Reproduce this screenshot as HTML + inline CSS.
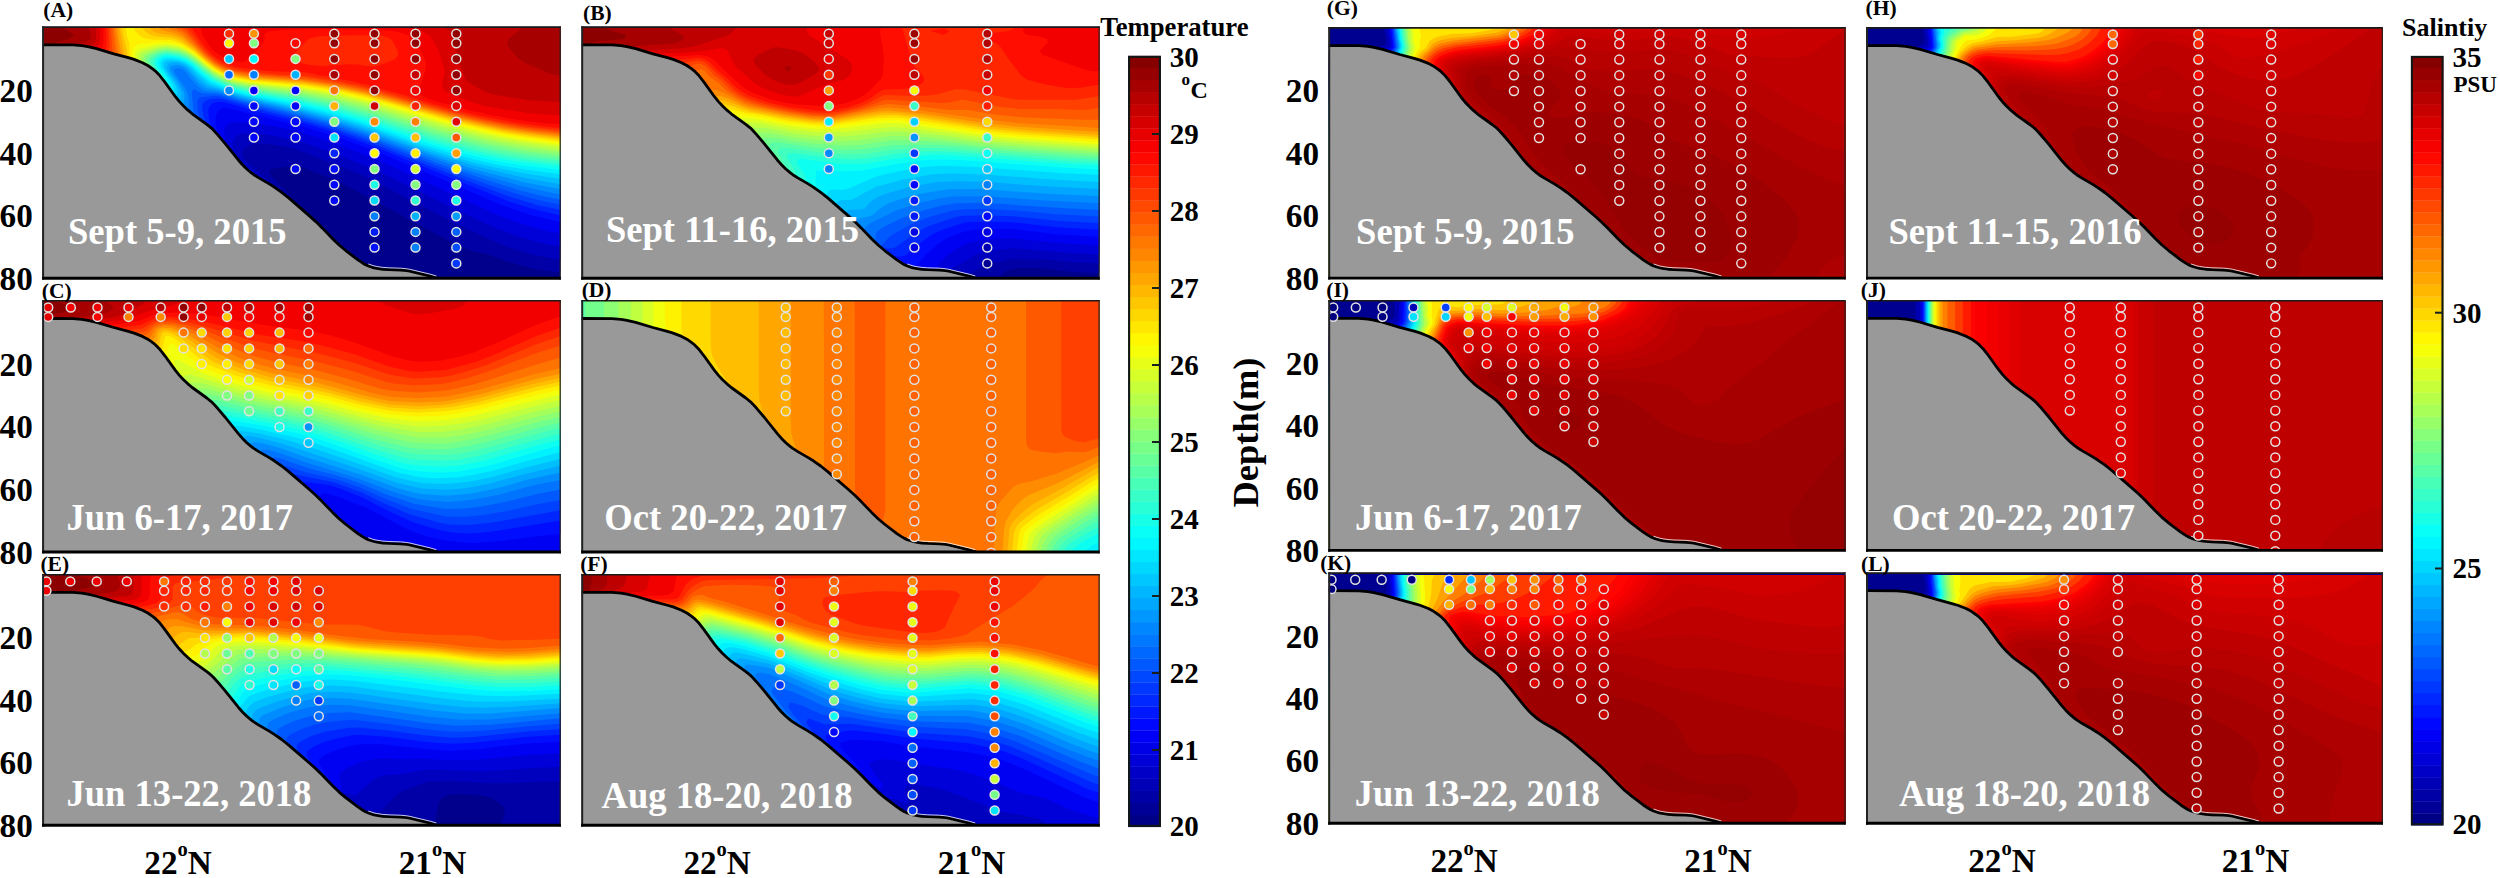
<!DOCTYPE html>
<html><head><meta charset="utf-8"><title>Temperature and salinity sections</title>
<style>html,body{margin:0;padding:0;background:#fff}svg{display:block}text{font-family:'Liberation Serif',serif;font-weight:bold}</style>
</head><body>
<svg width="2500" height="878" viewBox="0 0 2500 878">
<defs><clipPath id="cp"><rect x="0.5" y="0.5" width="517.8" height="252"/></clipPath><g id="sb"><polygon points="0.8,18.5 30.8,18.6 39.8,19.3 45.7,20.3 54.5,22.4 71.7,27.5 86.2,31.4 92,33.1 100.4,36.4 105.7,39.2 110.6,42.6 113,44.5 117.2,48.7 122.8,55.8 133.3,70.4 137.1,75.1 141.2,79.5 145.5,83.6 150.1,87.5 164.7,98 169.4,101.8 171.5,103.9 175.5,108.3 183.3,117.5 196.4,133.9 200.4,138.4 204.7,142.7 209.3,146.6 211.7,148.4 216.7,151.6 227.1,157.6 232.2,160.8 239.6,166 246.6,171.6 267,189.3 273.7,195.3 280.1,201.6 290.5,212.4 297,218.7 303.9,224.5 315.8,233.6 320.8,236.9 323.4,238.4 326.2,239.6 331.9,241.5 334.8,242.1 340.7,243 346.7,243.4 358.7,243.8 364.7,244.4 367.6,244.9 388.1,249.8 394.3,251.6 394.5,262 -5,262 -5,18.5" fill="#999" stroke="#000" stroke-width="2.8" stroke-linejoin="round"/><polyline points="326.2,237.7 331.9,239.6 334.8,240.2 340.7,241.1 346.7,241.5 358.7,241.9 364.7,242.5 367.6,243 388.1,247.9 394.3,249.7" fill="none" stroke="#fff" stroke-width="0.8"/></g></defs>
<rect width="2500" height="878" fill="#fff"/>
<!-- panel A -->
<g transform="translate(42.1,26.3) scale(1.00000,1.00000)">
<g clip-path="url(#cp)">
<rect width="518.7" height="253.4" fill="#00008c"/>
<path fill="#0000a6" d="M4.9,0.7 518.9,0.7 518.9,246.3 495,243.2 487,241.5 463.1,234.6 447.2,228.5 430.7,224.7 423.3,222.3 399.4,210.8 299.4,156.7 259.9,140.8 251.9,139.7 232,142.1 228,143.4 227,144.7 228.7,148.7 231.9,152.7 247.3,168.7 249.9,172.7 247.9,176.3 244,176.3 240,174.5 236,171.5 220.1,166.6 216.1,164.7 211.8,164.7 205.8,168.7 177.8,196.7 164.1,208.7 112.5,234.6 104,240.7 92.5,246.8 90.3,248.7 87.3,252.7 0.9,252.7 0.9,0.7Z"/>
<path fill="#0000bf" d="M4.9,0.7 518.9,0.7 518.9,233.7 492.2,228.7 463.1,219.8 443.2,211.3 415.3,198 320,148.7 251.9,122.3 244,120.4 224,117.5 216.1,116.9 212.1,117.2 208.1,118.5 204.1,121 200.5,124.7 199.9,128.7 202.1,132.7 205.6,136.7 228.7,156.7 231.4,160.7 228,164.4 224,163.8 208.1,157 202,152.7 196.1,149.9 189.1,144.7 184.2,142.4 176.5,136.7 164.3,131.6 159.8,128.7 156.3,128 150.2,128.7 136.4,133.4 128.4,134.9 120.4,137.4 92.5,143.9 76.6,149.4 68.6,150.9 60.7,153.4 32.8,159.9 16.8,165.4 8.9,166.9 0.9,169.4 0.9,0.7Z"/>
<path fill="#0000d9" d="M4.9,0.7 518.9,0.7 518.9,220.5 503,217.7 479.1,211.3 455.1,202.3 427.3,189.7 335.6,144.6 296.2,128.7 255.9,114.1 220.1,107.5 208.1,106.6 200.1,107.2 196,108.7 192.2,112 190.5,116.7 190.6,120.7 191.7,124.7 194.1,128.7 201,136.7 214.7,148.7 218.2,152.7 216.1,155.7 212.1,155.2 208.1,153.2 204.1,150.2 196.1,146.3 192.2,143.2 184.2,139.2 180.2,136 168.3,131 160.3,126.8 156.3,125.4 152.3,125.2 140.4,128.2 136.4,129.8 124.4,132.2 120.4,133.8 108.5,136.2 104.5,137.8 92.5,140.2 76.6,145.8 68.6,147.2 60.7,149.8 48.7,152.2 44.7,153.8 32.8,156.2 16.8,161.8 4.9,164.2 0.9,165.8 0.9,0.7ZM220.1,156.3 220.8,156.7 219.1,156.7Z"/>
<path fill="#0000f2" d="M4.9,0.7 518.9,0.7 518.9,207.3 506.9,205.1 483,198.8 459.1,190.1 443.2,183.3 342.5,136.7 312.9,124.7 279.9,112.7 255.9,105.3 235.2,100.7 224,98.6 196.1,95.6 192.2,95.6 188.2,96.4 184.2,99.3 182.1,104.7 182.6,112.7 183.6,116.7 187.4,124.7 196.1,136 201.3,140.7 204.1,144.9 200.1,145.4 196.1,142.6 188.2,138.9 180.2,133.8 168.3,129.2 160.3,124.8 156.3,123.7 148.3,123.2 92.5,136.9 72.6,143.4 32.8,153 16.8,158.3 0.9,162.4 0.9,0.7Z"/>
<path fill="#000dff" d="M4.9,0.7 518.9,0.7 518.9,195.9 491,189.5 459.1,178.7 399.6,152.7 342.4,128.7 311.7,116.7 288.7,108.7 262.4,100.7 208.1,87.6 198.9,84.7 184.2,81.7 180.2,82 176.1,84.7 174.2,88.7 173.5,92.7 173.6,96.7 176.2,108.7 179.2,116.7 184.2,125.4 189.8,132.7 188.2,136.2 180.2,131.4 168.3,127.6 160.3,123.4 148.3,120.5 132.4,117.6 128.4,117 124.4,117.3 116.5,120.7 108.5,122.5 96.5,127 88.6,128.9 68.6,136.1 48.7,141.8 41.8,144.7 32.8,146.8 20.8,151.4 0.9,157.9 0.9,0.7Z"/>
<path fill="#0026ff" d="M4.9,0.7 518.9,0.7 518.9,189.1 491,182.8 467.1,175.2 342.9,124.7 311.6,112.7 288.1,104.7 261,96.7 220.1,86.7 185.3,76.7 180.2,75.7 176.2,75.4 170.5,76.7 167,80.7 166.2,84.7 166.9,92.7 169.1,100.7 173.5,112.7 180.5,124.7 180.3,128.7 176.2,128.7 168.3,126.3 160.3,122.2 152.3,119.8 140.4,114.5 132.4,108.7 124.4,106.6 116.5,105.8 104.5,109.2 92.5,114.5 68.6,122.7 60.7,126.5 48.7,130.7 40.7,134.5 28.8,138.7 24.8,140.9 8.9,146.7 0.9,150.5 0.9,0.7Z"/>
<path fill="#0040ff" d="M4.9,0.7 518.9,0.7 518.9,183.7 495,178.6 467.1,170.1 423.3,153.7 319.5,112.7 296.4,104.7 255.4,92.7 228,86.2 180.2,72.7 176.2,72.1 168.3,72.7 164.3,74.2 160.7,76.7 160,80.7 161.1,88.7 166.2,104.7 169.8,112.7 175,120.7 176.6,124.7 176.2,125 172.2,125.7 168.3,124.9 164.3,122.5 152.3,118.3 140.4,111.8 136.4,108.7 126.8,104.7 120.4,103 101.7,92.7 92.5,89.8 88.6,89.2 76.6,92.5 68.6,93.9 56.7,98.6 48.7,101.1 41.9,104.7 28.8,114.5 24.4,116.7 8.9,131.7 4.9,134.3 0.9,135.7 0.9,0.7Z"/>
<path fill="#0059ff" d="M4.9,0.7 518.9,0.7 518.9,178.5 499,174.5 479.1,169.1 447.2,158.6 423.3,150.1 326,112.7 291.3,100.7 263.8,92.7 220.1,82 176.2,69.8 172.2,69.6 160.3,70.7 156.3,72 155.1,76.7 155.6,84.7 160.6,100.7 164.1,108.7 171.4,120.7 168.3,122.3 152.3,116.7 140.4,110 136.4,107.1 120.4,100.8 92.2,84.7 84.6,82.1 80.6,82.3 73.6,84.7 65.1,88.7 56.7,94.1 43.8,100.7 28.8,111.9 21.3,116.7 4.9,131.9 0.9,133.3 0.9,0.7Z"/>
<path fill="#0073ff" d="M4.9,0.7 518.9,0.7 518.9,173.4 499,169.5 479.1,164.4 435.2,150.7 395.4,136.6 321.5,108.7 285.2,96.7 256,88.7 200.1,75 176.2,67.7 160.3,66.9 154.9,64.7 152.3,62.9 149.6,64.7 151.3,84.7 156.5,100.7 163,112.7 164.6,116.7 164.3,117 160.3,117.5 155.5,116.7 144.3,110.8 136.4,105.6 120.4,99.4 116.5,96.4 89.1,80.7 84.6,79.6 80.6,79.4 75.5,80.7 67.3,84.7 41.2,100.7 28.8,110.7 24.7,112.7 20.8,115.9 8.9,127.6 4.9,130.8 0.9,132.2 0.9,0.7Z"/>
<path fill="#008cff" d="M4.9,0.7 518.9,0.7 518.9,168.2 503,165.3 479.1,159.8 427.3,144.7 367.5,123.8 316.4,104.7 287.8,95.4 259.9,87.7 200.1,73.4 176.2,65.9 163.7,64.7 160.3,63.4 156.3,60.4 149,52.7 142.7,44.7 140.4,43 136.4,41.6 132.4,43 131.7,44.7 133.9,48.7 142.5,60.7 144.5,64.7 146,68.7 146.6,72.7 146.3,80.7 148.2,88.7 152.6,100.7 159,112.7 156.3,114.2 144.3,109.2 136.4,104.1 124.4,100 120.4,98 92,80.7 84.6,78 80.6,77.7 72.6,80 63.3,84.7 45.3,96.7 28.8,109.5 23.5,112.7 8.9,126.5 4.9,129.6 0.9,131.5 0.9,0.7Z"/>
<path fill="#00a6ff" d="M4.9,0.7 518.9,0.7 518.9,163 483,156.2 431.2,142.6 399.4,132.4 319.7,103.7 291.8,94.6 259.9,85.8 200.1,71.9 176.2,64.1 164.3,62 160.3,59.7 156.3,56.1 144.3,42.7 140.4,40 136.4,38.9 132.4,38.8 128.4,40.1 127.9,40.7 128.3,44.7 136.8,56.7 141.4,64.7 142.6,68.7 141.8,80.7 142.7,84.7 147,96.7 150.5,104.7 148.3,108.1 144.3,107 136.4,102.6 124.4,98.9 96.5,82.7 92.5,79.8 88.6,78 84.6,76.5 77.1,76.7 68.6,80.2 60.7,84.4 28.8,108.5 22.3,112.7 8.9,125.5 0.9,130.9 0.9,0.7Z"/>
<path fill="#00bfff" d="M4.9,0.7 518.9,0.7 518.9,157.9 483,151.7 431.2,139.3 399.4,129.6 372.6,120.7 319.7,101.5 291.8,92.5 259.9,83.9 204.1,71.4 188.2,66.9 176.2,62.5 168.3,60.6 164.3,58.9 156.3,52.4 145.3,40.7 140.4,37.9 136.4,36.7 132.4,36.3 127.2,36.7 124.3,40.7 125.9,44.7 134.3,56.7 138.4,64.7 139.1,68.7 137.1,76.7 137.4,80.7 144.3,101.5 140.4,101.9 124.4,97.8 116.5,92.7 88.6,76.8 84.6,75.7 76.6,75.6 68.6,78.4 60.7,82.7 28.8,107.9 21.2,112.7 4.9,128 0.9,130.2 0.9,0.7Z"/>
<path fill="#00d9ff" d="M4.9,0.7 518.9,0.7 518.9,152.8 483,147.3 455.1,141.7 431.2,136.1 403.3,128.1 375.5,119.1 319.7,99.2 291.8,90.5 259.9,82.1 204.1,70 192.2,66.8 168.3,58.2 165.5,56.7 156.3,49 148.1,40.7 141.8,36.7 136.4,35 128.4,34.2 124.4,34.9 121.9,36.7 121.7,40.7 123.6,44.7 131.9,56.7 134.1,60.7 135.3,64.7 135,68.7 133.1,72.7 132.3,76.7 133.1,80.7 138.2,96.7 136.4,98 132.4,98.3 124.4,96.7 116.5,91.5 112.5,89.7 90.4,76.7 84.6,74.9 80.6,74.5 72.6,75.1 64.7,78.6 56.7,83.9 28.8,107.3 20.4,112.7 4.9,127.5 0.9,129.5 0.9,0.7Z"/>
<path fill="#00f2ff" d="M4.9,0.7 518.9,0.7 518.9,148 483,143.3 459.1,139.1 431.2,132.9 403.3,125.3 375.6,116.7 315.7,95.6 287.8,87.2 259.9,80.1 204.1,68.6 192.2,65.4 168.3,55.9 160.3,50 150.4,40.7 144.3,36.3 136.4,33.3 128.4,32.2 123,32.7 120.4,34.2 118.6,36.7 119.3,40.7 129.6,56.7 131.3,60.7 131.8,64.7 127.7,72.7 127.8,76.7 133.4,92.7 132.4,95.4 128.4,96.3 124.4,94.9 116.5,90.3 112.5,88.7 104.5,83.6 100.5,81.9 92.5,76.7 88.6,75.1 84.6,74.1 76.6,73.4 68.6,74.3 60.7,79 28.8,106.8 19.8,112.7 4.9,126.9 0.9,128.9 0.9,0.7Z"/>
<path fill="#0dfff2" d="M4.9,0.7 518.9,0.7 518.9,143.8 479.1,139 455.1,134.9 431.2,129.8 403.3,122.5 383.4,116.5 319.7,94.6 291.8,86.2 259.9,78.2 204.1,67.2 192.2,64 184.2,61.2 168.3,53.9 160.3,47.8 148.3,37.3 144.3,34.8 136.4,31.8 128.4,30.6 124.4,30.5 120.4,31.5 118.3,32.7 115.9,36.7 117,40.7 124.9,52.7 128.3,60.7 127.4,64.7 123.9,68.7 122.7,72.7 123.4,76.7 128.9,92.7 124.4,93.1 120.4,90.5 115.5,88.7 100.5,81 92.5,75.8 88.6,74.3 80.6,72.7 68.6,71.7 64.7,73 39.9,96.7 28.8,106.2 19.2,112.7 4.9,126.4 0.9,128.4 0.9,0.7Z"/>
<path fill="#26ffd9" d="M4.9,0.7 518.9,0.7 518.9,140.3 479.1,135.8 455.1,131.8 431.2,126.7 407.3,120.7 380.1,112.7 319.7,92.1 287.8,82.9 259.9,76.2 208.1,66.6 192.2,62.7 184.2,59.9 172.2,54.5 164.3,49 149.7,36.7 144.3,33.3 136.4,30.4 124.4,28.8 120.4,29.6 115,32.7 113.4,36.7 114.9,40.7 122.6,52.7 124.4,56.7 124.4,61.2 118.2,68.7 118.1,72.7 121.8,84.7 120.4,87.3 116.5,87 112.5,85.8 108.5,83.3 100.5,79.8 92.5,74.9 88.6,73.5 76.6,71.2 68.6,68.8 64.7,69.6 60.7,74 59.1,76.7 43.7,92.7 28.8,105.6 18.6,112.7 4.9,125.8 0.9,128 0.9,0.7Z"/>
<path fill="#40ffbf" d="M4.9,0.7 518.9,0.7 518.9,137.3 483,133.4 459.1,129.5 435.2,124.6 407.3,117.7 387.4,112 323.7,90.8 291.8,81.7 259.9,74.2 216.1,66.7 196.1,62.5 184.2,58.7 172.2,52.9 164.3,47.4 151.6,36.7 144.3,32 136.4,29 124.4,27.4 120.4,27.9 116.5,29.6 112.1,32.7 111.1,36.7 112.8,40.7 120.1,52.7 121.2,56.7 119.9,60.7 114.8,64.7 113.1,68.7 113.8,72.7 116.3,80.7 112.5,83.5 100.5,78.5 92.5,73.9 84.6,71.6 76.6,70.2 68.6,67.2 64.7,67.6 60.7,71.7 57.5,76.7 43,92.7 28.8,105 18,112.7 4.9,125.3 0.9,127.6 0.9,0.7Z"/>
<path fill="#59ffa6" d="M4.9,0.7 518.9,0.7 518.9,134.5 483,130.4 459.1,126.6 439.2,122.5 411.3,115.8 387.4,109 323.7,88.2 291.8,79.4 259.9,72.2 208.1,63.8 192.2,60.2 184.2,57.4 172.2,51.5 164.3,45.9 152.3,35.9 144.3,30.7 136.4,27.7 124.4,26.1 120.4,26.6 116.5,27.8 109.1,32.7 108.8,36.7 115.7,48.7 117.4,52.7 117.5,56.7 116.5,58.2 108.6,64.7 108.5,68.7 110.2,76.7 108.5,78.4 104.5,78.3 100.5,77.3 96.5,74.6 92.5,73 88.6,71.6 76.6,69.1 68.6,65.8 64.7,66.2 60.7,69.7 56.2,76.7 42.3,92.7 28.8,104.5 17.4,112.7 4.9,124.7 0.9,127.2 0.9,0.7Z"/>
<path fill="#73ff8c" d="M4.9,0.7 518.9,0.7 518.9,131.7 483,127.5 459.1,123.6 439.2,119.5 391.4,107.2 323.7,85.6 291.8,77 259.9,70.2 212.1,63.1 192.2,59 184.2,56.2 172.2,50.2 152.3,34.6 144.3,29.4 136.4,26.4 124.4,24.8 116.5,26.3 110.9,28.7 106.2,32.7 106.5,36.7 113.2,48.7 114.2,52.7 112.5,56.7 105.3,60.7 104.5,62 103.4,64.7 105,72.7 104.5,74.1 100.5,74.8 92.5,71.6 78.3,68.7 68.6,64.4 64.7,64.7 60.7,68.2 55.4,76.7 41.5,92.7 28.8,104 16.8,112.6 4.9,124.3 0.9,126.8 0.9,0.7Z"/>
<path fill="#8cff73" d="M4.9,0.7 518.9,0.7 518.9,129 483,124.7 443.2,117.5 395.4,105.3 327.6,84.1 291.8,74.7 262.4,68.7 216.1,62.4 192.2,57.8 184.2,55 172.2,48.9 164.3,43.2 152.3,33.3 144.3,28.2 136.4,25.2 124.4,23.5 116.5,24.8 106.9,28.7 103.3,32.7 104.2,36.7 110.4,48.7 110.4,52.7 108.5,54.7 100.5,59.2 99,60.7 99,68.7 96.5,70.3 81.8,68.7 68.6,63.4 64.7,63.7 60.7,67.1 54.5,76.7 40.8,92.7 28.8,103.5 16.8,112.2 4.9,123.8 0.9,126.4 0.9,0.7Z"/>
<path fill="#a6ff59" d="M4.9,0.7 518.9,0.7 518.9,126.2 483,121.8 459.1,117.8 439.2,113.5 395.4,102.4 324.8,80.7 292.9,72.7 259.9,66.4 208.1,59.9 192.2,56.6 184.2,53.9 172.2,47.7 164.3,41.9 152.3,32 144.3,26.9 136.4,23.8 124.4,22.3 116.5,23.3 102.6,28.7 100.7,32.7 102,36.7 106.2,44.7 107.2,48.7 105.1,52.7 95.9,56.7 93.8,60.7 94,64.7 92.5,67.1 88.6,67.9 80.6,67.1 72.6,63.3 68.6,62.3 64.7,62.8 60.7,66 53.6,76.7 40.2,92.7 28.8,103.1 16.8,111.7 4.9,123.4 0.9,126.1 0.9,0.7Z"/>
<path fill="#bfff40" d="M4.9,0.7 518.9,0.7 518.9,123.6 483,119 459.1,115 443.2,111.6 395.4,99.5 319.3,76.7 284.1,68.7 259.9,64.5 208.1,58.6 192.2,55.5 184.2,52.7 172.2,46.5 152.3,30.8 144.3,25.7 136.4,22.5 124.4,21 116.5,21.8 100.5,27.2 98.8,28.7 98.2,32.7 103.4,44.7 103.3,48.7 100.5,51 92.5,54.1 89.4,56.7 88.9,64.7 84.6,65.9 80.6,65.7 72.6,62.1 68.6,61.3 64.7,61.8 60.7,64.9 52.7,76.7 39.6,92.7 28.8,102.6 16.8,111.3 4.9,122.9 0.9,125.7 0.9,0.7Z"/>
<path fill="#d9ff26" d="M4.9,0.7 518.9,0.7 518.9,121 479.1,115.7 455.1,111.5 435.2,107 399.4,97.9 327.5,76.7 293.9,68.7 259.9,62.9 216.1,58.5 192.2,54.4 184.2,51.7 172.2,45.4 152.3,29.5 144.3,24.4 136.4,21.2 124.4,19.4 116.5,20.2 100.5,24.3 96.5,27.1 95.6,28.7 95.8,32.7 99.3,40.7 100.3,44.7 97.6,48.7 86.3,52.7 84.1,56.7 84.4,60.7 80.6,63.5 68.6,60.1 64.7,60.8 60.7,63.9 52.7,75.8 39,92.7 28.8,102.1 16.8,110.8 4.9,122.5 0.9,125.3 0.9,0.7Z"/>
<path fill="#f2ff0d" d="M4.9,0.7 518.9,0.7 518.9,118.8 487,114.7 463.1,110.7 443.2,106.5 399.4,95.6 334.8,76.7 302.4,68.7 282.1,64.7 259.9,61.3 220.1,57.7 204.1,55.7 192.2,53.3 184.2,50.6 172.2,44.3 164.3,38.4 152.3,28.3 144.3,23.1 136.4,19.6 132.4,18.6 124.4,17.7 116.5,18.2 96.5,22.7 94.3,24.7 92.7,28.7 93.4,32.7 96.6,40.7 96.3,44.7 92.5,47.1 84.6,49.4 80.6,51.8 79.7,52.7 78.8,56.7 76.6,58.7 68.6,58.6 64.7,59.6 60.7,62.9 52.7,74.8 38.4,92.7 28.8,101.6 16.8,110.3 4.9,122.1 0.9,124.9 0.9,0.7Z"/>
<path fill="#fff200" d="M4.9,0.7 518.9,0.7 518.9,116.6 479.1,111.3 459.1,107.9 435.2,102.6 403.3,94.7 326.4,72.7 290.5,64.7 259.9,59.9 208.1,55.1 192.2,52.2 184.2,49.5 172.2,43.2 163.6,36.7 152.3,26.9 140.4,19.6 132.4,16.9 120.4,15.8 96.5,17.9 92.5,20.1 90.5,24.7 90,28.7 93.3,40.7 92.5,42.5 90.2,44.7 76.6,48.7 71.6,56.7 64.7,58.3 60.7,62 52.7,73.9 37.8,92.7 28.8,101.2 16.8,109.9 4.9,121.6 0.9,124.5 0.9,0.7Z"/>
<path fill="#ffd900" d="M4.9,0.7 83.9,0.7 84.5,8.7 87.1,16.7 87.5,28.7 89.7,36.7 89.3,40.7 88.6,41.4 84.6,43.3 76.6,45 72.6,46.6 70.1,48.7 69.1,52.7 60.7,61 56.7,66.3 52.7,73 44.7,82.4 40.7,88.7 37.2,92.7 28.8,100.7 16.8,109.4 4.9,121.2 0.9,124 0.9,0.7ZM92.5,0.7 518.9,0.7 518.9,114.9 483,110.3 463.1,107 443.2,102.8 407.3,94.1 332.1,72.7 297.8,64.7 263.9,59.2 216.1,55 204.1,53.5 192.2,51.1 180.2,46.6 172.2,42.1 164.3,36.1 152.3,25.6 140.4,17.8 132.4,14.6 128.4,13.8 112.5,13.4 104.5,12.5 100.5,11.1 96.7,8.7 93.1,4.7 90.9,0.7Z"/>
<path fill="#ffbf00" d="M4.9,0.7 79.8,0.7 80.6,7.5 84.1,20.7 86.4,36.7 84.6,39.6 82.9,40.7 67.2,44.7 65.1,48.7 65.3,52.7 63.4,56.7 60.7,59.6 52.2,72.7 44.7,81.5 40,88.7 28.2,100.7 16.8,109 4.9,120.7 0.9,123.6 0.9,0.7ZM100.5,0.7 518.9,0.7 518.9,113.2 491,109.8 467.1,106.1 431.2,98.5 399.4,90.4 322,68.7 299.7,63.8 283.1,60.7 259.9,57.4 220.1,54.3 204.1,52.4 192.2,50.1 180.2,45.6 172.2,41 161.6,32.7 152.3,24.1 136.4,13.6 128.4,11.2 116.5,10.4 108.5,8.7 102.6,4.7 99.8,0.7Z"/>
<path fill="#ffa600" d="M4.9,0.7 77.2,0.7 83,32.7 82.2,36.7 80.6,37.9 76.6,39.3 64.7,41.8 60.8,44.7 62.7,52.7 61.8,56.7 51.4,72.7 44.7,80.7 39.3,88.7 27.5,100.7 16.8,108.5 4.9,120.2 0.9,123.1 0.9,0.7ZM108.5,0.7 518.9,0.7 518.9,111.7 479.1,106.5 459.1,103.2 435.2,98 403.3,90.1 323.7,67.9 290,60.7 259.9,56.2 216.1,52.8 200.1,50.7 192.2,49 180.6,44.7 173.6,40.7 163.1,32.7 152.3,22.6 140.4,13.5 136.4,11.1 128.4,8.6 116.5,6.9 112.5,5.6 110.8,4.7 107.6,0.7Z"/>
<path fill="#ff8c00" d="M4.9,0.7 75,0.7 75.8,8.7 79.6,28.7 79.7,32.7 76.6,36.2 75.5,36.7 60.7,39.5 57.7,40.7 56.5,44.7 60.5,52.7 60.3,56.7 50.6,72.7 43.9,80.7 38.6,88.7 35.1,92.7 26.9,100.7 16.8,107.9 4.9,119.6 0.9,122.7 0.9,0.7ZM116.5,0.7 518.9,0.7 518.9,110.2 487,106.4 463.1,102.6 443.2,98.4 407.3,89.9 323.7,66.6 291.8,59.8 259.9,55 224,52.5 204.1,50.2 192.2,47.9 183,44.7 172.2,38.6 164.6,32.7 152.3,21 140.4,10.8 132.4,7 120.4,4 115.3,0.7Z"/>
<path fill="#ff7300" d="M4.9,0.7 72.8,0.7 76.6,28.7 75.3,32.7 72.6,34.3 56.7,37.3 52.7,39.6 51.9,40.7 53.3,44.7 58.6,52.7 59,56.7 57.4,60.7 49.8,72.7 43,80.7 38,88.7 34.4,92.7 26.3,100.7 16.8,107.3 0.9,122.2 0.9,0.7ZM124.4,0.7 518.9,0.7 518.9,108.8 487,105 463.1,101.2 443.2,97.1 407.8,88.7 327.6,66.4 291.8,58.6 259.9,53.9 232,52 204.1,49.1 192.2,46.7 180.2,42.2 172.2,37.4 161.7,28.7 140.4,8 136.4,5.8 123.7,0.7Z"/>
<path fill="#ff5900" d="M4.9,0.7 70.7,0.7 73.4,24.7 72.6,29.6 68.6,32.6 52.7,35.2 48.4,36.7 48,40.7 56.7,52.7 57.7,56.7 56.4,60.7 49,72.7 42.2,80.7 37.3,88.7 33.7,92.7 25.6,100.7 16.8,106.8 0.9,121.8 0.9,0.7ZM132.4,0.7 518.9,0.7 518.9,107.2 494.7,104.7 467.9,100.7 431.2,93.2 397.9,84.7 335.6,67.1 319.7,63 295.8,58.1 263.9,53.1 210.4,48.7 192.2,45.5 180.2,41 173.2,36.7 163.3,28.7 144.3,8.3 140.4,5.1 131.6,0.7Z"/>
<path fill="#ff4000" d="M4.9,0.7 68.6,0.7 70.3,24.7 68.8,28.7 64.7,30.6 48.7,32.9 44.7,34.6 43,36.7 44.8,40.7 54.7,52.7 56.4,56.7 55,60.7 48.7,71.6 41.3,80.7 36.5,88.7 33,92.7 25,100.7 16.8,106.2 0.9,121.3 0.9,0.7ZM140.4,0.7 518.9,0.7 518.9,105.6 477.5,100.7 435.5,92.7 403.1,84.7 323.7,62.5 287.8,55 259.9,51 222.5,48.7 194,44.7 182.5,40.7 176.2,37.3 170,32.7 161.3,24.7 144.3,5 138.3,0.7Z"/>
<path fill="#ff2600" d="M4.9,0.7 66.4,0.7 67.5,20.7 66.8,24.7 64.7,27.1 61.1,28.7 44.7,30.9 39.2,32.7 38.9,36.7 52.7,52.7 54.5,56.7 53.7,60.7 48.7,69.7 40.3,80.7 35.4,88.7 32,92.7 24,100.7 16.8,105.7 0.9,120.9 0.9,0.7ZM144.3,0.7 518.9,0.7 518.9,103.8 488.3,100.7 462.5,96.7 442.7,92.7 409,84.7 331.6,62.7 315.7,58.7 303.3,56.7 291.8,53.9 263.9,49.7 240,48.6 201.7,44.7 188.2,41.2 178.2,36.7 167.4,28.7 160.1,20.7 148.3,5.4 143.8,0.7Z"/>
<path fill="#ff0d00" d="M4.9,0.7 64,0.7 64.5,16.7 64.3,20.7 62.1,24.7 60.7,25.5 56.7,26.7 40.1,28.7 36.8,29.8 34,32.7 35.6,36.7 47.4,48.7 50.3,52.7 52.5,56.7 51.9,60.7 45,72.7 38.9,80.7 34.3,88.7 30.9,92.7 23,100.7 16.8,105.1 0.9,120.2 0.9,0.7ZM152.3,0.7 518.9,0.7 518.9,101.5 506.2,100.7 475.2,96.7 433.4,88.7 387.5,76.7 367.5,70.1 332.1,60.7 327.6,58.9 316.5,56.7 311.7,55.1 297.1,52.7 287.8,50.1 274.5,48.7 271.9,47.6 263.9,46.1 224.8,44.7 193.4,40.7 182.5,36.7 175.6,32.7 170.6,28.7 164.3,22.3 157,12.7 149,0.7ZM266.9,12.7 258,20.7 251.1,28.7 251.4,32.7 259.9,37 267.9,38.6 279.8,39.8 307.7,37.9 315.7,38.2 327.6,40.1 331.6,40.1 335.6,39.4 347.6,35.2 352.9,32.7 355.5,29.6 356.1,28.7 355.6,24.7 351.7,16.7 348.7,12.7 343.6,10.3 339.6,9.2 331.6,8.7 291.8,9.4 275.8,10.1 267.9,12.3Z"/>
<path fill="#f20000" d="M4.9,0.7 61.3,0.7 61.3,16.7 60.4,20.7 56.7,23.6 52.7,24.8 36.8,26.5 30.4,28.7 30.3,32.7 32.6,36.7 44.7,48.2 47.7,52.7 49,56.7 48.7,60.7 45,68.7 33.2,88.7 24.8,98 12.9,107.8 0.9,119.2 0.9,0.7ZM160.3,0.7 518.9,0.7 518.9,97.9 498.5,96.7 469.5,92.7 459.1,90.4 447.7,88.7 439.2,86.4 429.3,84.7 407.3,78.3 399.6,76.7 386.3,72.7 378.6,68.7 376.5,64.7 383.1,44.7 383.7,40.7 383.6,36.7 382.5,32.7 378.4,24.7 370.3,12.7 365.6,8.7 359.5,6.7 351.2,4.7 335.6,3.6 271.9,3 240,3.7 227.8,4.7 224,6.7 221.9,8.7 222.7,12.7 220.8,16.7 217.5,20.7 206.3,32.7 204.1,34.2 200.1,35.6 196.1,35.5 185.3,32.7 177.4,28.7 172.2,25 168,20.7 160.5,8.7 158.2,0.7Z"/>
<path fill="#d90000" d="M4.9,0.7 57.9,0.7 57.9,12.7 57.5,16.7 54.7,20.7 48.7,22.5 30.1,24.7 28.8,25.1 25.4,28.7 27.1,32.7 32.8,40.2 42.3,48.7 44.9,52.7 44.9,56.7 44,60.7 42.8,64.7 37.5,76.7 32.8,86.4 28.5,92.7 24.8,97 20.8,100.7 16.8,103.2 0.9,118.3 0.9,0.7ZM355.5,0.7 518.9,0.7 518.9,89.3 487,86.9 443.2,79.9 431.7,76.7 403.3,65.2 400,60.7 400.2,56.7 402,48.7 402.2,44.7 401.5,40.7 396.6,24.7 390,12.7 386.9,8.7 378.9,4.7 367.5,2.2 355.5,0.7Z"/>
<path fill="#bf0000" d="M4.9,0.7 53.6,0.7 54,8.7 53.8,12.7 52.5,16.7 48.7,19 44.7,20 28.8,21.8 24.8,22.7 21.4,24.7 21.6,28.7 24.1,32.7 32.8,44.3 37.9,48.7 40.7,52.6 40.3,56.7 32.8,79.4 29,88.7 23.5,96.7 16.8,102 0.9,117.4 0.9,0.7ZM403.3,0.7 518.9,0.7 518.9,75.8 487,73.9 453.1,68.7 441.2,64.7 427.6,56.7 423.3,52.7 421.6,48.7 415.3,31.2 409,8.7 407,4.7 402.6,0.7Z"/>
<path fill="#a60000" d="M4.9,0.7 45.5,0.7 48,4.7 48.9,8.7 48.2,12.7 44.7,15.5 40.9,16.7 20.8,19.6 18.1,20.7 15.6,24.7 17.8,28.7 24.2,36.7 26.4,40.7 27.2,44.7 25.9,84.7 23.9,92.7 21.4,96.7 0.9,116.2 0.9,0.7ZM479.1,2.1 480.5,0.7 518.9,0.7 518.9,49.4 512.9,48.7 506.9,47 483.2,36.7 476.6,32.7 472.7,28.7 466.3,20.7 464.8,16.7 466.4,12.7 476.3,4.7Z"/>
<path fill="#8c0000" d="M4.9,0.7 20.2,0.7 32.3,8.7 26.7,12.7 16.8,15.1 12.9,16.7 8.7,20.7 9.1,24.7 12,28.7 19.8,36.7 21.7,40.7 20.5,52.7 20.4,88.7 19.7,92.7 17.6,96.7 0.9,113.3 0.9,0.7Z"/>
<use href="#sb"/>
<g stroke="#e2e2e2" stroke-width="1.5"><circle cx="186.9" cy="7.5" r="4.5" fill="#ff2e00"/><circle cx="186.9" cy="16.9" r="4.5" fill="#fffa00"/><circle cx="186.9" cy="32.6" r="4.5" fill="#00c7ff"/><circle cx="186.9" cy="48.4" r="4.5" fill="#006bff"/><circle cx="186.9" cy="64.1" r="4.5" fill="#008aff"/><circle cx="211.8" cy="7.5" r="4.5" fill="#ff9400"/><circle cx="211.8" cy="16.9" r="4.5" fill="#80ff80"/><circle cx="211.8" cy="32.6" r="4.5" fill="#00faff"/><circle cx="211.8" cy="48.4" r="4.5" fill="#0080ff"/><circle cx="211.8" cy="64.1" r="4.5" fill="#0000fa"/><circle cx="211.8" cy="79.8" r="4.5" fill="#0005ff"/><circle cx="211.8" cy="95.5" r="4.5" fill="#0005ff"/><circle cx="211.8" cy="111.3" r="4.5" fill="#0005ff"/><circle cx="253.4" cy="16.9" r="4.5" fill="#ff0500"/><circle cx="253.4" cy="32.6" r="4.5" fill="#80ff80"/><circle cx="253.4" cy="48.4" r="4.5" fill="#00b2ff"/><circle cx="253.4" cy="64.1" r="4.5" fill="#0005ff"/><circle cx="253.4" cy="79.8" r="4.5" fill="#0005ff"/><circle cx="253.4" cy="95.5" r="4.5" fill="#0005ff"/><circle cx="253.4" cy="111.3" r="4.5" fill="#0005ff"/><circle cx="253.4" cy="142.7" r="4.5" fill="#0005ff"/><circle cx="292.2" cy="7.5" r="4.5" fill="#940000"/><circle cx="292.2" cy="16.9" r="4.5" fill="#940000"/><circle cx="292.2" cy="32.6" r="4.5" fill="#940000"/><circle cx="292.2" cy="48.4" r="4.5" fill="#a80000"/><circle cx="292.2" cy="64.1" r="4.5" fill="#ff7500"/><circle cx="292.2" cy="79.8" r="4.5" fill="#ffb300"/><circle cx="292.2" cy="95.5" r="4.5" fill="#80ff80"/><circle cx="292.2" cy="111.3" r="4.5" fill="#00e5ff"/><circle cx="292.2" cy="127" r="4.5" fill="#0024ff"/><circle cx="292.2" cy="142.7" r="4.5" fill="#000fff"/><circle cx="292.2" cy="158.4" r="4.5" fill="#0005ff"/><circle cx="292.2" cy="174.2" r="4.5" fill="#0005ff"/><circle cx="332.4" cy="7.5" r="4.5" fill="#940000"/><circle cx="332.4" cy="16.9" r="4.5" fill="#940000"/><circle cx="332.4" cy="32.6" r="4.5" fill="#940000"/><circle cx="332.4" cy="48.4" r="4.5" fill="#940000"/><circle cx="332.4" cy="64.1" r="4.5" fill="#940000"/><circle cx="332.4" cy="79.8" r="4.5" fill="#d10000"/><circle cx="332.4" cy="95.5" r="4.5" fill="#ff8a00"/><circle cx="332.4" cy="111.3" r="4.5" fill="#ffc700"/><circle cx="332.4" cy="127" r="4.5" fill="#fffa00"/><circle cx="332.4" cy="142.7" r="4.5" fill="#80ff80"/><circle cx="332.4" cy="158.4" r="4.5" fill="#1affe5"/><circle cx="332.4" cy="174.2" r="4.5" fill="#00dbff"/><circle cx="332.4" cy="189.9" r="4.5" fill="#0080ff"/><circle cx="332.4" cy="205.6" r="4.5" fill="#001aff"/><circle cx="332.4" cy="221.3" r="4.5" fill="#000fff"/><circle cx="373.4" cy="7.5" r="4.5" fill="#940000"/><circle cx="373.4" cy="16.9" r="4.5" fill="#940000"/><circle cx="373.4" cy="32.6" r="4.5" fill="#940000"/><circle cx="373.4" cy="48.4" r="4.5" fill="#c70000"/><circle cx="373.4" cy="64.1" r="4.5" fill="#f00000"/><circle cx="373.4" cy="79.8" r="4.5" fill="#ff2400"/><circle cx="373.4" cy="95.5" r="4.5" fill="#ff8000"/><circle cx="373.4" cy="111.3" r="4.5" fill="#ffbd00"/><circle cx="373.4" cy="127" r="4.5" fill="#fff000"/><circle cx="373.4" cy="142.7" r="4.5" fill="#d1ff2e"/><circle cx="373.4" cy="158.4" r="4.5" fill="#80ff80"/><circle cx="373.4" cy="174.2" r="4.5" fill="#2effd1"/><circle cx="373.4" cy="189.9" r="4.5" fill="#00b2ff"/><circle cx="373.4" cy="205.6" r="4.5" fill="#0080ff"/><circle cx="373.4" cy="221.3" r="4.5" fill="#0080ff"/><circle cx="414.2" cy="7.5" r="4.5" fill="#940000"/><circle cx="414.2" cy="16.9" r="4.5" fill="#940000"/><circle cx="414.2" cy="32.6" r="4.5" fill="#940000"/><circle cx="414.2" cy="48.4" r="4.5" fill="#940000"/><circle cx="414.2" cy="64.1" r="4.5" fill="#940000"/><circle cx="414.2" cy="79.8" r="4.5" fill="#db0000"/><circle cx="414.2" cy="95.5" r="4.5" fill="#e50000"/><circle cx="414.2" cy="111.3" r="4.5" fill="#ff5700"/><circle cx="414.2" cy="127" r="4.5" fill="#ff9e00"/><circle cx="414.2" cy="142.7" r="4.5" fill="#faff05"/><circle cx="414.2" cy="158.4" r="4.5" fill="#80ff80"/><circle cx="414.2" cy="174.2" r="4.5" fill="#1affe5"/><circle cx="414.2" cy="189.9" r="4.5" fill="#009eff"/><circle cx="414.2" cy="205.6" r="4.5" fill="#0061ff"/><circle cx="414.2" cy="221.3" r="4.5" fill="#004dff"/><circle cx="414.2" cy="237.1" r="4.5" fill="#0038ff"/></g>
</g>
<path d="M0,0.8H518.7" stroke="#1a1a1a" stroke-width="1.6"/>
<path d="M1,0V253.4" stroke="#222" stroke-width="2"/>
<path d="M518.1,0V253.4" stroke="#222" stroke-width="1.2"/>
<path d="M0,251.95H518.7" stroke="#000" stroke-width="2.9"/>
</g>
<text transform="translate(68.0,243.7) scale(1,1.06)" font-size="36.6" fill="#fff">Sept 5-9, 2015</text>
<!-- panel B -->
<g transform="translate(581.2,26.3) scale(0.99961,1.00000)">
<g clip-path="url(#cp)">
<rect width="518.7" height="253.4" fill="#00008c"/>
<path fill="#0000a6" d="M4.8,0.7 519,0.7 519,246.9 495.1,245.9 459.2,242 439.3,241.8 431.3,243 425.3,244.7 419.6,248.7 419.9,252.7 0.8,252.7 0.8,0.7Z"/>
<path fill="#0000bf" d="M4.8,0.7 519,0.7 519,237.3 491.1,235.9 463.2,233.2 431.3,232.8 410.3,236.7 387.5,247.3 383.5,248.3 375.5,248 372.4,248.7 371.5,249 369.8,252.7 0.8,252.7 0.8,0.7Z"/>
<path fill="#0000d9" d="M4.8,0.7 519,0.7 519,228.2 495.1,227 435.3,222.3 427.3,222.5 407.4,224.7 395.4,227.9 373.8,240.7 371.5,241.5 367.5,244.9 366.2,248.7 365.9,252.7 0.8,252.7 0.8,0.7Z"/>
<path fill="#0000f2" d="M4.8,0.7 519,0.7 519,219.2 479.1,216.6 431.3,212 407.4,213 395.4,214.6 387.4,216.7 378.8,220.7 366.6,228.7 358.1,236.7 356.5,240.7 361.6,248.7 362.4,252.7 0.8,252.7 0.8,0.7Z"/>
<path fill="#000dff" d="M4.8,0.7 519,0.7 519,210.7 475.2,207.9 431.3,202.8 399.4,202.9 385,204.7 373.5,208.7 364.8,212.7 355.6,218.6 344.6,228.7 337.1,236.7 334.3,240.7 332.2,244.7 331.7,247.8 330.2,248.7 328.5,252.7 303.7,252.7 299.8,248.7 291.8,248.7 287.8,252.7 0.8,252.7 0.8,0.7Z"/>
<path fill="#0026ff" d="M4.8,0.7 519,0.7 519,203.5 475.2,200.9 431.3,195.9 399.4,195.4 383.5,196.2 359.6,204.2 351.6,207.8 344.5,212.7 323.7,229.5 319.7,230.3 315.7,230.1 303.7,226.4 299.8,226.6 283.8,233.6 274.4,236.7 259.9,243.9 247.9,248.1 237.9,252.7 0.8,252.7 0.8,0.7Z"/>
<path fill="#0040ff" d="M4.8,0.7 519,0.7 519,196.9 475.2,194.4 431.3,189.9 399.4,189 379.5,189.8 371.5,191.8 345.2,200.7 331.6,208.7 315,220.7 311.7,221.9 303.7,222.2 299.8,223.1 283.8,230.7 275.8,233.2 255.9,242.7 247.9,245.2 231,252.7 0.8,252.7 0.8,0.7Z"/>
<path fill="#0059ff" d="M4.8,0.7 519,0.7 519,190.3 475.2,187.9 435.3,184.2 407.4,182.8 383.5,182.9 371.5,184.2 347.6,190.9 332.2,196.7 310.8,208.7 306,212.7 303.2,216.7 298.2,220.7 291.2,224.7 283.8,228.2 275.8,230.6 255.9,240.2 247.9,242.6 232,249.6 226.9,252.7 0.8,252.7 0.8,0.7Z"/>
<path fill="#0073ff" d="M4.8,0.7 519,0.7 519,183.7 475.2,181.5 403.4,176.4 375.5,176.9 363.5,178.7 343.6,183.7 328.6,188.7 318.9,192.7 302.4,200.7 295.8,205.4 294.4,208.7 294.9,216.7 292.2,220.7 285.3,224.7 275.8,227.7 257.4,236.7 247.9,239.7 237.5,244.7 228,248.2 223.6,252.7 0.8,252.7 0.8,0.7Z"/>
<path fill="#008cff" d="M4.8,0.7 519,0.7 519,177 463.2,174.2 403.4,169.9 371.5,170.3 359.6,172 339.6,176.3 315.7,184 289.7,196.7 284.4,200.7 280.2,208.7 279.8,210.7 277.2,212.7 275.8,215.7 267.9,216.7 251.9,216.7 247.9,212.7 244,212.7 240,216.7 232,216.7 228,220.7 220,220.7 216.1,224.7 204.1,224.7 200.1,228.7 192.1,228.7 188.1,232.7 180.2,232.7 176.2,236.7 168.2,236.7 164.2,240.7 160.2,240.7 156.3,244.7 148.3,244.7 144.3,248.7 140.3,248.7 136.3,252.7 0.8,252.7 0.8,0.7Z"/>
<path fill="#00a6ff" d="M4.8,0.7 519,0.7 519,169.9 463.2,167.2 399.4,162.7 367.5,162.9 347.6,165.9 331.7,169.3 307.7,176.8 300.9,180.7 291.6,188.7 287.8,190.3 275.9,192.7 271.9,195.4 267.9,195.8 263.9,195.2 255.9,192.6 251.9,192 248.1,192.7 200.1,208.6 184,212.7 152.3,223.9 140.3,229.5 132.3,231.9 120.4,237.5 112.4,239.9 100.5,245.5 90.7,248.7 83,252.7 0.8,252.7 0.8,0.7Z"/>
<path fill="#00bfff" d="M4.8,0.7 519,0.7 519,162.8 467.2,160.2 403.4,155.5 375.5,155 355.6,155.8 328.9,160.7 307.7,166.5 299.8,169.3 291.8,173.6 288.1,176.7 283.8,182 279.8,183.1 267.9,183.4 259.9,187.9 251.9,188 200.1,205.5 188.1,207.9 164.2,216.3 152.3,220.9 140.3,226.5 132.3,228.9 120.4,234.5 112.4,236.9 100.5,242.5 92.5,244.9 84.6,248.7 78.3,252.7 0.8,252.7 0.8,0.7Z"/>
<path fill="#00d9ff" d="M4.8,0.7 519,0.7 519,155.6 479.1,153.7 403.4,148.2 371.5,147.2 351.6,147.9 319.7,153.6 295.8,160.3 283.8,166.1 271.9,173 267.9,173.7 259.9,173.8 255.9,175.7 253.5,180.7 249.4,184.7 244,187.1 200.1,202.1 188.1,204.9 152.3,218.2 140.3,223.8 132.3,226.3 120.4,231.8 112.4,234.3 100.5,239.8 88.5,244.1 80.5,248.1 74.9,252.7 0.8,252.7 0.8,0.7Z"/>
<path fill="#00f2ff" d="M4.8,0.7 519,0.7 519,148.6 483.1,146.9 396.7,140.7 359.6,139.5 342.9,140.7 319.2,144.7 299.8,149 291.8,151.4 271.9,160.5 263.9,163.3 259.9,163.7 251.9,163.2 247.9,164 245.1,168.7 243.8,176.7 241.4,180.7 240,181.7 236,183.1 224,185.1 208.2,192.7 184.2,201.9 159.2,212.7 152.3,214.9 140.6,220.7 132.3,223 120.4,228.8 112.4,231 100.5,236.8 92.5,239 76.5,246.8 74.3,248.7 71.3,252.7 0.8,252.7 0.8,0.7Z"/>
<path fill="#0dfff2" d="M4.8,0.7 519,0.7 519,143.2 487.1,141.6 375.5,133.5 355.6,133.2 343.6,133.7 315.7,137.7 279.8,144.5 263.9,145 236,144.1 234.7,144.7 234.7,164.7 233.2,168.7 232,169.6 228,170.8 224,171.3 220,171.2 216.1,170.1 208.1,166.8 205.3,164.7 197.4,160.7 188.1,157.8 168.2,154.7 160.2,152.8 156.3,152.7 152.3,148.7 148.3,152.7 144.3,152.7 140.3,156.7 136.3,156.7 132.3,160.7 124.4,160.7 120.4,164.7 116.4,164.7 112.4,168.7 104.4,168.7 100.5,172.7 96.5,172.7 92.5,176.7 88.5,176.7 84.5,180.7 76.5,180.7 72.6,184.7 68.6,184.7 64.6,188.7 60.6,188.7 56.6,192.7 48.6,192.7 44.6,196.7 40.7,196.7 36.7,200.7 32.7,200.7 28.7,204.7 20.7,204.7 16.7,208.7 0.8,208.7 0.8,0.7Z"/>
<path fill="#26ffd9" d="M4.8,0.7 519,0.7 519,139.3 487.1,137.8 375.5,129.4 359.6,128.8 347.6,128.8 339.6,129.4 311.7,132.6 287.8,137 279.8,137.6 259.9,137.6 220,132.5 218.1,132.7 216.1,135.2 215.9,136.7 223.4,148.7 224.6,152.7 225,156.7 224,161.1 220,162.8 212.1,161.5 196.1,154 184.2,147.5 167.2,136.7 159.8,132.7 156.3,131.8 152.3,132.3 144.3,135.8 139.8,136.7 120.4,146.4 111.9,148.7 100.5,154.4 92,156.7 72.6,166.4 64.1,168.7 44.6,178.4 36.2,180.7 16.7,190.4 8.3,192.7 0.8,195.7 0.8,0.7Z"/>
<path fill="#40ffbf" d="M4.8,0.7 519,0.7 519,136.3 487.1,134.6 375.5,126 359.6,125.3 343.6,125.2 315.7,127.5 283.8,132.4 267.9,132.9 255.9,132.2 212.1,126.9 208.1,127.3 205.8,128.7 206.7,132.7 213.8,144.7 214.9,148.7 214.7,152.7 212.1,154.8 208.1,154.4 200.1,152.2 188.1,146.5 164.7,132.7 156.3,129.3 134.8,136.7 116.4,145.6 108.4,148.1 96.5,153.6 87,156.7 72.6,163.9 59.1,168.7 40.7,177.6 31.2,180.7 12.8,189.6 0.8,193.6 0.8,0.7Z"/>
<path fill="#59ffa6" d="M4.8,0.7 519,0.7 519,133.6 483.1,131.5 399.4,125.2 375.5,122.9 355.6,121.8 343.6,121.7 311.7,123.2 283.8,127.6 263.9,128.3 244,126.6 208.1,121.9 200.1,121.4 196.2,124.7 204.6,140.7 205.2,144.7 204.1,146.7 200.1,147.7 190.9,144.7 176.2,137.4 168.6,132.7 160.2,128.5 156.3,127.6 152.3,128.4 144.3,132 136.3,134.6 120.4,142.4 88.5,154.6 72.6,162.4 56.6,168.3 44.6,174.4 28.7,180.3 16.7,186.4 0.8,192 0.8,0.7Z"/>
<path fill="#73ff8c" d="M4.8,0.7 519,0.7 519,130.9 427.3,124.7 375.5,119.8 355.6,118.5 311.7,118.6 283.8,122.8 263.9,123.8 232,121.2 200.1,116.4 192.1,116.1 189.2,116.7 188.1,118 187.5,120.7 193.9,132.7 195.2,136.7 192.9,140.7 188.1,140 176.2,135 160.2,126.7 156.3,126 152.3,127.1 144.3,130.7 136.3,133.2 116.4,142.7 109.7,144.7 96.5,150.7 88.5,153.2 68.6,162.7 60.6,165.2 40.7,174.7 32.7,177.2 12.8,186.7 0.8,190.7 0.8,0.7Z"/>
<path fill="#8cff73" d="M4.8,0.7 519,0.7 519,128.3 427.3,122.1 395.4,119.3 375.5,116.8 347.6,114.8 311.7,114 279.8,118.4 263.9,119.2 232,117.3 212.1,114.6 196.1,111.7 184.2,111.1 179.2,112.7 179,116.7 184.9,128.7 184.7,132.7 184.2,133 180.2,133.3 177.6,132.7 160.2,125 156.3,124.5 144.3,129.5 136.3,131.9 116.4,141.5 108.4,143.9 96.5,149.5 88.5,151.9 68.6,161.5 60.6,163.9 40.7,173.5 32.7,175.9 12.8,185.5 0.8,189.5 0.8,0.7Z"/>
<path fill="#a6ff59" d="M4.8,0.7 519,0.7 519,125.7 427.3,119.4 347.6,111.3 311.7,109.5 275.8,114 263.9,114.7 247.9,114.3 228,112.9 208.1,110.1 188.1,106.5 176.2,106.2 172.2,107 169.8,108.7 170.3,112.7 174.2,120.7 175.1,124.7 172.2,126 168.2,125.6 160.2,122.7 156.3,122.7 144.3,128.2 136.3,130.6 116.4,140.2 108.4,142.6 95.2,148.7 88.5,150.6 68.6,160.2 60.6,162.6 40.7,172.2 32.7,174.6 12.8,184.2 0.8,188.2 0.8,0.7Z"/>
<path fill="#bfff40" d="M4.8,0.7 519,0.7 519,123.2 427.3,116.8 399.4,114.2 359.6,108.9 315.7,105 303.7,105.6 267.9,109.9 244,110.1 232,109.4 212.1,106.9 184.2,101.8 168.2,101.2 164.2,101.8 160.6,104.7 161.6,108.7 165,116.7 164.2,118.8 152.3,122.5 148.3,125 132.3,130.9 120.4,137.1 84.5,150.9 72.6,157.1 56.6,162.9 40.7,170.7 28.7,174.9 16.7,181 0.8,186.8 0.8,0.7Z"/>
<path fill="#d9ff26" d="M4.8,0.7 519,0.7 519,120.6 435.3,114.8 407.4,112.3 371.5,107.2 315.7,100.6 303.7,101.1 267.9,105.4 244,106.3 232,105.7 208.1,102.7 180.2,97.2 168.2,96.4 156.3,96.6 152.3,99.1 151.6,100.7 156.4,112.7 156.1,116.7 152.1,120.7 145.6,124.7 136.3,127.7 116.4,137.3 108.4,139.7 96.5,145.3 88.5,147.7 70.1,156.7 60.6,159.7 42.1,168.7 28.7,173.4 14.2,180.7 0.8,185.3 0.8,0.7Z"/>
<path fill="#f2ff0d" d="M4.8,0.7 519,0.7 519,118.1 435.3,112.3 407.4,109.7 317.3,96.7 303.7,96.9 263.9,101.7 244,103 232,102.4 208.1,99.4 176.2,93.2 156.3,91.6 148.3,91.8 144.3,92.7 142.7,96.7 147.3,108.7 149.6,116.7 147.7,120.7 140.7,124.7 132.3,127 112.9,136.7 104.4,139 92.9,144.7 84.5,147 65,156.7 56.6,159 37.1,168.7 28.7,171 9.2,180.7 0.8,182.9 0.8,0.7Z"/>
<path fill="#fff200" d="M4.8,0.7 519,0.7 519,115.7 439.3,110.2 407.4,107.2 315.7,93.5 299.8,94 251.9,100 236,100 204.1,96.1 180.2,91.1 156.3,87.6 144.3,86.7 140.3,87 134.7,88.7 133.9,92.7 136.5,100.7 136.9,104.7 136.3,109.6 132.3,116.7 120.4,118.2 108.4,120.7 104.4,116.7 100.5,116.7 96.5,120.7 88.5,120.7 84.5,124.7 76.5,124.7 72.6,128.7 64.6,128.7 60.6,132.7 52.6,132.7 48.6,136.7 40.7,136.7 36.7,140.7 28.7,140.7 24.7,144.7 0.8,144.7 0.8,0.7Z"/>
<path fill="#ffd900" d="M4.8,0.7 519,0.7 519,113.3 439.3,107.9 411.4,105.2 327.7,92.4 315.7,91.1 295.8,91.7 251.9,97.9 244,98.2 232,97.6 204.1,93.9 180.2,88.7 164.2,86.4 148.3,82.5 136.3,81.9 128.4,82.8 125.1,84.7 125,88.7 125.9,92.7 125.3,96.7 124.4,97.4 112.4,95.6 108.4,96.2 22.7,124.7 12.8,128.2 4.8,131.8 0.8,132.5 0.8,0.7Z"/>
<path fill="#ffbf00" d="M4.8,0.7 519,0.7 519,111 447.2,106.2 411.4,102.9 335.6,91.3 315.7,88.8 299.8,88.9 251.9,96 232,95.8 204.1,92 168.2,85.1 160.2,82.9 152.3,79.9 144.3,78.1 124.4,77.2 120.4,77.7 116.4,79.8 115.7,80.7 115.8,88.7 104.4,94.5 14.6,124.7 4.8,129.7 0.8,131 0.8,0.7Z"/>
<path fill="#ffa600" d="M4.8,0.7 519,0.7 519,108.6 455.2,104.5 413.2,100.7 339.6,89.6 315.7,86.7 303.7,86.4 295.8,87.2 251.9,94.5 232,94.2 204.1,90.3 168.2,83.1 144.3,74.5 132.3,73 116.4,72.3 111.5,72.7 108.4,74 106.6,76.7 108.5,84.7 107.4,88.7 102.1,92.7 24.7,118.6 12.8,123.2 4.8,128 0.8,129.6 0.8,0.7Z"/>
<path fill="#ff8c00" d="M4.8,0.7 519,0.7 519,105.6 435.3,100.1 403.4,96.7 339.6,87.1 307.7,84.1 299.8,84.4 291.8,85.6 251.9,92.9 244,93.2 232,92.6 204.1,88.7 168.2,81.2 160.2,78.4 148.3,72.5 140.3,69.9 120.4,68.1 104.4,67.8 99.9,68.7 97.5,72.7 98.3,76.7 101.9,84.7 101.6,88.7 100.5,89.5 92.5,93.3 24.7,115.8 12.8,121.2 4.8,126.7 0.8,128.3 0.8,0.7Z"/>
<path fill="#ff7300" d="M4.8,0.7 519,0.7 519,101.6 435.8,96.7 401.5,92.7 339.6,84.3 307.7,81.3 299.8,81.8 251.9,91.4 232,91.2 204.1,87.1 168.2,79.2 161.4,76.7 144.3,67.4 136.3,64 132.3,63.5 124.4,63.8 96.5,63 89.6,64.7 87.8,68.7 87.1,76.7 84.5,84.3 76.5,85.1 64.6,84.8 56.6,88.7 52.6,89.7 39.5,100.7 36.7,101.7 23,112.7 12.8,119.2 5.9,124.7 0.8,127.4 0.8,0.7Z"/>
<path fill="#ff5900" d="M4.8,0.7 519,0.7 519,93.1 507,93.8 443.3,91.3 415.4,88.5 387.5,83.8 367.5,83.6 347.6,81.3 307.7,77.8 299.8,78.8 277.5,84.7 251.9,89.9 244,90.2 228,89.3 199.7,84.7 181.4,80.7 164.2,75.7 156.3,71.5 145.6,64.7 137.5,56.7 128.4,50.2 123.7,44.7 120.4,42.6 116.4,43.9 115.7,44.7 117,48.7 119.5,52.7 119.7,56.7 112.4,58.4 92.5,58.2 84.5,58.6 79.3,60.7 76.5,64.2 72.6,64.7 68.6,64.4 64.6,65.6 48.6,74.4 44.6,77.5 40.7,82.4 36.7,87.5 33.7,92.7 24.7,103.5 21.7,108.7 18.2,112.7 4,124.7 0.8,126.4 0.8,0.7Z"/>
<path fill="#ff4000" d="M4.8,0.7 519,0.7 519,81.5 507,83.4 499.1,83.8 475.2,82.7 439.3,82.8 419.3,80.7 383.5,73.7 379.5,73.7 367.5,76.4 359.6,76.8 307.7,73.5 303.7,73.7 284.3,80.7 275.8,83.1 251.9,88.4 242.5,88.7 228,87.7 208.2,84.7 188.8,80.7 173.6,76.7 164.2,73.3 155.9,68.7 150.2,64.7 140.3,54.6 132.3,48.2 124.4,39.8 120.4,37.7 116.4,37.3 106,40.7 103.2,44.7 104.5,48.7 101.7,52.7 96.5,53.3 80.5,53.3 72.6,54.6 68.6,57.3 65.6,60.7 60.1,64.7 46.7,72.7 44.6,74.3 36.7,83.9 31.2,92.7 24.1,100.7 19.2,108.7 7,120.7 0.8,125.5 0.8,0.7Z"/>
<path fill="#ff2600" d="M4.8,0.7 519,0.7 519,69.8 495.1,73.5 439.3,73.4 431.2,72.7 383.5,63.1 375.5,62.7 355.6,68.2 347.6,69.3 331.7,69.8 303.7,68.8 299.8,70.1 287.6,76.7 277.1,80.7 261.4,84.7 247.9,86.7 232,86.2 219.3,84.7 197.5,80.7 180.9,76.7 168.2,72.4 160.6,68.7 154.5,64.7 142.4,52.7 132.9,44.7 124.8,36.7 120.4,34.7 116.4,34.3 100.5,36.7 92.5,38.9 89.7,40.7 89.4,44.7 84.5,47.5 68.6,48.6 64.6,49.5 62.2,52.7 62.3,56.7 60.5,60.7 56,64.7 44.6,71.8 34.4,84.7 29.2,92.7 22.4,100.7 17.2,108.7 5.5,120.7 0.8,124.5 0.8,0.7Z"/>
<path fill="#ff0d00" d="M4.8,0.7 321,0.7 331.1,36.7 333.9,40.7 341.2,48.7 343.4,52.7 341.6,56.7 333.4,60.7 323.7,62.4 303.7,63.2 299.8,64.4 288.1,72.7 279.8,76.7 267.8,80.7 251.9,84.2 244,84.7 236,84.3 208.1,80.7 189.9,76.7 176.9,72.7 166.8,68.7 159.5,64.7 154.4,60.7 146.7,52.7 137.3,44.7 128.4,35.8 124.4,33.4 120.4,32 116.4,31.5 84.5,34.5 77.1,36.7 74,40.7 72.6,41.4 56.1,44.7 55.1,48.7 57.7,56.7 56.6,60.7 44.6,69.6 41.9,72.7 32.7,84.7 28.7,91.2 20.7,100.7 15.5,108.7 0.8,123.3 0.8,0.7ZM351.6,4.1 359.6,2.4 363.5,2.4 368,4.7 367.5,5.7 363.5,8.2 359.6,7.8 349.6,4.7ZM431.3,3.3 433.3,0.7 519,0.7 519,58.1 499.1,61.4 487.1,61.7 478.1,60.7 458.8,56.7 447.2,53.7 443.3,51.6 439.3,48 427.4,32.7 419.3,20.4 414.9,16.7 404.6,12.7 402.6,8.7 411.4,6.8 427.6,4.7Z"/>
<path fill="#f20000" d="M4.8,0.7 300,0.7 299,4.7 299.1,8.7 301.7,20.7 302.9,32.7 301.5,48.7 299.9,52.7 287.8,65.1 283.1,68.7 275.9,72.7 265,76.7 251.9,79.4 244,80 216.1,78.2 204.8,76.7 188.2,72.7 177.2,68.7 168,64.7 161.5,60.7 143.9,44.7 132.3,33.2 128.4,30.9 124.4,29.7 116.4,28.7 112.4,28.9 104.4,29.8 76.5,30.8 65,32.7 58,36.7 48.6,39.5 47.4,40.7 48.5,44.7 52.9,52.7 54.1,56.7 52.7,60.7 44.6,67.4 40.7,71.7 31.2,84.7 28.7,89.1 20.7,98.6 13.9,108.7 0.8,122.1 0.8,0.7ZM443.3,0.7 519,0.7 519,44.9 515,45 509.8,44.7 503.1,42.9 461.8,28.7 458.9,24.7 462.1,20.7 466.7,16.7 466,12.7 459.2,10.5 447.1,8.7 443.3,6.9 442.3,4.7 442.4,0.7Z"/>
<path fill="#d90000" d="M4.8,0.7 226.7,0.7 225.6,4.7 228.1,8.7 246,20.7 266,32.7 269.8,36.7 271,40.7 270.6,44.7 268.7,48.7 263.9,52.9 259.9,54.5 247.9,57.1 240,59.9 220,69.1 216.1,70.2 212.1,70.4 202.4,68.7 188.7,64.7 179.6,60.7 173,56.7 155.3,40.7 152.1,36.7 146.6,24.7 144.3,22.7 140.3,21.6 123,24.7 100.5,26.5 68.6,27.3 52.6,29.2 40.7,33.5 38.5,36.7 40.2,40.7 47.9,48.7 50.4,52.7 51.1,56.7 49.3,60.7 40.7,69.2 27.3,88.7 20.6,96.7 12.8,108.1 0.8,120.8 0.8,0.7Z"/>
<path fill="#bf0000" d="M4.8,0.7 155.4,0.7 152.6,4.7 147.1,8.7 124.3,16.7 110.7,20.7 96.5,22.5 48.6,24.6 36.7,26.4 29.9,28.7 28.9,32.7 35.7,40.7 44.9,48.7 47.8,52.7 48.3,56.7 46.2,60.7 38.9,68.7 25.6,88.7 18.6,96.7 13.7,104.7 0.8,118.7 0.8,0.7ZM184.2,24.6 192.1,21.3 196.1,20.9 212.1,23.5 220,25.9 224,28.1 234.6,36.7 237.8,40.7 237.6,44.7 233.2,48.7 220,55.9 212.1,58.8 204.1,58.1 192.1,53.8 184.4,48.7 175.8,40.7 173,36.7 172.5,32.7 176.5,28.7 184,24.7Z"/>
<path fill="#a60000" d="M4.8,0.7 87.4,0.7 93.5,4.7 101.6,8.7 102.9,12.7 96.5,16.3 92.5,17.1 32.7,21.2 24.7,22.6 19.7,24.7 19.6,28.7 22.5,32.7 26,36.7 44.6,52.4 45.2,56.7 38.9,64.7 24.7,86.7 16.5,96.7 12.8,102.7 0.8,116.1 0.8,0.7ZM204.1,40.1 208.1,40 209.6,40.7 209.2,44.7 205.7,44.7 204.1,43.1 203.1,40.7Z"/>
<path fill="#8c0000" d="M4.8,0.7 21,0.7 32.7,5.1 44.7,8.7 43.3,12.7 16.7,14.7 12.8,15.6 10.8,16.7 7,20.7 6.9,24.7 9,28.7 12.4,32.7 24.7,43.3 32.7,48.6 37.5,52.7 38.7,56.7 33.3,64.7 28.7,73.6 26,76.7 20.7,85.5 14.1,92.7 8.8,101.5 0.8,109.9 0.8,0.7Z"/>
<use href="#sb"/>
<g stroke="#e2e2e2" stroke-width="1.5"><circle cx="247.7" cy="7.5" r="4.5" fill="#c70000"/><circle cx="247.7" cy="16.9" r="4.5" fill="#d10000"/><circle cx="247.7" cy="32.6" r="4.5" fill="#f00000"/><circle cx="247.7" cy="48.4" r="4.5" fill="#ff3800"/><circle cx="247.7" cy="64.1" r="4.5" fill="#ff9e00"/><circle cx="247.7" cy="79.8" r="4.5" fill="#80ff80"/><circle cx="247.7" cy="95.5" r="4.5" fill="#00f0ff"/><circle cx="247.7" cy="111.3" r="4.5" fill="#009eff"/><circle cx="247.7" cy="127" r="4.5" fill="#008aff"/><circle cx="247.7" cy="142.7" r="4.5" fill="#0080ff"/><circle cx="333.3" cy="7.5" r="4.5" fill="#9e0000"/><circle cx="333.3" cy="16.9" r="4.5" fill="#9e0000"/><circle cx="333.3" cy="32.6" r="4.5" fill="#9e0000"/><circle cx="333.3" cy="48.4" r="4.5" fill="#bd0000"/><circle cx="333.3" cy="64.1" r="4.5" fill="#faff05"/><circle cx="333.3" cy="79.8" r="4.5" fill="#38ffc7"/><circle cx="333.3" cy="95.5" r="4.5" fill="#00d1ff"/><circle cx="333.3" cy="111.3" r="4.5" fill="#0094ff"/><circle cx="333.3" cy="127" r="4.5" fill="#0038ff"/><circle cx="333.3" cy="142.7" r="4.5" fill="#000fff"/><circle cx="333.3" cy="158.4" r="4.5" fill="#0005ff"/><circle cx="333.3" cy="174.2" r="4.5" fill="#001aff"/><circle cx="333.3" cy="189.9" r="4.5" fill="#001aff"/><circle cx="333.3" cy="205.6" r="4.5" fill="#0000e6"/><circle cx="333.3" cy="221.3" r="4.5" fill="#0000e6"/><circle cx="406.2" cy="7.5" r="4.5" fill="#b30000"/><circle cx="406.2" cy="16.9" r="4.5" fill="#b30000"/><circle cx="406.2" cy="32.6" r="4.5" fill="#b30000"/><circle cx="406.2" cy="48.4" r="4.5" fill="#c70000"/><circle cx="406.2" cy="64.1" r="4.5" fill="#f00000"/><circle cx="406.2" cy="79.8" r="4.5" fill="#ff1a00"/><circle cx="406.2" cy="95.5" r="4.5" fill="#ffdb00"/><circle cx="406.2" cy="111.3" r="4.5" fill="#38ffc7"/><circle cx="406.2" cy="127" r="4.5" fill="#0ffff0"/><circle cx="406.2" cy="142.7" r="4.5" fill="#00c7ff"/><circle cx="406.2" cy="158.4" r="4.5" fill="#0080ff"/><circle cx="406.2" cy="174.2" r="4.5" fill="#0038ff"/><circle cx="406.2" cy="189.9" r="4.5" fill="#0005ff"/><circle cx="406.2" cy="205.6" r="4.5" fill="#0000e6"/><circle cx="406.2" cy="221.3" r="4.5" fill="#0000b2"/><circle cx="406.2" cy="237.1" r="4.5" fill="#000094"/></g>
</g>
<path d="M0,0.8H518.7" stroke="#1a1a1a" stroke-width="1.6"/>
<path d="M1,0V253.4" stroke="#222" stroke-width="2"/>
<path d="M518.1,0V253.4" stroke="#222" stroke-width="1.2"/>
<path d="M0,251.95H518.7" stroke="#000" stroke-width="2.9"/>
</g>
<text transform="translate(605.9,241.6) scale(1,1.06)" font-size="36.6" fill="#fff">Sept 11-16, 2015</text>
<!-- panel C -->
<g transform="translate(42.1,300.0) scale(1.00000,1.00000)">
<g clip-path="url(#cp)">
<rect width="518.7" height="253.4" fill="#0000f2"/>
<path fill="#000dff" d="M4.9,1 518.9,1 518.9,234.1 491,236.7 463.1,240.6 435.2,243 423.3,242.7 399.4,240 383.4,235.9 371.5,232 359.5,226.5 327.1,209 296.5,197 283.8,193.3 279.8,194 275.8,199.3 271.9,201.5 244,197 232,196.3 220.1,197 216.1,200.8 212.1,201 208.1,204.8 204.1,205 200.1,208.8 196.1,209 192.2,212.8 188.2,213 184.2,216.8 180.2,217 176.2,220.8 172.2,221 168.3,224.8 164.3,225 160.3,228.8 156.3,229 152.3,232.8 148.3,233 144.3,236.8 140.4,237 136.4,241 132.4,241 128.4,245 124.4,245 120.4,249 116.5,249 112.5,253 0.9,253 0.9,1Z"/>
<path fill="#0026ff" d="M4.9,1 518.9,1 518.9,220.6 447.2,231.9 427.3,233.4 407.3,232.2 395.4,229.6 375.5,223.7 367.5,220.7 347.6,211.6 319.4,197 299.3,189 287.8,185.3 267.9,182.5 263.9,182.5 255.9,183.8 251.9,183.6 247.9,183.1 240,179.1 228,179 224,179.3 216.1,181.9 202.6,185 67.4,253 0.9,253 0.9,1Z"/>
<path fill="#0040ff" d="M4.9,1 518.9,1 518.9,210.2 447.2,223.1 427.3,225 407.3,224.6 399.4,223.2 367.5,214.3 339.6,202.2 319.7,192.4 291.8,182.2 255.9,175 244,174.1 240,174.5 224,176.4 216.1,179 204.1,181.5 69.1,249 62.8,253 0.9,253 0.9,1Z"/>
<path fill="#0059ff" d="M4.9,1 518.9,1 518.9,199.9 499,203.4 467.1,210.6 443.2,214.8 423.3,216.8 403.3,216.5 367.5,208.2 343.6,199 319.7,188.2 295.8,179.7 263.9,172.2 244,165.9 240,166 238.1,169 233.3,173 224,174.2 212.1,177.6 204.1,178.9 196.1,182.6 68.6,246.6 64.4,249 59.4,253 0.9,253 0.9,1Z"/>
<path fill="#0073ff" d="M4.9,1 518.9,1 518.9,189.6 495,193.9 463.1,202 439.2,206.6 423.3,208.4 403.3,209 371.5,203.7 343.6,194.2 319.7,184 307.7,179.8 291.8,174.7 263.9,167.6 240,159 232,157.2 228.9,161 230.4,165 230.9,169 228,170.4 216.1,173.7 204.1,176.1 196.1,179.5 68.6,243.5 60.7,247.9 56.2,253 0.9,253 0.9,1Z"/>
<path fill="#008cff" d="M4.9,1 518.9,1 518.9,180.1 492.5,185 459.1,194.2 431.2,199.7 407.3,201.9 387.4,200.5 375.5,199 359.5,194.6 343.6,189.3 315.7,178.3 263.9,162.6 236,152.4 224,149.5 220.1,149.5 218,153 218.9,157 222.7,165 220.1,166.9 212.1,167.8 208.1,167.6 200.1,165.8 180.2,165 176.2,161 172.2,161 168.3,165 156.3,165 152.3,169 140.4,169 136.4,173 128.4,173 124.4,177 112.5,177 108.5,181 96.5,181 92.5,185 84.6,185 80.6,189 68.6,189 64.7,193 56.7,193 52.7,197 40.7,197 36.8,201 24.8,201 20.8,205 0.9,205 0.9,1Z"/>
<path fill="#00a6ff" d="M4.9,1 518.9,1 518.9,172.5 487,179.2 459.1,187.2 447.2,189.9 427.3,193.7 403.3,195.7 379.4,194 371.5,192.5 355.5,188.2 319.7,175 263.9,157.3 236,147.4 220.1,143.3 212.1,142.3 208.1,144 207.6,145 207.8,149 204.1,152.4 200.1,151.9 192.2,147.5 184.2,144.4 180.2,143.4 172.2,143.4 152.3,149.9 144.3,151.3 136.4,153.9 124.4,156.3 108.5,161.9 100.5,163.3 92.5,165.9 80.6,168.3 64.7,173.9 52.7,176.3 36.8,181.9 28.8,183.3 20.8,185.9 12.9,187.3 0.9,190.7 0.9,1Z"/>
<path fill="#00bfff" d="M4.9,1 518.9,1 518.9,165.6 483,173.9 447.2,183.8 423.3,188.2 403.3,189.8 379.4,188.5 355.5,183.1 303.7,164.6 240,143.7 216.1,137.6 208.1,136.3 204.1,136.3 201.5,137 199,141 196.1,143.8 180.2,140.5 170.1,141 152.3,147 144.3,148.4 136.4,151 126,153 108.5,159 100.5,160.4 92.5,163 82.1,165 64.7,171 54.2,173 36.8,179 28.8,180.4 20.8,183 12.9,184.4 0.9,187.8 0.9,1Z"/>
<path fill="#00d9ff" d="M4.9,1 518.9,1 518.9,158.7 479.1,168.7 451.2,176.8 427.3,181.7 407.3,183.8 383.4,183.5 375.5,182.3 355.5,177.8 295.8,156.4 263.9,145.8 240,138.7 216.1,133.2 200.1,131 196.1,131.3 192.9,133 191,137 188.2,138.3 172.2,138.4 168.3,139.1 150.8,145 140.4,146.9 132.4,149.6 124.4,150.9 107,157 96.5,158.9 88.6,161.6 80.6,162.9 63.1,169 52.7,170.9 35.2,177 24.8,178.9 19.3,181 8.9,182.9 0.9,185.6 0.9,1Z"/>
<path fill="#00f2ff" d="M4.9,1 518.9,1 518.9,151.9 487,160.2 451.2,170.6 435.2,174.1 415.3,177.5 387.4,178.2 375.5,176.7 355.5,172.6 290.3,149 267.9,141.5 251.6,137 216.1,128.9 200.1,126.3 192.2,126 188.2,126.9 185.6,129 184.3,133 180.2,135.2 168.3,136.5 152.3,141.6 140.4,144.1 132.4,146.6 124.4,148.1 108.5,153.6 96.5,156.1 88.6,158.6 80.6,160.1 64.7,165.6 52.7,168.1 36.8,173.6 24.8,176.1 20.8,177.6 8.9,180.1 0.9,182.6 0.9,1Z"/>
<path fill="#0dfff2" d="M4.9,1 518.9,1 518.9,145.3 503.8,149 451.2,164.4 439.2,167.3 415.3,171.7 403.3,172.4 387.4,172.3 371.5,170.5 359.5,168.4 331.6,159 282.5,141 254.5,133 217.5,125 196.1,121.4 188.2,120.9 184.2,121.4 180.2,123 178.3,125 178.1,129 176.2,132.7 175.4,133 160.3,133.2 152.3,132.4 140.4,133.4 132.4,136.5 124.4,137.4 104.5,144.5 96.5,145.4 88.6,148.5 80.6,149.5 60.7,156.7 44.7,161.1 12.9,171.9 0.9,174.8 0.9,1Z"/>
<path fill="#26ffd9" d="M4.9,1 518.9,1 518.9,139.4 499,144.3 443.2,160.4 423.3,164.5 415.3,165.8 403.3,166.6 379.4,165.7 367.5,164.5 359.5,162.8 331.6,153.8 307.7,144.9 271.9,133 237.9,125 196.1,117.3 184.2,115.9 176.2,117 172.2,119.1 170.6,121 168.3,125.5 164.3,126.4 156.3,123 152.3,122.6 140.4,123.3 132.4,125.9 120.4,128.3 104.5,133.9 96.5,135.4 88.6,138 76.6,140.6 48.7,151.3 30.2,157 16.8,163.3 10.1,165 4.9,167.3 0.9,167.9 0.9,1Z"/>
<path fill="#40ffbf" d="M4.9,1 518.9,1 518.9,133.7 503,137.4 439.2,155.3 419.3,159.2 411.3,160.3 399.4,160.8 375.5,159.8 367.5,158.9 359.5,157.1 331.6,148.7 283.8,132.2 267.9,127.8 244,122.3 188.2,111.7 180.2,110.7 176.2,110.9 167.9,113 160.3,117.7 148.3,119.8 140.4,120.4 132.4,123 122,125 104.5,131.1 96.5,132.5 88.6,135.3 80,137 52.7,147.3 28.8,155.4 16.8,160.7 0.9,165.5 0.9,1Z"/>
<path fill="#59ffa6" d="M4.9,1 518.9,1 518.9,128.1 506.9,130.6 455.1,145.1 427.3,151.8 415.3,153.9 403.3,155 375.5,154.2 363.5,152.5 335.6,144.9 287.1,129 271.9,124.7 247.9,119.2 200.1,110.3 180.2,105.9 172.2,105.4 159.8,109 152.3,115.5 149.5,117 140.4,118.1 128.4,121.6 120.4,122.9 103.3,129 92.5,131.4 84.6,134.2 76.6,136.2 48.7,147 29.9,153 16.8,159 0.9,163.8 0.9,1Z"/>
<path fill="#73ff8c" d="M4.9,1 518.9,1 518.9,122.5 503,126 451.2,140.2 427.3,145.8 411.3,148.5 403.3,149.2 375.5,148.7 367.5,147.8 335.6,139.9 283.8,123.7 271.9,120.6 247.9,115.3 204.1,107.2 176.2,100.6 168.3,99.8 164.3,100.5 152.2,105 149.4,109 148.2,113 144.3,114.6 120.4,120.2 100.5,127.2 76.6,134.4 48.7,145.3 28.8,151.7 16.8,157.3 0.9,162.3 0.9,1Z"/>
<path fill="#8cff73" d="M4.9,1 518.9,1 518.9,116.9 499,121.3 447.2,135.3 423.3,140.6 403.3,143.4 375.5,143.1 367.5,142.1 339.6,136 275.8,117.5 251.9,112.2 204.1,103.3 172.2,95.3 164.3,94.1 160.3,94.5 144.5,101 142.1,105 141.5,109 140.4,110.2 136.4,112 124.4,114.2 120.4,115.5 99,125 76.6,132.5 44.7,144.9 28.8,150 12.9,156.9 0.9,160.6 0.9,1Z"/>
<path fill="#a6ff59" d="M4.9,1 518.9,1 518.9,111.3 495,116.7 447.2,129.4 423.3,134.7 403.3,137.5 375.5,137.6 339.6,131.1 275.8,113.5 251.9,108.3 208.1,100.3 164.3,88.8 156.3,88.5 152.3,89.8 137,97 132.4,105.3 120.4,109.1 104.5,117.1 98.9,121 90.4,125 50.1,141 28.8,147.8 16.8,153.4 0.9,158.4 0.9,1Z"/>
<path fill="#bfff40" d="M4.9,1 518.9,1 518.9,105.7 495,111.1 443.2,124.6 419.3,129.5 399.4,131.9 375.5,132 339.6,126.3 279.8,110.4 255.9,105.3 220.1,99 192.2,92.4 164.3,84.1 156.3,82.5 152.3,82.4 148.3,83.3 132.4,91.2 129.6,93 125.9,101 104.5,110.9 96,117 88.8,121 51.4,137 24.8,145.8 18.8,149 8.2,153 0.9,154.9 0.9,1Z"/>
<path fill="#d9ff26" d="M4.9,1 518.9,1 518.9,100.1 495,105.4 439.2,119.7 419.3,123.6 399.4,126.1 375.5,126.5 343.6,122.4 315.7,116 279.8,106.4 255.9,101.4 220.1,95.2 192.2,88.2 148.3,74.6 144.3,74.9 136.6,81 124.4,87.2 121.8,89 119,93 116.5,94.7 108.5,93.3 98.9,89 88.6,88.6 76.6,93.8 68.6,96.2 56.7,101.8 36.8,108.2 20.8,115.3 16.8,117.5 8.9,123.7 0.9,127.4 0.9,1Z"/>
<path fill="#f2ff0d" d="M4.9,1 518.9,1 518.9,94.6 490.7,101 431.2,115.8 403.3,120.2 379.4,121.2 371.5,120.9 343.6,117.8 315.7,111.8 279.8,102.4 255.9,97.6 228,93 208.1,88.3 188.2,82.6 160.3,73.1 136.4,59.7 132.4,60.3 132.3,65 133,69 132.2,73 128.4,76.9 112.5,85.7 108.5,86.9 92.5,83.5 80.6,78.8 72.1,73 68.6,71.7 64.7,68.7 60.7,67.5 53.7,69 36.8,87.8 31,97 20.8,107.3 16.4,113 8.9,120.3 4.9,123.3 0.9,124.5 0.9,1Z"/>
<path fill="#fff200" d="M4.9,1 518.9,1 518.9,89.7 486.8,97 435.2,110 407.3,114.8 395.4,115.9 375.5,116.6 347.6,114.4 315.7,108 287.8,100.4 271.9,97 227.1,89 208.1,84.3 192.2,79.5 163.7,69 157.4,65 146.8,57 132.4,44.9 128.4,43.5 122.4,57 123.5,65 123.3,69 119.9,73 116.5,75.1 108.5,78.8 104.5,80.1 96.5,80.7 92.5,79.3 80.6,74 64.7,64.6 60.7,63.9 56.7,64.5 52.7,66.6 48.7,69.5 43.3,77 35.6,85 32.8,88.5 30.5,93 19.6,105 14.1,113 10.4,117 4.9,121.3 0.9,123.3 0.9,1Z"/>
<path fill="#ffd900" d="M4.9,1 518.9,1 518.9,85.4 502.1,89 431.2,106.8 407.3,110.8 375.5,112.7 347.6,110.8 319.7,105.3 287.8,96.8 271.9,93.3 228,85.3 211.3,81 192.2,75.1 167,65 156.3,57.6 132.4,38.5 128.4,36.4 124.4,35.9 122.9,37 120.4,48.4 116.3,53 114.3,57 114.6,65 111.6,69 104.4,73 96.5,75.7 84.6,73 64.7,62.6 60.7,62 52.7,64.5 48.7,67.6 33.6,85 28.5,93 16.8,106 12.3,113 4.9,120.1 0.9,122.1 0.9,1Z"/>
<path fill="#ffbf00" d="M4.9,1 518.9,1 518.9,81.5 491,87.8 435.2,102.2 407.3,107.3 375.5,109.3 347.6,107.6 319.7,102 287.8,93.3 271.9,89.7 228,81.3 196.1,72.1 178.2,65 169.9,61 160.3,54.6 136.9,37 128.8,33 124.4,32.1 120.2,33 118.6,37 117.4,45 116.5,46.4 108.5,51.1 106.3,53 105.8,61 104.5,63.3 103.1,65 96.5,68.7 92.5,69.9 88.6,70.3 84.6,69.7 72.6,64.8 64.7,60.6 60.7,60.4 56.7,61.4 50,65 32.8,84.2 27.3,93 16.8,104.2 11.2,113 4.9,119 0.9,120.9 0.9,1Z"/>
<path fill="#ffa600" d="M4.9,1 518.9,1 518.9,77.6 491,83.9 435.2,98.6 407.3,104 398,105 375.5,106 347.6,104.4 319.7,98.6 275.8,86.9 228,77.2 200.1,69.1 189.6,65 172.2,56.8 143.1,37 136.4,33.3 128.4,30.4 124.4,29.6 120.4,30 116.5,33 114.9,41 112.5,44.1 98.9,49 97.4,53 97.2,57 96.5,58.3 94.7,61 88.6,64.5 84.6,65.2 80.6,64.7 72.6,62.4 64.7,58.9 60.7,59 56.7,60.1 48.7,64.6 44.7,69 42.1,73 32.8,82.9 26.1,93 16.8,102.9 10,113 4.9,117.9 0.9,120.1 0.9,1Z"/>
<path fill="#ff8c00" d="M4.9,1 518.9,1 518.9,73.5 491,79.8 442.9,93 425.8,97 407.3,100.4 399.4,101.4 375.5,102.5 347.6,101 328,97 275.8,82.9 228.3,73 204.1,65.9 192.2,61.2 176.2,53.5 142.6,33 128.4,28 120.4,27.7 116.5,29 113.7,33 112.5,37.8 109.4,41 92.5,45.2 89.1,49 88.5,53 86.2,57 84.6,58.1 80.6,59.8 76.6,60.3 64.7,57.2 60.7,57.6 56.7,59 48.7,63.7 32.8,81.6 25,93 16.8,101.6 8.9,113 4.9,116.9 0.9,119.3 0.9,1Z"/>
<path fill="#ff7300" d="M4.9,1 518.9,1 518.9,67.9 491,74.5 440.2,89 407.3,96 399.4,97.1 375.5,98.2 347.6,96.8 329.9,93 291.8,82.1 263.9,75.1 232,68.7 205.1,61 195.3,57 176.2,47.8 150,33 132.4,26.7 124.4,25.6 120.4,25.7 116.5,26.7 113,29 108.5,37 104.5,38.6 88.9,41 84.6,42.7 81.3,45 79.9,49 77.7,53 76.6,53.7 72.6,55.1 64.7,54.8 60.7,55.8 52.7,59.9 48.7,62.7 44.7,66.4 39.9,73 32.3,81 24.8,91.9 16.3,101 7.9,113 4.9,116 0.9,118.5 0.9,1Z"/>
<path fill="#ff5900" d="M4.9,1 518.9,1 518.9,57.5 491,65.4 443.4,81 429.2,85 407.3,89.9 399.4,91.1 375.5,92.5 351.5,91 339.5,89 303.7,78.2 271.9,69.8 232,61.5 212.1,56.3 202.2,53 176.2,41.8 158.7,33 148.3,29 132.4,24.4 120.4,23.7 116.5,24.4 112.5,26.5 109.8,29 108.5,31.3 104.5,34.7 84.6,37.7 74.2,41 69.1,49 60.7,53.6 44.8,65 39,73 28.8,84.2 23,93 15.4,101 7,113 0.9,117.8 0.9,1Z"/>
<path fill="#ff4000" d="M4.9,1 518.9,1 518.9,45.4 494.7,53 447.2,71.2 423.3,78.8 407.3,82.7 399.4,84 371.5,85.4 351.5,83.5 343.6,82 311.7,71.6 275.8,62 236,54 212.1,48.6 180.2,37.4 159.1,29 140.4,24 128.4,21.7 116.5,22.3 112.5,23.7 104.5,30.5 100.5,32 72.6,35.9 68.5,37 64.7,39.7 63.3,41 60.7,46 58.3,53 54.2,57 44.7,64 38,73 28.8,83 22.1,93 14.4,101 6,113 0.9,117 0.9,1Z"/>
<path fill="#ff2600" d="M4.9,1 518.9,1 518.9,36.1 495,44.1 443.2,65.4 423.3,71.8 407.3,75.9 399.4,77.2 371.5,78.6 347.6,74.8 311.7,62.8 275.8,53.2 212.1,41 157.9,25 132.4,19.7 124.4,19.3 116.5,19.9 112.5,21.2 100.5,28.4 65.3,33 60.7,34.4 55.8,37 53.4,41 53.6,45 55.4,49 55.6,53 52.3,57 42.9,65 37.1,73 28.8,81.8 21.1,93 13.5,101 5.1,113 0.9,116.1 0.9,1Z"/>
<path fill="#ff0d00" d="M4.9,1 518.9,1 518.9,27.4 495,35.7 456,53 435.2,61.5 403.3,70 375.5,71.8 367.5,71 347.6,66.7 311.7,54.1 275.8,44.5 255.9,40.6 216.1,34.4 164.3,22.3 148.3,19.3 128.4,16.7 116.5,17.3 112.5,18.3 98.8,25 60.7,29.8 52.7,31.7 48.7,33.2 45.9,37 46.8,41 52.1,49 53.4,53 50.7,57 44.7,61.9 41.9,65 36.8,72.1 28.4,81 20.8,92.1 12.5,101 4.9,112 0.9,115.1 0.9,1Z"/>
<path fill="#f20000" d="M4.9,1 518.9,1 518.9,16.6 510.9,18.7 491,26.1 459.1,41 430.2,53 416.2,57 399.4,60.6 379.4,61.8 369,61 352.4,57 311.7,42.3 287.8,35.2 267.9,31 221.4,25 160.3,14.1 132.4,12.6 116.5,13.7 108.5,16.1 96.5,21.3 52.7,27.2 44,29 40.7,30.7 38.5,33 39.3,37 49.4,49 51.3,53 49.1,57 44.4,61 36.8,70.8 27.2,81 20.8,90.8 11.3,101 4.9,110.7 0.9,114.2 0.9,1Z"/>
<path fill="#d90000" d="M4.9,1 140.1,1 131.6,5 104.5,11.8 88.6,18.1 76.6,20.4 41.7,25 36.8,26.2 31.6,29 32.1,33 34.8,37 44.7,46.6 49.2,53 47.3,57 42.9,61 36.8,69.5 26.1,81 20.8,89.5 10.1,101 5.3,109 0.9,113.2 0.9,1ZM339.6,1 423.4,1 421.9,5 411.9,9 389.4,13 375.5,14.6 367.5,13.1 355,9 344,5 335.8,1Z"/>
<path fill="#bf0000" d="M4.9,1 103.6,1 100.2,5 96.5,6.3 85.2,13 80.6,14.8 72.6,17 32.8,22.5 25.2,25 24.2,29 26.9,33 34.9,41 44.3,49 46.9,53 45.4,57 41.3,61 35.5,69 28.1,77 20.8,87.4 12.2,97 4.9,107.4 0.9,111.6 0.9,1Z"/>
<path fill="#a60000" d="M4.9,1 62.4,1 69.5,5 71.3,9 64.4,13 28.8,18.6 19.5,21 16.8,25 18.6,29 21.8,33 32.8,42.7 40.7,48.6 44.1,53 42.7,57 38.9,61 36.8,65 22.6,81 20.7,85 6.6,101 4.9,104.9 0.9,109.6 0.9,1Z"/>
<path fill="#8c0000" d="M4.9,1 14.1,1 24.2,5 31.7,9 20.1,13 12.9,14.2 8.9,16.2 5.7,21 6.1,25 9.1,29 20.8,39.8 33.5,49 38,53 37.4,57 34.2,61 32.8,64.5 21.2,77 18.2,81 16.8,84.4 2.2,101 0.9,104.4 0.9,1Z"/>
<use href="#sb"/>
<g stroke="#e2e2e2" stroke-width="1.5"><circle cx="6.1" cy="7.5" r="4.5" fill="#e50000"/><circle cx="6.1" cy="16.9" r="4.5" fill="#e50000"/><circle cx="28.7" cy="7.5" r="4.5" fill="#fa0000"/><circle cx="55.4" cy="7.5" r="4.5" fill="#f00000"/><circle cx="55.4" cy="16.9" r="4.5" fill="#fa0000"/><circle cx="86.4" cy="7.5" r="4.5" fill="#f00000"/><circle cx="86.4" cy="16.9" r="4.5" fill="#ff8000"/><circle cx="118.6" cy="7.5" r="4.5" fill="#b30000"/><circle cx="118.6" cy="16.9" r="4.5" fill="#ff8a00"/><circle cx="141.5" cy="7.5" r="4.5" fill="#940000"/><circle cx="141.5" cy="16.9" r="4.5" fill="#940000"/><circle cx="141.5" cy="32.6" r="4.5" fill="#ff7500"/><circle cx="141.5" cy="48.4" r="4.5" fill="#ffdb00"/><circle cx="159.6" cy="7.5" r="4.5" fill="#940000"/><circle cx="159.6" cy="16.9" r="4.5" fill="#e50000"/><circle cx="159.6" cy="32.6" r="4.5" fill="#ffdb00"/><circle cx="159.6" cy="48.4" r="4.5" fill="#ffe500"/><circle cx="159.6" cy="64.1" r="4.5" fill="#fff000"/><circle cx="184.9" cy="7.5" r="4.5" fill="#bd0000"/><circle cx="184.9" cy="16.9" r="4.5" fill="#ffc700"/><circle cx="184.9" cy="32.6" r="4.5" fill="#ffd100"/><circle cx="184.9" cy="48.4" r="4.5" fill="#ffe500"/><circle cx="184.9" cy="64.1" r="4.5" fill="#fff000"/><circle cx="184.9" cy="79.8" r="4.5" fill="#faff05"/><circle cx="184.9" cy="95.5" r="4.5" fill="#80ff80"/><circle cx="207" cy="7.5" r="4.5" fill="#b30000"/><circle cx="207" cy="16.9" r="4.5" fill="#fa0000"/><circle cx="207" cy="32.6" r="4.5" fill="#ffd100"/><circle cx="207" cy="48.4" r="4.5" fill="#ffd100"/><circle cx="207" cy="64.1" r="4.5" fill="#ffdb00"/><circle cx="207" cy="79.8" r="4.5" fill="#d1ff2e"/><circle cx="207" cy="95.5" r="4.5" fill="#80ff80"/><circle cx="207" cy="111.3" r="4.5" fill="#6bff94"/><circle cx="237.4" cy="7.5" r="4.5" fill="#a80000"/><circle cx="237.4" cy="16.9" r="4.5" fill="#fa0000"/><circle cx="237.4" cy="32.6" r="4.5" fill="#ffbd00"/><circle cx="237.4" cy="48.4" r="4.5" fill="#ffbd00"/><circle cx="237.4" cy="64.1" r="4.5" fill="#ffc700"/><circle cx="237.4" cy="79.8" r="4.5" fill="#ffbd00"/><circle cx="237.4" cy="95.5" r="4.5" fill="#ffe500"/><circle cx="237.4" cy="111.3" r="4.5" fill="#42ffbd"/><circle cx="237.4" cy="127" r="4.5" fill="#1affe5"/><circle cx="266.4" cy="7.5" r="4.5" fill="#9e0000"/><circle cx="266.4" cy="16.9" r="4.5" fill="#9e0000"/><circle cx="266.4" cy="32.6" r="4.5" fill="#ff0500"/><circle cx="266.4" cy="48.4" r="4.5" fill="#ff6b00"/><circle cx="266.4" cy="64.1" r="4.5" fill="#ff8000"/><circle cx="266.4" cy="79.8" r="4.5" fill="#ff8a00"/><circle cx="266.4" cy="95.5" r="4.5" fill="#ffd100"/><circle cx="266.4" cy="111.3" r="4.5" fill="#38ffc7"/><circle cx="266.4" cy="127" r="4.5" fill="#0094ff"/><circle cx="266.4" cy="142.7" r="4.5" fill="#00c7ff"/></g>
</g>
<path d="M0,0.8H518.7" stroke="#1a1a1a" stroke-width="1.6"/>
<path d="M1,0V253.4" stroke="#222" stroke-width="2"/>
<path d="M518.1,0V253.4" stroke="#222" stroke-width="1.2"/>
<path d="M0,251.95H518.7" stroke="#000" stroke-width="2.9"/>
</g>
<text transform="translate(66.4,529.8) scale(1,1.06)" font-size="36.6" fill="#fff">Jun 6-17, 2017</text>
<!-- panel D -->
<g transform="translate(581.2,300.0) scale(0.99961,1.00000)">
<g clip-path="url(#cp)">
<rect width="518.7" height="253.4" fill="#00f2ff"/>
<path fill="#0dfff2" d="M4.8,1 519,1 519,241.8 511,245.6 506.2,249 502.4,253 0.8,253 0.8,1Z"/>
<path fill="#26ffd9" d="M4.8,1 519,1 519,232.6 502.8,241 492.1,249 489,253 0.8,253 0.8,1Z"/>
<path fill="#40ffbf" d="M4.8,1 519,1 519,226.2 505.6,233 492.6,241 487.3,245 483.7,249 481.7,253 0.8,253 0.8,1Z"/>
<path fill="#59ffa6" d="M4.8,1 519,1 519,220.3 515,221.9 499.1,230.9 483.7,241 479.1,245.7 475.6,253 0.8,253 0.8,1Z"/>
<path fill="#73ff8c" d="M4.8,1 519,1 519,214.5 515,216.1 499.1,225.2 480.5,237 475.2,242.1 471.2,249 469.8,253 0.8,253 0.8,110.1 4.9,105 5.8,101 6.2,93 6.6,29 4.2,17 4,1Z"/>
<path fill="#8cff73" d="M24.7,1 519,1 519,208.9 511,212.8 497.1,221 475.2,234.9 469.6,241 465.5,249 464.2,253 0.8,253 0.8,115.6 4.8,112 8.8,107 12.8,101 16.8,93 19.1,85 21.1,73 23.4,65 24.4,57 23.1,49 24,37 22.5,25 23,1Z"/>
<path fill="#a6ff59" d="M40.7,1 519,1 519,203.6 515,205.3 495.1,217.1 470.1,233 466.2,237 463.7,241 460.1,249 459,253 0.8,253 0.8,118 8.8,110.4 20.7,95.8 24.7,90 27.7,81 33.3,69 35.3,61 37,57 40.7,51.6 44.1,49 44.2,45 40.4,37 37.6,25 36.9,1Z"/>
<path fill="#bfff40" d="M52.6,1 519,1 519,198.4 515,200.2 474.3,225 463.2,232.9 460,237 458,241 455,249 454.2,253 0.8,253 0.8,119.8 4.7,117 8.6,113 25.8,93 28.7,87.3 30.6,81 36.2,69 38.4,61 40.7,57 44.6,54.7 48.6,55.3 56.6,61.1 60.6,63 64.6,63.6 66.8,61 65.1,57 58.1,45 49.8,25 50,1Z"/>
<path fill="#d9ff26" d="M64.6,1 519,1 519,193.2 515,195 460.6,229 456.3,233 454,237 451.1,245 449.5,253 0.8,253 0.8,121.4 4.8,118.6 8.8,114.7 25.1,97 28,93 30.5,89 33.2,81 38.7,69 40.7,62 44.6,58.4 48.6,59.4 56.6,65.8 68.6,70.9 77,77 84,81 88.5,81.4 89.8,81 89.8,77 86,69 76,53 69.9,41 62.6,29 61.4,25 61.6,1Z"/>
<path fill="#f2ff0d" d="M72.6,1 519,1 519,188 515,189.8 467.2,219.6 453.4,229 449.9,233 448.1,237 446,245 444.9,253 0.8,253 0.8,122.9 4.8,120.3 8.3,117 30.5,93 32.8,89 43.1,65 44.6,62.7 48.6,63.6 55.9,69 64.6,72.1 68.6,74.3 80.5,83.3 88.5,87.4 100.5,97.1 112.6,101 113.7,97 110.8,89 106.8,81 91.4,57 84.6,45 75.5,33 73.3,29 72.3,25 72.1,21 72.1,1Z"/>
<path fill="#fff200" d="M84.5,1 519,1 519,182.8 511,187 489.6,201 459.2,219.3 447.2,228.2 443.7,233 442.5,237 440.2,253 0.8,253 0.8,124.4 4.8,122.3 8.8,118.7 29.7,97 39.7,85 44.9,77 48.4,73 56.6,73 64.6,75 68.6,77.2 80.5,86.2 88.5,90.9 100.5,100.9 108.4,105 120.4,113.9 136.3,121.2 137,121 137.6,117 136.4,113 131.6,101 125.3,89 101.6,53 86.7,33 84.7,29 83.6,21 83.6,1Z"/>
<path fill="#ffd900" d="M100.5,1 519,1 519,177.6 511,181.7 487.1,197 459.2,213.6 443.6,225 439.9,229 438.1,233 435.5,253 0.8,253 0.8,126.6 4.8,124.4 8.8,120.9 32.7,96.9 48.6,85.7 52.6,81.5 56.6,78.3 60.6,77.4 64.6,78.4 68.6,80.3 76.5,86.5 86.9,93 96.5,101.5 108.4,108.5 119.2,117 128.4,122.2 141,133 148.1,137 156.3,140.2 160.2,141.4 161.4,141 161.6,137 158.9,129 152.3,113 146.1,101 138.6,89 104.5,41 102.3,37 100.9,33 100.3,29 100.1,1Z"/>
<path fill="#ffbf00" d="M132.3,1 519,1 519,172.3 511,176.4 483.1,193.7 455.2,209.8 439.3,222.1 435.3,226.7 432.9,233 430.8,253 0.8,253 0.8,129.7 4.8,128.3 8.8,125.1 24.7,108.9 34.2,101 40.3,97 44.6,95.1 59.7,85 64.6,84.2 68.6,85 76.5,91.2 80.6,93 96.5,106.4 108.4,112.4 116.4,119 126.4,125 140.3,137.5 164.2,151.1 172.2,154.6 180.2,159.8 184.2,161.5 185.5,161 185.5,157 184.3,153 171.2,121 159.6,101 140.3,73 135.5,65 131.6,57 130.4,53 129.5,45 129.4,1Z"/>
<path fill="#ffa600" d="M180.2,1 519,1 519,166.9 515,168.6 479.1,189.5 455.2,202.3 447.2,207.4 439.3,214.2 431.3,222.8 428.5,229 426.2,253 0.8,253 0.8,189 4.8,189 8.8,185 12.8,185 16.7,181 20.7,181 24.7,177 32.7,177 36.7,173 40.7,173 44.6,169 52.6,169 56.6,165 60.6,165 64.6,161 68.6,161 72.6,157 80.5,157 84.5,153 88.5,153 92.5,149 100.5,149 104.4,145 108.4,145 112.4,141 128.4,144.4 152.3,148.4 168.2,157.1 180.2,166.8 184.2,169.4 191.6,173 200.1,178.7 204.1,180.6 208.1,180.2 209.4,177 208.2,173 193.9,137 182.1,113 178.4,101 177.6,89 177.6,1Z"/>
<path fill="#ff8c00" d="M212.1,1 519,1 519,161.2 479.1,182.1 447.2,195.6 443.3,198.1 439.3,201.5 431.3,210 425,221 423.1,229 421.6,253 0.8,253 0.8,216.4 12.8,211.1 24.7,206.9 40.7,199.1 72.6,186.9 88.5,179.1 120.4,166.9 136.3,159.1 148.3,155.1 152.3,154.4 158.9,157 165.9,161 180.2,172.8 187.6,177 196.1,183.3 208.1,187.3 211.3,189 224,198 228,198.7 232,197.9 232.8,197 232.1,193 212.2,141 210.2,133 209.6,121 209.6,1Z"/>
<path fill="#ff7300" d="M244,1 519,1 519,154.6 507,160.6 477.1,173 451.7,181 439.3,183.5 435.3,185.1 431.3,187.8 419.8,201 417,205 415.6,209 413.4,225 412.7,253 51.2,253 52.6,251.5 56.6,249.9 62,249 75.1,245 84.5,241.3 112.4,228.1 122.1,225 180.2,196.2 196.1,190.7 200.1,190.4 208.1,192.4 220,202.3 232,207.3 244,215.9 251.9,218.1 255.9,217.9 256.5,217 256,213 246.9,185 244,173 243,165 242.7,1Z"/>
<path fill="#ff5900" d="M275.8,1 304.4,1 304.3,209 303.7,213.4 301.4,221 295.8,234.2 291.8,240.3 287.8,238 283.8,229.3 275.8,202.9 273.9,189 273.7,1ZM447.2,1 519,1 519,146.6 507,151.3 503.1,152.2 487.1,151.6 475.2,153.2 459.2,151.6 451.2,150.1 448.5,149 445.6,145 445,137 445,1ZM216.1,213 224,212 228,212.7 240,222.5 245,225 249.3,229 251.5,233 252.1,237 251.9,243.7 247.9,249 228,249 224,253 140.2,253 141.5,245 143.4,241 148.3,238.2 149.2,237 180.1,225 216,213Z"/>
<path fill="#ff4000" d="M483.1,1 519,1 519,138 503.1,142.3 494,141 484.2,137 480.9,133 480.3,129 480.2,1Z"/>
<use href="#sb"/>
<g stroke="#e2e2e2" stroke-width="1.5"><circle cx="204.6" cy="7.5" r="4.5" fill="#ffbd00"/><circle cx="204.6" cy="16.9" r="4.5" fill="#ffbd00"/><circle cx="204.6" cy="32.6" r="4.5" fill="#ffbd00"/><circle cx="204.6" cy="48.4" r="4.5" fill="#ffbd00"/><circle cx="204.6" cy="64.1" r="4.5" fill="#ffbd00"/><circle cx="204.6" cy="79.8" r="4.5" fill="#ffbd00"/><circle cx="204.6" cy="95.5" r="4.5" fill="#ffbd00"/><circle cx="204.6" cy="111.3" r="4.5" fill="#ffbd00"/><circle cx="255.7" cy="7.5" r="4.5" fill="#ff8a00"/><circle cx="255.7" cy="16.9" r="4.5" fill="#ff8a00"/><circle cx="255.7" cy="32.6" r="4.5" fill="#ff8a00"/><circle cx="255.7" cy="48.4" r="4.5" fill="#ff8a00"/><circle cx="255.7" cy="64.1" r="4.5" fill="#ff8a00"/><circle cx="255.7" cy="79.8" r="4.5" fill="#ff8a00"/><circle cx="255.7" cy="95.5" r="4.5" fill="#ff8a00"/><circle cx="255.7" cy="111.3" r="4.5" fill="#ff8a00"/><circle cx="255.7" cy="127" r="4.5" fill="#ff8a00"/><circle cx="255.7" cy="142.7" r="4.5" fill="#ff8a00"/><circle cx="255.7" cy="158.4" r="4.5" fill="#ff8a00"/><circle cx="255.7" cy="174.2" r="4.5" fill="#ff8a00"/><circle cx="333.3" cy="7.5" r="4.5" fill="#ff6100"/><circle cx="333.3" cy="16.9" r="4.5" fill="#ff6100"/><circle cx="333.3" cy="32.6" r="4.5" fill="#ff6100"/><circle cx="333.3" cy="48.4" r="4.5" fill="#ff6100"/><circle cx="333.3" cy="64.1" r="4.5" fill="#ff6100"/><circle cx="333.3" cy="79.8" r="4.5" fill="#ff6100"/><circle cx="333.3" cy="95.5" r="4.5" fill="#ff6100"/><circle cx="333.3" cy="111.3" r="4.5" fill="#ff6100"/><circle cx="333.3" cy="127" r="4.5" fill="#ff6100"/><circle cx="333.3" cy="142.7" r="4.5" fill="#ff6100"/><circle cx="333.3" cy="158.4" r="4.5" fill="#ff6100"/><circle cx="333.3" cy="174.2" r="4.5" fill="#ff6100"/><circle cx="333.3" cy="189.9" r="4.5" fill="#ff6100"/><circle cx="333.3" cy="205.6" r="4.5" fill="#ff6100"/><circle cx="333.3" cy="221.3" r="4.5" fill="#ff6100"/><circle cx="333.3" cy="237.1" r="4.5" fill="#ff6100"/><circle cx="410.2" cy="7.5" r="4.5" fill="#ff6100"/><circle cx="410.2" cy="16.9" r="4.5" fill="#ff6100"/><circle cx="410.2" cy="32.6" r="4.5" fill="#ff6100"/><circle cx="410.2" cy="48.4" r="4.5" fill="#ff6100"/><circle cx="410.2" cy="64.1" r="4.5" fill="#ff6100"/><circle cx="410.2" cy="79.8" r="4.5" fill="#ff6100"/><circle cx="410.2" cy="95.5" r="4.5" fill="#ff6100"/><circle cx="410.2" cy="111.3" r="4.5" fill="#ff6100"/><circle cx="410.2" cy="127" r="4.5" fill="#ff6100"/><circle cx="410.2" cy="142.7" r="4.5" fill="#ff6100"/><circle cx="410.2" cy="158.4" r="4.5" fill="#ff6100"/><circle cx="410.2" cy="174.2" r="4.5" fill="#ff6100"/><circle cx="410.2" cy="189.9" r="4.5" fill="#ff6100"/><circle cx="410.2" cy="205.6" r="4.5" fill="#ff6100"/><circle cx="410.2" cy="221.3" r="4.5" fill="#ff6100"/><circle cx="410.2" cy="237.1" r="4.5" fill="#ff6100"/><circle cx="410.2" cy="252.8" r="4.5" fill="#ff6100"/></g>
</g>
<path d="M0,0.8H518.7" stroke="#1a1a1a" stroke-width="1.6"/>
<path d="M1,0V253.4" stroke="#222" stroke-width="2"/>
<path d="M518.1,0V253.4" stroke="#222" stroke-width="1.2"/>
<path d="M0,251.95H518.7" stroke="#000" stroke-width="2.9"/>
</g>
<text transform="translate(604.3,529.8) scale(1,1.06)" font-size="36.6" fill="#fff">Oct 20-22, 2017</text>
<!-- panel E -->
<g transform="translate(42.1,573.9) scale(1.00000,0.99763)">
<g clip-path="url(#cp)">
<rect width="518.7" height="253.4" fill="#00008c"/>
<path fill="#0000a6" d="M4.9,1.1 518.9,1.1 518.9,253.7 456.7,253.7 460.9,245.7 462.4,241.6 462.9,237.6 461.4,233.6 457.1,229.6 450.8,225.6 443.2,223 427.3,221.2 415.3,220.6 407.1,221.6 403.3,222.9 398.8,225.6 396.6,229.6 395.5,233.6 393.2,245.7 392.6,253.7 0.9,253.7 0.9,1.1Z"/>
<path fill="#0000bf" d="M4.9,1.1 518.9,1.1 518.9,208.2 503,208.1 467.1,209.8 443.2,209.9 411.3,207.5 387.4,207.9 381.5,209.6 360.9,217.6 355.5,220.5 339.6,236.8 335.6,239 331.6,239.3 323.7,237.8 319.7,236.2 315.8,233.6 307.7,230.8 303.7,228.4 299.7,227.6 293,229.6 245.2,253.7 0.9,253.7 0.9,1.1Z"/>
<path fill="#0000d9" d="M4.9,1.1 518.9,1.1 518.9,193.5 495,194.2 439.2,198.1 423.3,197 387.4,196 383.4,196.2 359.5,200.9 343.6,201.8 335.6,204.2 331.6,206.3 322.6,213.6 314.6,221.6 311.7,222.1 303.7,220.1 299.7,220.8 295.8,222.4 241.1,249.7 234.6,253.7 0.9,253.7 0.9,1.1Z"/>
<path fill="#0000f2" d="M4.9,1.1 518.9,1.1 518.9,180.1 487,181.4 435.2,186.4 403.3,186.5 383.4,185.2 359.5,185.9 343.6,184.9 331.6,185.8 319.7,188.1 306.7,193.5 299.7,198 297,201.6 297.3,205.6 299.7,213.6 296.7,217.6 236,248.1 232,250.8 229.4,253.7 0.9,253.7 0.9,1.1Z"/>
<path fill="#000dff" d="M4.9,1.1 518.9,1.1 518.9,168.3 487,169.9 459.1,172.8 435.2,175.9 407.3,177.3 391.4,176.4 339.6,170.7 319.7,170.8 311.7,171.7 303.9,173.5 291.6,177.5 282.5,181.5 277,185.5 277,189.5 279,193.5 289.6,209.6 289.5,213.6 287.8,215 283.8,216.2 267.9,216.8 255.9,215.5 251.9,213.6 247.9,213.6 240,205.6 236,205.6 232,201.6 228,201.6 224,205.6 220.1,205.6 212.1,213.6 208.1,213.6 204.1,217.6 200.1,217.6 196.1,221.6 192.2,221.6 188.2,225.6 184.2,225.6 180.2,229.6 176.2,229.6 172.2,233.6 168.3,233.6 164.3,237.6 160.3,237.6 156.3,241.6 152.3,241.6 148.3,245.7 144.3,245.7 140.4,249.7 136.4,249.7 132.4,253.7 0.9,253.7 0.9,1.1Z"/>
<path fill="#0026ff" d="M4.9,1.1 518.9,1.1 518.9,161.3 487,163.3 431.2,169.3 411.3,170.3 395.4,169.6 375.5,167.5 347.6,163.5 319.7,161.4 311.7,161.6 292.2,165.5 279.3,169.5 271,173.5 265.3,177.5 264.4,181.5 270.9,193.5 267.9,197.3 263.9,196.5 259.9,194.6 247.9,188.2 244,185.2 236.1,181.5 232,180.6 228,181.1 210.5,189.5 204.1,193.2 196.1,198.9 87.3,253.7 0.9,253.7 0.9,1.1Z"/>
<path fill="#0040ff" d="M4.9,1.1 518.9,1.1 518.9,155.7 487,157.8 431.2,163.4 411.3,164.2 383.4,162 347.6,156.9 315.7,153.9 307.7,154.2 283.8,157.9 267.9,163.1 256,169.5 254.4,173.5 258.7,185.5 255.9,187 251.9,186.5 243.1,181.5 232,177.9 228,178.5 224,180 205,189.5 196.1,195.7 89.1,249.7 82.7,253.7 0.9,253.7 0.9,1.1Z"/>
<path fill="#0059ff" d="M4.9,1.1 518.9,1.1 518.9,150.3 487,152.6 447.2,156.6 415.3,158.2 407.3,158 383.4,155.6 347.6,150.4 311.7,146.3 291.8,147.7 275.8,150.3 259.9,155.3 247.3,161.5 244.3,165.5 247.9,177.7 244,178.4 232,175.8 228,176.2 220.1,179.2 204.1,187.3 195.3,193.5 187.7,197.5 88.6,247.3 84.3,249.7 79.3,253.7 0.9,253.7 0.9,1.1Z"/>
<path fill="#0073ff" d="M4.9,1.1 518.9,1.1 518.9,144.8 447.2,151.3 415.3,152.2 387.4,149.7 307.7,138.8 287.8,139.5 267.9,142.7 251.9,147.5 240,152.9 236,155.6 234.7,157.5 235.2,161.5 239.2,169.5 239.3,173.5 232,173.7 224,175 212.1,180.1 204.1,184.1 196.1,189.9 189.7,193.5 88.6,244.2 80.6,248.6 76.1,253.7 0.9,253.7 0.9,1.1Z"/>
<path fill="#008cff" d="M4.9,1.1 518.9,1.1 518.9,139.6 447.2,145.9 419.3,146.1 387.4,143.2 307.7,131.7 291.8,131.2 275.8,132.2 263.9,134.4 247.9,139 232.2,145.4 225.8,149.4 225.1,153.4 226.8,157.5 232.2,165.5 233.3,169.5 228,171.5 212.1,172.4 188.2,171.7 184.2,169.5 180.2,165.5 156.3,165.5 152.3,169.5 140.4,169.5 136.4,173.5 120.4,173.5 116.5,177.5 104.5,177.5 100.5,181.5 88.6,181.5 84.6,185.5 68.6,185.5 64.7,189.5 56.7,189.5 52.7,193.5 44.7,193.5 40.7,197.5 32.8,197.5 28.8,201.6 24.8,201.6 20.8,205.6 0.9,205.6 0.9,1.1Z"/>
<path fill="#00a6ff" d="M4.9,1.1 518.9,1.1 518.9,134.5 447.2,140 423.3,140 391.4,137 307.7,125.1 291.8,124.4 271.9,125.1 263.9,126.7 240.6,133.4 220.1,142 216.9,145.4 217.1,149.4 224,161.5 225.7,165.5 224,166.7 216.1,165 212.1,163.1 181.9,145.4 176.2,145.2 152.3,151.2 144.3,151.8 136.4,154.4 124.4,156.8 120.4,158.4 108.5,159.8 100.5,162.4 92.5,163.8 84.6,166.4 72.6,169 64.7,171.8 56.7,173.2 40.7,180.3 23.9,185.5 13.7,189.5 8.9,192.3 0.9,193.9 0.9,1.1Z"/>
<path fill="#00bfff" d="M4.9,1.1 518.9,1.1 518.9,129.6 463.1,133.5 443.2,134.2 423.3,133.6 391.4,130.3 307.7,118.8 287.8,118.1 267.9,119.3 236,127.4 216.1,135.1 212.1,138.3 210.1,141.4 210.1,145.4 213.4,153.4 213.6,157.5 212.1,157.6 204.1,155 184.2,143.7 180.2,142.7 176.2,142.8 164.3,144.8 152.3,148.3 144.3,148.8 136.4,151.5 125.9,153.4 120.4,155.5 108.5,156.9 100.5,159.5 92.5,160.9 84.6,163.7 75.7,165.5 68.6,168.3 51.2,173.5 36.8,179.9 18.3,185.5 4.9,191.9 0.9,192.5 0.9,1.1Z"/>
<path fill="#00d9ff" d="M4.9,1.1 518.9,1.1 518.9,124.8 463.1,128 439.2,128.1 423.3,127.2 399.4,124.6 307.7,112.6 287.8,111.8 267.9,113.1 259.9,114.4 236,120.3 224,123.8 212.1,128.4 208.1,131.7 203.8,137.4 203,141.4 205.1,149.4 204.1,150.2 192.2,146.1 184.2,141.4 180.2,140.6 176.2,140.7 164.3,142.6 152.3,146 144.3,146.6 132.4,150.1 124.4,151.4 116.5,154 104.5,155.4 99.2,157.5 88.6,159.8 72.6,164.8 64.7,167.9 57.8,169.5 36.8,178.5 16.8,184.9 4.9,190.4 0.9,191.3 0.9,1.1Z"/>
<path fill="#00f2ff" d="M4.9,1.1 518.9,1.1 518.9,120.1 463.1,122.7 439.2,122 407.3,118.9 311.7,107 287.8,105.7 263.9,107.6 235.7,113.4 220.1,117.6 208.1,121.8 204.1,125.4 201.5,129.4 197.6,133.4 196,137.4 196.1,141.8 192.2,142.6 184.2,139.2 180.2,138.8 164.3,139.8 152.3,143.1 140.4,144.5 136.4,146.1 124.4,148.5 116.5,151.1 108.5,151.7 104.5,152.7 56.7,168.8 40.7,175.8 16.8,183.9 4.9,189.2 0.9,190.1 0.9,1.1Z"/>
<path fill="#0dfff2" d="M4.9,1.1 518.9,1.1 518.9,115.7 487,117.3 455.1,117.6 427.3,115.7 347.6,105.6 307.7,101.5 283.8,100.5 259.9,102.6 228,108.7 210.2,113.4 204.1,115.6 200.1,119.3 196.1,126 190.9,129.4 188.2,133.4 184.2,136.3 168.3,136.8 156.3,134.5 148.3,133.8 144.3,134.1 116.5,145 104.5,148.8 96.5,153 52.7,169.4 36.8,176.4 20.6,181.5 4.9,188.4 0.9,189.1 0.9,1.1Z"/>
<path fill="#26ffd9" d="M4.9,1.1 518.9,1.1 518.9,111.6 487,113.3 459.1,113.7 431.2,111.6 367.5,103.6 304.6,97.3 283.8,96.3 263.9,97.4 251.9,98.8 216.1,105.2 202,109.3 196.7,113.4 192,121.4 188.2,123.6 183.4,125.4 180.2,133.5 176.2,134 168.3,133.2 152.3,124.9 148.3,124.1 144.3,124.9 111.2,141.4 103.5,145.4 96.5,150.2 84.6,155.9 64.7,164.2 52.7,168.5 36.8,175.6 18.1,181.5 4.9,187.6 0.9,188.4 0.9,1.1Z"/>
<path fill="#40ffbf" d="M4.9,1.1 518.9,1.1 518.9,107.8 487,109.5 455.1,109.7 427.3,107.3 367.5,99.8 287.8,92.7 255.9,93.8 224,97.9 208.1,100.7 200.1,103.6 197.2,105.3 192.6,109.3 187.3,117.4 184.2,119 175.5,121.4 172.2,129.3 168.3,129.4 160.3,125.1 152.3,121.9 148.3,121.2 138.8,125.4 106.9,141.4 92.5,150.5 80.6,156.2 36.8,174.7 16.8,181.1 4.9,186.7 0.9,187.6 0.9,1.1Z"/>
<path fill="#59ffa6" d="M4.9,1.1 518.9,1.1 518.9,104.1 487,105.9 455.1,106.1 427.3,103.7 371.5,96.7 283.8,89.3 251.9,89.9 208.1,94.5 200.1,97.2 193.6,101.3 188.9,105.3 184.2,112 180.2,114.4 168.3,116.8 164.3,121 163.2,121.4 160.3,121.6 152.3,119.1 148.3,119.2 103.8,141.4 92.5,148.9 80.6,154.9 36.8,173.9 16.8,180.3 4.9,185.9 0.9,186.9 0.9,1.1Z"/>
<path fill="#73ff8c" d="M4.9,1.1 518.9,1.1 518.9,100.7 487,102.6 455.1,102.8 427.3,100.3 371.4,93.3 279.8,86.1 251.9,85.8 208.1,88.6 204.1,89.4 196.1,93.2 185.4,101.3 180.2,107.6 177.7,109.3 172.2,110.7 164.3,111.4 160.3,112.7 156.3,115.5 152.3,115.7 148.3,117.1 101.4,141.4 92.5,147.6 63.9,161.5 36.8,173 16.8,179.4 4.9,185 0.9,186.1 0.9,1.1Z"/>
<path fill="#8cff73" d="M4.9,1.1 518.9,1.1 518.9,97.5 487,99.6 459.1,100 431.2,97.7 399.4,93.4 371.5,90.4 283.8,83.6 251.9,82.3 228,82.7 204.1,83.9 200.1,84.9 196.1,86.9 184.2,95.5 176.2,103.3 172.9,105.3 168.3,106.2 156.3,107 152.3,108.6 149.6,113.4 145,117.4 136.4,122.4 100.5,140.5 92.5,146.3 84.6,150.4 61.6,161.5 43,169.5 33,173.5 16.8,178.6 0.9,185.3 0.9,1.1Z"/>
<path fill="#a6ff59" d="M4.9,1.1 518.9,1.1 518.9,94.9 487,96.8 459.1,97.2 431.2,95.1 399.4,90.7 375.5,88.2 263.9,79.7 232,78.9 200.1,79.8 196.1,80.8 192.2,82.9 178.7,93.3 172.2,99.2 168.3,101.2 152.3,102.1 148.3,102.8 145.7,105.3 146.4,109.3 146.1,113.4 142.6,117.4 135.9,121.4 100.5,139.2 91.7,145.4 84.1,149.4 67.8,157.5 40.9,169.5 16.8,177.8 4.9,183.1 0.9,184.2 0.9,1.1Z"/>
<path fill="#bfff40" d="M4.9,1.1 518.9,1.1 518.9,92.3 487,94.4 459.1,94.9 431.2,92.7 403.3,88.7 375.5,85.8 319.7,82.1 259.9,76.7 216.1,75.3 204.1,75.2 196.1,75.9 188.2,78.6 168.3,95.1 164.3,96.9 144.3,97.7 140.4,98.8 138.5,101.3 142.8,109.3 143.4,113.4 140.2,117.4 133.2,121.4 104.5,135.6 89.2,145.4 65.2,157.5 38.4,169.5 16.8,176.5 6.4,181.5 0.9,183.1 0.9,1.1Z"/>
<path fill="#d9ff26" d="M4.9,1.1 518.9,1.1 518.9,90 487,92.1 455.1,92.4 431.2,90.5 393,85.3 315.7,79.9 259.9,74.3 204.1,71.4 192.2,72.2 186.8,73.3 180.2,76.4 166.7,89.3 164.3,91 160.3,92.5 136.4,93.2 132.4,94.5 130.8,97.3 132.6,101.3 139.3,109.3 140.8,113.4 137.4,117.4 100.5,136 92.5,141.8 86.1,145.4 62.1,157.5 35.3,169.5 16.8,175.1 3.2,181.5 0.9,182.1 0.9,1.1Z"/>
<path fill="#f2ff0d" d="M4.9,1.1 518.9,1.1 518.9,87.8 487,90 455.1,90.4 431.2,88.4 395.4,83.6 371.5,81.5 315.7,78.1 259.9,72 224.8,69.3 200.1,68 184.2,69.4 180.2,70.4 173.6,73.3 169.1,77.3 162.1,85.3 156.3,88 128.4,88.8 124.4,90.1 122.7,93.3 124.4,97.3 127.1,101.3 135,109.3 137.1,113.4 133.4,117.4 104.5,131.6 96.5,136 89.4,141.4 57.7,157.5 52.7,159.2 40.4,165.5 17.8,173.5 12.9,174.7 8,177.5 0.9,180 0.9,1.1Z"/>
<path fill="#fff200" d="M4.9,1.1 518.9,1.1 518.9,85.7 487,88 455.1,88.4 431.2,86.5 395.4,81.7 315.7,76.4 259.9,69.9 208.1,65.4 196.1,65.2 184.2,66.2 176.2,67.4 170.2,69.3 163.4,73.3 156.3,80.6 152.3,82.7 144.3,83.9 124.4,84.1 116.5,85.4 113.6,89.3 113.2,97.3 114.2,105.3 112.5,112.8 100.5,113.4 96.5,109.3 92.5,109.3 88.6,105.3 80.6,105.3 76.6,109.3 68.6,109.3 64.7,113.4 56.7,113.4 52.7,117.4 44.7,117.4 40.7,121.4 36.8,121.4 16.8,141.4 0.9,141.4 0.9,1.1Z"/>
<path fill="#ffd900" d="M4.9,1.1 518.9,1.1 518.9,83.7 487,86.1 455.1,86.5 431.2,84.7 395.4,80 311.7,74.5 259.9,68 224,64.5 200.1,62.8 180.2,63.9 169.9,65.2 157.1,69.3 152.3,71.7 148.3,75.4 144.3,77.8 136.4,79.2 112.5,80 100.5,83.2 92.5,83.4 38.9,101.3 30.2,105.3 24.8,109.1 8.9,124.6 4.9,127.8 0.9,129.1 0.9,1.1Z"/>
<path fill="#ffbf00" d="M4.9,1.1 518.9,1.1 518.9,81.8 487,84.2 455.1,84.6 431.2,82.9 395.4,78.3 315.7,73.2 259.9,66.1 208.1,61.1 196.1,60.6 172.2,61.9 160.3,63.9 148.3,64.2 144.3,65.8 136.4,72.2 132.4,73.7 124.4,74.8 104.5,75.5 100.5,76.3 92.5,79 84.6,83.2 40.7,97.8 32.8,101.2 28.8,104 22,109.3 8.9,122.2 0.9,127.6 0.9,1.1Z"/>
<path fill="#ffa600" d="M4.9,1.1 518.9,1.1 518.9,79.8 487,82.2 455.1,82.7 431.2,81.1 391.4,76.2 315.7,71.4 259.9,64.2 204.1,58.8 160.3,59.9 144.3,58.1 140.4,58.4 136.4,59.8 129.8,65.2 124.4,68.4 116.5,70.1 96.5,71.3 92.5,73 89,77.3 82.8,81.3 40.7,95.3 36.8,97.2 32.8,99.3 24.8,105.2 4.9,124 0.9,126.1 0.9,1.1Z"/>
<path fill="#ff8c00" d="M4.9,1.1 518.9,1.1 518.9,77.7 483,80.3 463.1,80.9 451.2,80.4 431.2,79 395.4,74.7 311.7,69.3 263.9,62.7 204.1,56.7 176.2,56.9 160.3,56.2 140.4,52.4 132.4,52.1 128.4,53.3 118.5,61.2 112.5,64.3 108.5,65.3 92.5,66.4 88.6,67.3 85.8,69.3 85.4,73.3 83.7,77.3 74.6,81.3 40.7,92.6 36.8,94.7 20.8,107.5 4.9,122.8 0.9,124.9 0.9,1.1Z"/>
<path fill="#ff7300" d="M4.9,1.1 518.9,1.1 518.9,75.1 491,77.5 467.1,78.4 436.5,77.3 391.4,72.2 315.7,67.3 297.2,65.2 259.9,59.8 208.1,54.6 172.2,54.1 156.3,51.6 146.9,49.2 136.4,45.6 128.4,45.1 124.4,46 117,49.2 107.2,57.2 104.5,58.7 96.5,60.9 80.6,62.7 75.8,65.2 73.4,69.3 72.6,72 68.6,73.8 64.7,74.5 60.7,76.8 48.7,81.7 40.7,87.8 39.8,89.3 17.4,109.3 5.1,121.4 0.9,124 0.9,1.1Z"/>
<path fill="#ff5900" d="M4.9,1.1 518.9,1.1 518.9,71.8 487,74.4 459.1,75.1 426.3,73.3 403.3,70.2 375.5,68 325.5,65.2 290,61.2 251.9,55.8 208.1,51.4 172.2,50.5 164,49.2 152.3,46.1 148.3,44.6 140.4,39.6 136.4,38.5 132.4,38.7 120.8,41.2 106.9,45.2 95.8,53.2 92.5,54.7 84.6,56.5 68.6,58.4 64.7,60.6 61.1,65.2 56.7,69.4 43.6,77.3 40.7,80.4 35.9,89.3 29.4,97.3 4.9,120.5 0.9,123.1 0.9,1.1Z"/>
<path fill="#ff4000" d="M4.9,1.1 518.9,1.1 518.9,64.7 495,66 459.1,66.7 447.1,65.2 439.2,63.1 431.2,61.8 387.4,60.9 351.5,58.6 340.8,57.2 331.6,54.4 315.7,51 279.8,50.8 212.1,44.3 176.2,43.9 162.2,41.2 154.2,37.2 148.3,31.9 144.3,30.2 140.4,30.5 116.5,38 98.1,41.2 89.9,45.2 84.4,49.2 80.6,50.6 68.6,52.6 64.7,54.1 58.2,65.2 40.7,76.9 33.8,89.3 28,97.3 4.9,119.5 0.9,122.2 0.9,1.1Z"/>
<path fill="#ff2600" d="M4.9,1.1 188.9,1.1 180.2,4.1 172.2,5.4 134.6,9.1 132.4,10.5 130.6,13.1 130.6,25.2 127.3,29.2 118.8,33.2 112.5,34.8 91.7,37.2 84.6,39 79.2,41.2 72.8,45.2 64.7,47.5 61.1,49.2 60.2,53.2 60.1,57.2 58.9,61.2 56.7,64.2 52.7,67.5 44.7,71.9 40.7,74.9 36.8,80.3 29.8,93.3 26.8,97.3 4.9,118.5 0.9,121.3 0.9,1.1Z"/>
<path fill="#ff0d00" d="M4.9,1.1 132.9,1.1 124.4,3.4 120.4,6.1 118.5,9.1 118.2,13.1 119.1,21.1 118.4,25.2 114.6,29.2 104.5,32.2 84.6,34 72.6,36.1 68.9,37.2 56.7,42.9 53.6,45.2 54.8,49.2 57.1,53.2 58,57.2 57,61.2 52.7,65.7 40.4,73.3 36.8,77.7 30.8,89.3 25.6,97.3 4.9,117.5 0.9,120.3 0.9,1.1Z"/>
<path fill="#f20000" d="M4.9,1.1 109,1.1 107.8,9.1 107.8,21.1 106.5,25.2 104.5,26.6 100.5,28.5 96.5,29.4 72.6,31.2 60.7,33.1 48.7,38 46.5,41.2 47.4,45.2 50.2,49.2 54.1,53.2 55.9,57.2 54.8,61.2 50.4,65.2 44.7,68.4 38.7,73.3 35.6,77.3 29.5,89.3 24.3,97.3 4.9,116.2 0.9,119.3 0.9,1.1Z"/>
<path fill="#d90000" d="M4.9,1.1 99.4,1.1 99.3,17.1 98.7,21.1 96.5,23.8 94.7,25.2 92.5,25.8 84.6,26.9 53.2,29.2 40.3,33.2 38.9,37.2 46.4,49.2 52.7,55.7 53.5,57.2 52.6,61.2 44.7,66.4 37,73.3 34.2,77.3 25.9,93.3 22.9,97.3 0.9,118.3 0.9,1.1Z"/>
<path fill="#bf0000" d="M4.9,1.1 91.2,1.1 91.3,13.1 90.9,17.1 88.6,21.1 84.6,22.4 44.7,25.9 36.8,27.2 31.6,29.2 31.2,33.2 33.6,37.2 40.7,45.2 44.7,52 49.4,57.2 48.7,60.2 48.3,61.2 44.7,63.4 40.7,67 35.2,73.3 24.8,92.8 21.5,97.3 0.9,117.1 0.9,1.1Z"/>
<path fill="#a60000" d="M4.9,1.1 73.9,1.1 76.7,5.1 77.9,9.1 77.8,13.1 74.7,17.1 68.6,18.7 56.7,20.5 32.8,22.5 28.8,23.1 23.4,25.2 22.5,29.2 24.9,33.2 37.2,45.2 39.8,49.2 42.1,57.2 41.6,61.2 39.5,65.2 30.7,77.3 24.8,89.7 20.8,95.7 0.9,115 0.9,1.1Z"/>
<path fill="#8c0000" d="M4.9,1.1 34.1,1.1 45.4,5.1 52.3,9.1 50.3,13.1 40.7,15.2 20.8,18 16.8,18.9 12.8,21.1 12.3,25.2 15.1,29.2 20.8,35.6 32.2,45.2 35.2,49.2 36.3,53.2 36.2,61.2 35.1,65.2 33,69.3 29.9,73.3 20.8,91.5 16.8,96.8 0.9,112.2 0.9,1.1Z"/>
<use href="#sb"/>
<g stroke="#e2e2e2" stroke-width="1.5"><circle cx="4.3" cy="7.5" r="4.5" fill="#f00000"/><circle cx="4.3" cy="16.9" r="4.5" fill="#f00000"/><circle cx="28.2" cy="7.5" r="4.5" fill="#f00000"/><circle cx="54.6" cy="7.5" r="4.5" fill="#f00000"/><circle cx="84.7" cy="7.5" r="4.5" fill="#f00000"/><circle cx="122" cy="7.5" r="4.5" fill="#ff7500"/><circle cx="122" cy="16.9" r="4.5" fill="#ff2400"/><circle cx="122" cy="32.6" r="4.5" fill="#ff2e00"/><circle cx="143.8" cy="7.5" r="4.5" fill="#ff2400"/><circle cx="143.8" cy="16.9" r="4.5" fill="#ff2400"/><circle cx="143.8" cy="32.6" r="4.5" fill="#ff2e00"/><circle cx="162.8" cy="7.5" r="4.5" fill="#ff2e00"/><circle cx="162.8" cy="16.9" r="4.5" fill="#ff2400"/><circle cx="162.8" cy="32.6" r="4.5" fill="#ff1a00"/><circle cx="162.8" cy="48.4" r="4.5" fill="#ff7500"/><circle cx="162.8" cy="64.1" r="4.5" fill="#ffe500"/><circle cx="162.8" cy="79.8" r="4.5" fill="#b3ff4c"/><circle cx="184.9" cy="7.5" r="4.5" fill="#ff3800"/><circle cx="184.9" cy="16.9" r="4.5" fill="#ff3800"/><circle cx="184.9" cy="32.6" r="4.5" fill="#ff8000"/><circle cx="184.9" cy="48.4" r="4.5" fill="#faff05"/><circle cx="184.9" cy="64.1" r="4.5" fill="#94ff6b"/><circle cx="184.9" cy="79.8" r="4.5" fill="#6bff94"/><circle cx="184.9" cy="95.5" r="4.5" fill="#57ffa8"/><circle cx="207.5" cy="7.5" r="4.5" fill="#ff0f00"/><circle cx="207.5" cy="16.9" r="4.5" fill="#ff0500"/><circle cx="207.5" cy="32.6" r="4.5" fill="#f00000"/><circle cx="207.5" cy="48.4" r="4.5" fill="#f00000"/><circle cx="207.5" cy="64.1" r="4.5" fill="#ffc700"/><circle cx="207.5" cy="79.8" r="4.5" fill="#4dffb2"/><circle cx="207.5" cy="95.5" r="4.5" fill="#1affe5"/><circle cx="207.5" cy="111.3" r="4.5" fill="#2effd1"/><circle cx="231.3" cy="7.5" r="4.5" fill="#fa0000"/><circle cx="231.3" cy="16.9" r="4.5" fill="#f00000"/><circle cx="231.3" cy="32.6" r="4.5" fill="#db0000"/><circle cx="231.3" cy="48.4" r="4.5" fill="#e50000"/><circle cx="231.3" cy="64.1" r="4.5" fill="#b3ff4c"/><circle cx="231.3" cy="79.8" r="4.5" fill="#80ff80"/><circle cx="231.3" cy="95.5" r="4.5" fill="#00dbff"/><circle cx="231.3" cy="111.3" r="4.5" fill="#00e5ff"/><circle cx="254" cy="7.5" r="4.5" fill="#e50000"/><circle cx="254" cy="16.9" r="4.5" fill="#db0000"/><circle cx="254" cy="32.6" r="4.5" fill="#d10000"/><circle cx="254" cy="48.4" r="4.5" fill="#f00000"/><circle cx="254" cy="64.1" r="4.5" fill="#faff05"/><circle cx="254" cy="79.8" r="4.5" fill="#80ff80"/><circle cx="254" cy="95.5" r="4.5" fill="#05fffa"/><circle cx="254" cy="111.3" r="4.5" fill="#0061ff"/><circle cx="254" cy="127" r="4.5" fill="#0080ff"/><circle cx="276.7" cy="16.9" r="4.5" fill="#db0000"/><circle cx="276.7" cy="32.6" r="4.5" fill="#db0000"/><circle cx="276.7" cy="48.4" r="4.5" fill="#ff8a00"/><circle cx="276.7" cy="64.1" r="4.5" fill="#e5ff1a"/><circle cx="276.7" cy="79.8" r="4.5" fill="#80ff80"/><circle cx="276.7" cy="95.5" r="4.5" fill="#57ffa8"/><circle cx="276.7" cy="111.3" r="4.5" fill="#1affe5"/><circle cx="276.7" cy="127" r="4.5" fill="#0038ff"/><circle cx="276.7" cy="142.7" r="4.5" fill="#006bff"/></g>
</g>
<path d="M0,0.8H518.7" stroke="#1a1a1a" stroke-width="1.6"/>
<path d="M1,0V253.4" stroke="#222" stroke-width="2"/>
<path d="M518.1,0V253.4" stroke="#222" stroke-width="1.2"/>
<path d="M0,251.95H518.7" stroke="#000" stroke-width="2.9"/>
</g>
<text transform="translate(66.4,806.1) scale(1,1.06)" font-size="36.6" fill="#fff">Jun 13-22, 2018</text>
<!-- panel F -->
<g transform="translate(581.2,573.9) scale(0.99961,0.99763)">
<g clip-path="url(#cp)">
<rect width="518.7" height="253.4" fill="#0000bf"/>
<path fill="#0000d9" d="M4.8,1.1 519,1.1 519,253.7 463.2,253.7 464.1,249.7 458.8,245.7 447.2,242.9 419.3,238 363.5,216.6 355.6,214.6 331.7,210.9 327.7,211.4 324.6,213.6 323.9,217.6 327.3,225.6 326.2,229.6 323.7,230.5 315.7,226.1 303.7,225.3 299.8,225.8 287.8,231.1 255.9,247.2 251.9,249.7 248.4,253.7 0.8,253.7 0.8,1.1Z"/>
<path fill="#0000f2" d="M4.8,1.1 519,1.1 519,246 487.1,235.4 463.2,224.6 439.3,219.4 403.4,204.5 387.5,199.1 371.5,195.6 355.6,193.6 311.7,186.3 303.7,185.7 295.8,186.4 291.8,187.5 288.3,189.5 288.8,193.5 295.8,203.4 301.2,209.6 302.2,213.6 299.8,214.8 291.8,210.4 287.8,209.4 283.8,207.3 279.8,204.3 271.9,201.8 267.9,201.8 263.9,203.4 259.9,205.4 255.9,208.6 236,228.3 224,236.6 212.1,248.6 208.1,253.7 0.8,253.7 0.8,1.1Z"/>
<path fill="#000dff" d="M4.8,1.1 519,1.1 519,229.3 503.1,224.1 447.7,197.5 428.5,189.5 415.4,184.9 401.7,181.5 383.5,178.2 331.7,172.9 299.8,167.4 275.8,166.2 267.9,167.1 259.9,169.2 259.4,169.5 259.3,173.5 262.2,177.5 267.9,182.8 277.3,193.5 277.3,197.5 275.8,197.9 267.9,196.8 259.9,197.5 232,197.5 228,193.5 224,193.5 216.1,185.5 212.1,185.5 208.1,181.5 204.1,181.5 196.1,173.5 192.1,173.5 188.1,169.5 180.2,169.5 176.2,173.5 160.2,173.5 156.3,177.5 152.3,177.5 148.3,181.5 140.3,181.5 136.3,185.5 132.3,185.5 128.4,189.5 124.4,189.5 120.4,193.5 112.4,193.5 108.4,197.5 104.4,197.5 100.5,201.6 92.5,201.6 88.5,205.6 84.5,205.6 80.5,209.6 76.5,209.6 72.6,213.6 64.6,213.6 60.6,217.6 56.6,217.6 52.6,221.6 44.6,221.6 40.7,225.6 36.7,225.6 32.7,229.6 28.7,229.6 24.7,233.6 0.8,233.6 0.8,1.1Z"/>
<path fill="#0026ff" d="M4.8,1.1 519,1.1 519,219.8 507,215.8 442.3,185.5 423.3,177.9 415.4,175.6 387.5,169.8 331.7,165 303.7,160.4 275.8,157.1 267.9,157 244.7,161.5 244.7,165.5 247.9,170.4 255.3,177.5 259.9,183.4 263.9,186.1 266.1,189.5 263.9,191.2 259.9,189.8 255.9,186.8 251.9,185.7 247.9,183.6 244,180.5 236,176.6 232,173.4 216.1,166.6 209.2,161.5 204.1,159 196.2,153.4 192.1,152.9 188.1,153.1 180.2,155.2 168.2,155.8 156.3,159.2 148.3,159.8 144.3,160.9 132.3,166.4 122.9,169.5 104.4,178.5 96.5,180.9 84.5,186.5 75.1,189.5 56.6,198.5 48.6,200.9 36.7,206.5 27.2,209.6 8.8,218.5 0.8,219.5 0.8,1.1Z"/>
<path fill="#0040ff" d="M4.8,1.1 519,1.1 519,211.7 511,209.2 455.2,183.8 431.3,173.7 423.3,170.8 407.4,166.7 387.5,162.8 331.7,159.1 271.9,150.4 267.9,150.1 244,150.9 228,145.3 226.3,145.4 225.3,149.4 227.8,153.4 236,163.9 241.6,169.5 244,173.6 240,174.6 232,169.7 220,166 212.1,160.6 204.1,156.3 200.1,153.1 196.1,151.6 188.1,150.7 180.2,152.3 168.2,152.8 160.2,155.5 148.3,156.9 144.3,158 132.3,163.5 124.4,166 104.4,175.6 97.8,177.5 84.5,183.6 76.5,186 56.6,195.6 49.9,197.5 36.7,203.6 28.7,206.1 8.8,215.6 0.8,216.7 0.8,1.1Z"/>
<path fill="#0059ff" d="M4.8,1.1 519,1.1 519,203.6 511,201 435.3,168.2 423.3,164 407.4,159.7 383.5,155.5 327.7,152.9 295.8,148.7 267.9,143.7 244,141.8 240,140.6 220,131.7 212.1,129.4 208.1,129.2 207.3,133.4 212.3,141.4 226.9,157.5 229.8,161.5 228.8,165.5 220,163.7 200.1,151.4 192.1,148.9 188.1,148.6 180.2,150.1 168.2,150.6 156.3,154 144.3,155.4 132.3,161 124.4,163.4 104.4,173 96.5,175.4 83.2,181.5 76.5,183.4 56.6,193 48.6,195.5 35.4,201.6 28.7,203.5 8.8,213.1 4.8,214.2 0.8,214.4 0.8,1.1Z"/>
<path fill="#0073ff" d="M4.8,1.1 519,1.1 519,195.5 499.1,188.2 439.3,162.6 411.4,153.7 387.5,149.1 331.7,147.7 299.8,144 283.8,141.2 244,132.9 212.1,118.5 200.1,114.9 192.1,113.5 190.5,117.4 192.1,121.4 204.4,137.4 223,157.5 224.6,161.5 224,161.8 220,161.6 214.3,157.5 208.1,154.8 200.1,149.6 188.1,146.9 168.2,147.7 156.3,151.1 144.3,152.5 132.3,158.1 120.4,162.2 105.9,169.5 96.5,172.5 84.5,178.1 76.5,180.5 58.1,189.5 48.6,192.6 36.7,198.2 28.7,200.6 10.2,209.6 4.8,211.2 0.8,211.6 0.8,1.1Z"/>
<path fill="#008cff" d="M4.8,1.1 519,1.1 519,187.8 507,183.9 483.1,174.4 443.3,157.2 415.4,147.9 387.5,142.6 331.7,142.3 303.7,139.5 279.8,135 247.9,126.6 240,123.5 219.1,113.4 200.7,105.3 188.1,100.7 180.2,99 176.2,99 174,101.3 175.5,105.3 187,121.4 211.8,149.4 212.1,153.5 208.1,152.3 200.1,147.6 188.1,145.2 180.2,144.6 172.2,142.1 152.3,138 140.3,137.4 136.3,133.4 132.3,133.4 124.4,125.4 120.4,125.4 112.4,117.4 100.5,117.4 96.5,121.4 88.5,121.4 84.5,125.4 76.5,125.4 72.6,129.4 64.6,129.4 60.6,133.4 52.6,133.4 48.6,137.4 40.7,137.4 36.7,141.4 28.7,141.4 24.7,145.4 0.8,145.4 0.8,1.1Z"/>
<path fill="#00a6ff" d="M4.8,1.1 519,1.1 519,180.6 511,178.3 487.1,169 447.2,152 419.3,142.4 391.4,136.9 383.5,136.6 331.7,137.4 303.7,134.7 291.8,132.5 271.9,127.9 247.9,120.7 196.2,97.3 188.1,94.2 168.2,90.7 164.2,91.3 162.6,93.3 164,97.3 179.8,117.4 201.1,141.4 201.2,145.4 196.1,145.6 180.2,141.3 168.2,134.3 161.6,129.4 156.3,126.7 149,121.4 144.3,119.1 136.6,113.4 132.3,111.5 124.3,105.3 120.4,103.7 116.4,100.6 112.4,98.5 108.4,97.9 96.5,100.7 8.8,130.4 0.8,131.6 0.8,1.1Z"/>
<path fill="#00bfff" d="M4.8,1.1 519,1.1 519,173.7 511,171.3 491.1,163.6 451.2,147 431.3,139.6 419.3,136.2 407.4,133.5 391.4,131.1 331.7,132.7 307.7,130.5 295.8,128.6 275.8,124 251.9,117 188.1,90 160.2,84.5 155.8,85.3 155,89.3 156.8,93.3 169.5,109.3 194.2,137.4 197.1,141.4 196.1,142.3 192.1,142.3 187.5,141.4 180.2,138.6 176.2,135.7 168.2,131.5 164.2,128.4 156.3,124 152.3,120.9 144.3,116.5 140.3,113.3 136.3,111.3 114.8,97.3 108.4,96 97.9,97.3 14.1,125.4 8.8,127.6 0.8,129 0.8,1.1Z"/>
<path fill="#00d9ff" d="M4.8,1.1 519,1.1 519,166.8 495.1,158.3 439.3,135.9 415.4,128.9 391.4,125.3 331.7,128.1 299.8,124.8 279.8,120.2 259.9,114.7 240,107.6 192.1,87.8 176.2,83.3 156.3,78.8 152.3,78.9 148.3,81.3 148.2,85.3 150.1,89.3 159.2,101.3 187.4,133.4 189.3,137.4 188.1,138.1 184.2,138.1 182.9,137.4 144.3,114.7 116.4,96.7 112.4,95.1 108.4,94.5 96.5,95.4 24.7,119.3 12.8,123.4 4.8,126.9 0.8,127.7 0.8,1.1Z"/>
<path fill="#00f2ff" d="M4.8,1.1 519,1.1 519,159.9 499.1,153.1 443.3,130.8 415.4,122.7 395.4,120 387.5,119.6 331.7,123.5 299.8,120.3 279.8,115.5 255.9,108.7 228,98.8 188.1,83 164.2,76.1 152.3,73.6 148.3,73.4 144.3,74.9 142.5,77.3 142.3,81.3 143.7,85.3 152.5,97.3 176.7,125.4 178.1,129.4 176.2,130 172.2,129.3 166.5,125.4 160.2,122.6 152.3,117.4 148.3,115.5 116.4,95.5 110,93.3 100.5,92.9 96.5,93 84.5,96.3 24.7,116.4 12.8,120.9 4.8,125.2 0.8,126.3 0.8,1.1Z"/>
<path fill="#0dfff2" d="M4.8,1.1 519,1.1 519,153.7 503.1,148.5 444.1,125.4 419.3,118.2 411.4,116.8 387.5,114.7 331.7,119.3 299.8,116 279.8,111.3 251.9,103.3 220,92.3 188.1,79.9 164.2,72.4 148.3,69.1 144.3,68.9 140.3,69.7 137.1,73.3 136.4,77.3 137.5,81.3 142.6,89.3 166.1,117.4 168,121.4 164.2,121.8 160.2,120.4 152.3,115.5 148.3,114 140.3,108.6 136.3,106.9 128.4,101.5 114.1,93.3 92.5,89.4 68.6,86 64.6,88.6 60.6,89.4 52.6,93.3 47,97.3 44.6,97.9 40.1,101.3 28.7,106.7 16.7,114.7 4.8,124 0.8,125.2 0.8,1.1Z"/>
<path fill="#26ffd9" d="M4.8,1.1 519,1.1 519,148.7 507,144.9 447.2,121.9 419.3,113.8 399.4,111.4 387.5,110.7 331.7,115.4 303.7,112.9 279.8,107.6 247.9,98.6 224,90.7 189.2,77.3 164.2,69.3 148.3,66 140.3,65 136.3,65.6 132.1,69.3 131,73.3 131.5,77.3 136.1,85.3 155.9,109.3 157.9,113.4 156.3,114.3 152.3,113.7 148.3,112 140.3,107.1 136.3,105.6 116.4,93.1 99.7,89.3 88.5,83.6 80,77.3 72.6,74.3 68.6,74 59,77.3 51.4,81.3 45.5,85.3 36.7,93.7 25.7,101.3 12.8,114.2 6.8,121.4 0.8,124.4 0.8,1.1Z"/>
<path fill="#40ffbf" d="M4.8,1.1 519,1.1 519,144.1 511,141.7 451.2,119.2 419.3,110.1 391.4,107.2 383.5,107.3 331.7,111.7 303.7,109.3 279.8,104.1 244,94.2 220,86.4 188.1,74.2 164.2,66.6 144.3,62.5 136.3,61.6 132.3,62.6 127.9,65.2 125.8,69.3 125.8,73.3 127.2,77.3 129.6,81.3 148.8,105.3 149.6,109.3 148.3,109.6 144.3,106.7 136.3,103.8 128.4,98.9 124.4,97.2 116.4,92 104.4,89.5 100.5,88.1 88.5,81 83.5,77.3 75.7,73.3 72.6,72.4 68.6,72.3 63.8,73.3 48.1,81.3 32.7,95.1 28.3,97.3 24.7,100.2 12.8,112.3 5,121.4 0.8,123.6 0.8,1.1Z"/>
<path fill="#59ffa6" d="M4.8,1.1 519,1.1 519,139.6 511,137.2 451.2,115.3 427.3,108.3 419.3,106.6 399.4,104.3 387.5,103.8 347.6,107.4 327.7,108 303.7,105.8 287.8,102.7 247.9,92.5 228,86.3 192.1,73 168.2,65.2 136.3,58.5 132.3,58.8 125.4,61.2 121,65.2 120.1,69.3 121.1,73.3 123.3,77.3 138.9,97.3 141.2,101.3 140.3,102.1 136.3,101.8 132.3,99 124.4,95.6 116.4,90.9 104.4,88.4 100.5,86.7 78.7,73.3 72.6,71.1 68.6,71.2 60.9,73.3 46.4,81.3 36.7,90.3 26.6,97.3 22,101.3 12.8,110.8 4.8,120.4 0.8,122.9 0.8,1.1Z"/>
<path fill="#73ff8c" d="M4.8,1.1 519,1.1 519,135.1 511,132.8 455.2,112.8 429.5,105.3 419.3,103.2 399.4,101 387.5,100.6 347.6,104 327.7,104.5 307.7,102.9 287.8,99.4 251.9,90.7 228,83.7 192.1,70.5 168.2,62.8 140.3,56.5 132.3,55.5 126,57.2 116.9,61.2 114.9,65.2 115.2,69.3 117,73.3 131.5,93.3 128.4,94.9 124.4,94 120.4,91.2 116.4,89.8 104.4,87.3 81.2,73.3 72.6,69.9 68.6,70 59.1,73.3 44.7,81.3 32.7,92.6 24.7,97.5 12.8,109.4 4.8,119.4 0.8,122.1 0.8,1.1Z"/>
<path fill="#8cff73" d="M4.8,1.1 519,1.1 519,130.7 455.2,109 431.3,102.2 419.3,99.8 399.4,97.6 387.5,97.4 347.6,100.7 327.7,101 307.7,99.4 287.8,96.1 251.9,87.8 232,82.2 196,69.3 168.2,60.4 136.3,53 132.3,52.5 128.4,53.1 114.7,57.2 112.4,58.6 109.9,61.2 109.5,65.2 110.8,69.3 121.9,85.3 123.3,89.3 120.4,89.3 116.4,88 104.4,86.2 83.4,73.3 72.6,68.8 67.6,69.3 57.4,73.3 44.6,80.6 32.7,91.7 23.9,97.3 8.8,112.9 4.8,118.4 0.8,121.4 0.8,1.1Z"/>
<path fill="#a6ff59" d="M4.8,1.1 519,1.1 519,126.2 455.6,105.3 423.3,97 403.4,94.7 391.4,94.1 375.5,94.8 347.6,97.4 327.7,97.5 307.7,96 287.8,92.9 244,82.9 228,78.3 196.1,66.8 172.2,59.3 132.3,49.7 128.4,49.8 120.4,52.9 108.4,55.7 105.7,57.2 104.4,59.8 104,61.2 104.7,65.2 106.8,69.3 115.7,81.3 116.9,85.3 112.4,86 108.4,85.9 104.4,84.9 96.5,79.8 92.5,78.1 84.5,72.7 76.5,69 72.6,68 64.8,69.3 48.6,77.2 42.9,81.3 32.7,90.9 23.1,97.3 8.8,112 4.8,117.4 0.8,120.8 0.8,1.1Z"/>
<path fill="#bfff40" d="M4.8,1.1 519,1.1 519,121.8 455.2,101.5 431.3,95.2 423.3,93.6 403.4,91.3 391.4,90.9 375.5,91.5 347.6,94.1 331.7,94.2 311.7,93 287.8,89.7 255.9,83.3 244,80.2 228,75.7 198.7,65.2 173.1,57.2 136.3,47.9 128.4,46.6 124.4,47.7 120.4,49.9 116.4,51.1 103.1,53.2 98.9,57.2 98.9,61.2 100.5,65.2 111.9,81.3 108.4,83.7 104.4,83 92.5,76.8 84.5,71.5 76.5,68 72.6,67.1 64.6,68.7 48.6,76.5 42,81.3 32.7,90.1 22.2,97.3 8.8,111.2 4.1,117.4 0.8,120.2 0.8,1.1Z"/>
<path fill="#d9ff26" d="M4.8,1.1 519,1.1 519,117.3 455.2,97.9 435.3,92.7 423.3,90.4 403.4,88.1 395.4,87.8 375.5,88.4 347.6,91 327.7,90.7 303.7,88.8 287.8,86.6 271.9,83.7 255.9,80.6 232,74.4 180.6,57.2 128.4,43.7 124.4,44 116.4,48.4 100.5,50.4 94.5,53.2 93.2,57.2 94.4,61.2 105,77.3 104.4,79.3 96.5,76.8 84.5,70.4 76.5,67 72.6,66.3 64.6,68 53.3,73.3 46.3,77.3 41.1,81.3 32.7,89.3 20.7,97.9 8.8,110.4 3.4,117.4 0.8,119.6 0.8,1.1Z"/>
<path fill="#f2ff0d" d="M4.8,1.1 519,1.1 519,113.3 511,111.4 451.2,93.5 434.5,89.3 423.3,87.5 405.3,85.3 395.4,84.9 375.5,85.4 347.6,88.1 323.7,87.6 287.8,83.9 259.9,79 228,70.8 200.4,61.2 174.2,53.2 128.8,41.2 124.4,40.7 120.4,42.1 116.4,45.5 112.4,46.8 100.5,47.5 92.5,48.8 88.5,52.3 88,53.2 88.3,57.2 97.2,73.3 96.5,73.7 92.5,73.4 88.5,70.5 76.5,66 72.6,65.5 68.6,66.1 60.6,68.9 44.6,77.7 32.7,88.6 20.7,97.1 8.8,109.6 2.8,117.4 0.8,119 0.8,1.1Z"/>
<path fill="#fff200" d="M4.8,1.1 519,1.1 519,109.9 511,108.1 461.5,93.3 427.3,85.3 399.4,82.5 375.5,83 343.6,85.6 319.7,84.7 291.8,81.9 259.9,76.7 232,69.7 194.1,57.2 172.2,50.7 124.4,38.1 120.4,38.4 112.4,44.2 108.4,44.9 92.5,45.5 88.5,46.4 84.5,48.3 83.4,49.2 82.6,53.2 84,57.2 88.3,65.2 84.5,66.7 72.6,64.3 68.6,65.4 60.6,68.3 44.6,77 32.7,88 20.7,96.4 8.3,109.3 0.8,118.4 0.8,1.1Z"/>
<path fill="#ffd900" d="M4.8,1.1 519,1.1 519,107.2 503.1,103.1 456.4,89.3 435.3,84.3 423.3,82.5 407.4,80.6 395.4,80.2 375.5,80.7 347.6,83.3 327.7,82.8 287.8,79.3 263.9,75.3 232,67.6 200.1,57.2 172.2,48.8 128.4,36.7 120.4,35.6 116.4,37 112.4,41.2 108.4,42.6 88.5,43.3 80.1,45.2 77.2,49.2 78,53.2 81.8,61.2 80.5,62.8 72.6,63.1 68.6,64.4 60.6,67.6 44.6,76.4 32.7,87.3 20.7,95.8 7.7,109.3 0.8,117.9 0.8,1.1Z"/>
<path fill="#ffbf00" d="M4.8,1.1 519,1.1 519,104.7 511,102.9 459.2,87.7 427.3,80.8 399.4,78.2 375.5,78.7 347.6,81.1 327.7,80.7 291.8,77.7 263.9,73.3 232,65.6 176.2,48.1 128.4,34.7 120.4,33.2 116.4,33.8 108.4,40.1 104.4,40.9 81.1,41.2 76.5,42.5 72.6,45 72.1,49.2 75.9,57.2 75.2,61.2 68.6,63.3 60.6,67 44.6,75.8 32.7,86.7 20.7,95.1 7.1,109.3 0.8,117.3 0.8,1.1Z"/>
<path fill="#ffa600" d="M4.8,1.1 519,1.1 519,102.3 455.2,84.4 427.3,78.7 399.4,76.1 375.5,76.6 347.6,79.1 323.7,78.5 287.8,75.2 263.9,71.2 232,63.5 180.2,47.4 136.3,34.8 120.4,31 116.4,31.1 112.4,33.1 108.4,37.2 104.4,38.6 80.5,38.7 72.6,39.9 68.9,41.2 66.6,45.2 67.8,49.2 72.5,57.2 71.1,61.2 52.6,70.5 41.9,77.3 32.7,86 20.7,94.5 6.5,109.3 0.8,116.5 0.8,1.1Z"/>
<path fill="#ff8c00" d="M4.8,1.1 519,1.1 519,99.8 508.3,97.3 459.2,82.9 439.3,78.5 423.3,75.9 407.4,74.4 395.4,74 375.5,74.5 347.6,77 339.6,77.1 315.7,75.8 291.8,73.6 264.6,69.3 231.5,61.2 188.1,47.7 132.3,31.4 120.4,28.7 116.4,28.5 112.4,29.9 108.4,33.6 104.4,36.2 100.5,36.8 72.6,36.7 68.6,37.3 64.6,38.8 61.7,41.2 61.9,45.2 69.8,57.2 68.5,61.2 48.6,72.1 41.1,77.3 32.7,85.3 20.7,93.8 5.9,109.3 0.8,115.8 0.8,1.1Z"/>
<path fill="#ff7300" d="M4.8,1.1 519,1.1 519,97.2 503.9,93.3 459.2,80.2 435.3,75 427.3,73.9 399.4,71.4 375.5,72.1 351.6,74.2 339.6,74.5 312.2,73.3 278.6,69.3 257.2,65.2 241,61.2 140.3,31 124.4,26.6 116.4,25.5 112.4,26.6 104.4,33.4 100.5,34.6 72.6,34.3 64.6,35.1 58,37.2 56.2,41.2 58.1,45.2 67.4,57.2 66.6,61.2 44.6,74 40.7,76.9 31.9,85.3 20.7,93.1 5.3,109.3 0.8,115.1 0.8,1.1Z"/>
<path fill="#ff5900" d="M4.8,1.1 519,1.1 519,93.3 459.2,76.3 431.3,70.7 399.4,67.8 347.6,71.4 335.6,71.3 302.5,69.3 273.7,65.2 254,61.2 223.9,53.2 140.3,26.8 132.1,25.2 120.4,21 116.4,21.3 112.4,22.7 108.4,25.9 104.4,30.1 100.5,32.3 96.5,32.8 64.6,32.2 57.3,33.2 52.6,35.6 51.2,37.2 52,41.2 65.1,57.2 64.7,61.2 48.6,70.7 40.7,76.1 31,85.3 20.7,92.3 4.8,109.2 0.8,114.4 0.8,1.1Z"/>
<path fill="#ff4000" d="M4.8,1.1 465.9,1.1 459.2,7.2 454.5,13.1 450.4,17.1 431.3,32.8 411.4,44.3 384.5,61.2 367.5,64.9 347.6,66.8 319.7,65.9 280,61.2 260.7,57.2 230.8,49.2 221.9,45.2 216.1,41.7 203,37.2 198.3,33.2 197.6,29.2 198.8,17.1 195.4,13.1 180.2,11.7 148.3,11 124.4,12.2 120.4,13.5 112.4,17.9 108.4,21.1 104.4,26 100.5,29.6 96.5,30.5 92.5,30.7 60.6,30 52.6,31.1 47.2,33.2 46.2,37.2 48.4,41.2 62.8,57.2 62.6,61.2 40.7,75.2 30.1,85.3 20.7,91.5 4.8,108.4 0.8,113.7 0.8,1.1Z"/>
<path fill="#ff2600" d="M4.8,1.1 292.5,1.1 228,4.3 128.4,6 120.4,7.4 112.4,11.9 106.4,17.1 101.2,25.2 96.5,27.9 92.5,28.4 60.6,27.5 52.6,28 45.9,29.2 40.8,33.2 42.2,37.2 45.3,41.2 52.6,48.2 60.4,57.2 60.4,61.2 40.7,74.4 29.2,85.3 20.7,90.7 4.8,107.6 0.8,112.8 0.8,1.1ZM335.6,17 359.6,16.3 371.5,16.8 375.5,18 379.4,21.1 373,33.2 364,53.2 357.9,57.2 347.6,59.1 339.6,59.2 327.7,58.2 287.8,52.8 279.8,51.2 272.7,49.2 250.6,41.2 244.7,37.2 242.3,33.2 241.2,29.2 241.9,25.2 244,23.6 251.9,21.4 295.8,17.4 307.7,17.3 323.7,18.1 333.6,17.1Z"/>
<path fill="#ff0d00" d="M4.8,1.1 141.3,1.1 120.4,2.2 111.1,5.1 108.4,6.8 104.4,10.8 98.9,21.1 96.5,24.2 94.4,25.2 88.5,25.6 52.6,25.3 44.6,26.1 40.7,27.1 36.5,29.2 36,33.2 42.4,41.2 51.2,49.2 54.7,53.2 57.5,57.2 57.5,61.2 52.8,65.2 40.7,73.6 27.9,85.3 20.7,89.9 4.8,106.7 0.8,111.7 0.8,1.1Z"/>
<path fill="#f20000" d="M4.8,1.1 95.9,1.1 94.6,5.1 92.7,17.1 88.5,20.5 86.4,21.1 76.5,21.8 44.6,22.9 36.7,24.4 32.7,26.3 30.5,29.2 31.8,33.2 35.1,37.2 48.6,49 52.4,53.2 54.5,57.2 54.3,61.2 50.5,65.2 36.7,75.6 28.7,83.2 20.7,88.8 0.8,110.6 0.8,1.1Z"/>
<path fill="#d90000" d="M4.8,1.1 70,1.1 66.8,9.1 66.7,13.1 63.6,17.1 40.7,19.9 32.7,21.8 25.8,25.2 25.3,29.2 27.6,33.2 31.2,37.2 45.6,49.2 49.6,53.2 51.3,57.2 50.9,61.2 48,65.2 40.7,70.6 28.7,81.8 24.2,85.3 20.7,87.1 0.8,109.5 0.8,1.1Z"/>
<path fill="#bf0000" d="M4.8,1.1 46,1.1 44.3,9.1 42.3,13.1 33.4,17.1 24.7,20 20.7,23.2 19.7,25.2 20.7,30.1 24.7,35.9 28.7,39.9 45.4,53.2 47.1,57.2 46.6,61.2 44.2,65.2 36.7,71 26,81.3 20.7,85.4 0.8,107.9 0.8,1.1Z"/>
<path fill="#a60000" d="M4.8,1.1 26.1,1.1 26.1,5.1 25.8,9.1 24,13.1 16.7,18.7 15.2,21.1 15.1,25.2 18.6,41.2 18.3,81.3 16.9,85.3 12.2,93.3 0.8,106.1 0.8,1.1Z"/>
<path fill="#8c0000" d="M4.8,1.1 10.2,1.1 10.1,9.1 8,17.1 8,21.1 11.2,29.2 12.4,37.2 12.4,81.3 12.2,85.3 9.3,93.3 0.8,102.8 0.8,1.1Z"/>
<use href="#sb"/>
<g stroke="#e2e2e2" stroke-width="1.5"><circle cx="198.9" cy="7.5" r="4.5" fill="#e50000"/><circle cx="198.9" cy="16.9" r="4.5" fill="#e50000"/><circle cx="198.9" cy="32.6" r="4.5" fill="#e50000"/><circle cx="198.9" cy="48.4" r="4.5" fill="#e50000"/><circle cx="198.9" cy="64.1" r="4.5" fill="#ff6b00"/><circle cx="198.9" cy="79.8" r="4.5" fill="#ffc700"/><circle cx="198.9" cy="95.5" r="4.5" fill="#bdff42"/><circle cx="198.9" cy="111.3" r="4.5" fill="#0038ff"/><circle cx="252.9" cy="7.5" r="4.5" fill="#ff6100"/><circle cx="252.9" cy="16.9" r="4.5" fill="#ff8000"/><circle cx="252.9" cy="32.6" r="4.5" fill="#f0ff0f"/><circle cx="252.9" cy="48.4" r="4.5" fill="#e5ff1a"/><circle cx="252.9" cy="64.1" r="4.5" fill="#dbff24"/><circle cx="252.9" cy="79.8" r="4.5" fill="#dbff24"/><circle cx="252.9" cy="111.3" r="4.5" fill="#b3ff4c"/><circle cx="252.9" cy="127" r="4.5" fill="#80ff80"/><circle cx="252.9" cy="142.7" r="4.5" fill="#0ffff0"/><circle cx="252.9" cy="158.4" r="4.5" fill="#0005ff"/><circle cx="331.5" cy="7.5" r="4.5" fill="#ff8000"/><circle cx="331.5" cy="16.9" r="4.5" fill="#ffdb00"/><circle cx="331.5" cy="32.6" r="4.5" fill="#f0ff0f"/><circle cx="331.5" cy="48.4" r="4.5" fill="#e5ff1a"/><circle cx="331.5" cy="64.1" r="4.5" fill="#e5ff1a"/><circle cx="331.5" cy="79.8" r="4.5" fill="#e5ff1a"/><circle cx="331.5" cy="95.5" r="4.5" fill="#dbff24"/><circle cx="331.5" cy="111.3" r="4.5" fill="#c7ff38"/><circle cx="331.5" cy="127" r="4.5" fill="#a8ff57"/><circle cx="331.5" cy="142.7" r="4.5" fill="#42ffbd"/><circle cx="331.5" cy="158.4" r="4.5" fill="#00faff"/><circle cx="331.5" cy="174.2" r="4.5" fill="#006bff"/><circle cx="331.5" cy="189.9" r="4.5" fill="#0061ff"/><circle cx="331.5" cy="205.6" r="4.5" fill="#0061ff"/><circle cx="331.5" cy="221.3" r="4.5" fill="#004dff"/><circle cx="331.5" cy="237.1" r="4.5" fill="#0038ff"/><circle cx="413.6" cy="7.5" r="4.5" fill="#f00000"/><circle cx="413.6" cy="16.9" r="4.5" fill="#f00000"/><circle cx="413.6" cy="32.6" r="4.5" fill="#f00000"/><circle cx="413.6" cy="48.4" r="4.5" fill="#ff0f00"/><circle cx="413.6" cy="64.1" r="4.5" fill="#ff0f00"/><circle cx="413.6" cy="79.8" r="4.5" fill="#ff0f00"/><circle cx="413.6" cy="95.5" r="4.5" fill="#ff2400"/><circle cx="413.6" cy="111.3" r="4.5" fill="#ff2400"/><circle cx="413.6" cy="127" r="4.5" fill="#ff2e00"/><circle cx="413.6" cy="142.7" r="4.5" fill="#ff4c00"/><circle cx="413.6" cy="158.4" r="4.5" fill="#ff8000"/><circle cx="413.6" cy="174.2" r="4.5" fill="#ff8a00"/><circle cx="413.6" cy="189.9" r="4.5" fill="#ffb300"/><circle cx="413.6" cy="205.6" r="4.5" fill="#c7ff38"/><circle cx="413.6" cy="221.3" r="4.5" fill="#75ff8a"/><circle cx="413.6" cy="237.1" r="4.5" fill="#00e5ff"/></g>
</g>
<path d="M0,0.8H518.7" stroke="#1a1a1a" stroke-width="1.6"/>
<path d="M1,0V253.4" stroke="#222" stroke-width="2"/>
<path d="M518.1,0V253.4" stroke="#222" stroke-width="1.2"/>
<path d="M0,251.95H518.7" stroke="#000" stroke-width="2.9"/>
</g>
<text transform="translate(601.5,807.6) scale(1,1.06)" font-size="36.6" fill="#fff">Aug 18-20, 2018</text>
<!-- panel G -->
<g transform="translate(1328.2,27.1) scale(0.99749,0.99645)">
<g clip-path="url(#cp)">
<rect width="518.7" height="253.4" fill="#000090"/>
<path fill="#0000b2" d="M57.5,-0.1 519.1,-0.1 519.1,252.8 -0.2,252.8 -0.2,25.4 43.1,21.4 51.5,20.2 54.6,19.2 57.6,17.3 58,14.4 58.1,11.5 55.3,-0.1Z"/>
<path fill="#0000d4" d="M60.4,-0.1 519.1,-0.1 519.1,252.8 -0.2,252.8 -0.2,31.9 43.1,25.1 52.4,23.2 60.4,20.4 61.5,17.3 61.2,11.5 59.5,2.8 59.9,-0.1Z"/>
<path fill="#0000f6" d="M63.3,-0.1 519.1,-0.1 519.1,252.8 -0.2,252.8 -0.2,37.6 40.2,28.9 51.7,25.8 60.4,22.6 63.7,20.2 63.2,11.5 61.6,2.8 61.7,-0.1Z"/>
<path fill="#001aff" d="M63.3,2.3 63.3,-0.1 519.1,-0.1 519.1,252.8 -0.2,252.8 -0.2,43 17.1,38.7 40.2,32 54.6,27 62.7,23.2 65.4,20.2 63.3,2.8Z"/>
<path fill="#003cff" d="M66.2,-0.1 519.1,-0.1 519.1,252.8 -0.2,252.8 -0.2,48.3 17.1,43.1 40.2,35 54.6,29.1 63.3,24.5 66.8,20.2 64.4,-0.1Z"/>
<path fill="#005eff" d="M66.2,-0.1 519.1,-0.1 519.1,252.8 -0.2,252.8 -0.2,53.7 17.1,47.5 37.3,39.3 51.7,32.7 63.3,26.1 66.2,23.6 68,20.2 65.5,-0.1Z"/>
<path fill="#0080ff" d="M69,-0.1 519.1,-0.1 519.1,252.8 -0.2,252.8 -0.2,59.2 20,50.8 43.1,39.8 57.5,31.8 66.2,25.4 69.2,20.2 66.5,-0.1Z"/>
<path fill="#00a2ff" d="M69,-0.1 519.1,-0.1 519.1,252.8 -0.2,252.8 -0.2,65 17.1,56.9 40.2,44.7 57.5,34.1 66.2,27.3 69,23.5 70.4,20.2 70.4,17.3 67.5,-0.1Z"/>
<path fill="#00c3ff" d="M69,-0.1 519.1,-0.1 519.1,252.8 -0.2,252.8 -0.2,71.2 17.1,62 40.2,48.4 57.5,36.7 66.2,29.3 69,25.8 71.5,20.2 71.5,17.3 70.1,11.5 68.6,-0.1Z"/>
<path fill="#00e5ff" d="M71.9,-0.1 519.1,-0.1 519.1,252.8 -0.2,252.8 -0.2,77.9 20,65.8 43.1,50.4 57.5,39.6 66.2,31.7 70.4,26.1 72.7,20.2 72.7,17.3 71.2,11.5 70.9,5.7 69.7,-0.1Z"/>
<path fill="#09fff6" d="M71.9,-0.1 519.1,-0.1 519.1,252.8 -0.2,252.8 -0.2,85.4 17.1,73.8 43.1,54.6 57.5,42.8 68.2,31.9 71.9,26.2 74,20.2 74,17.3 72.4,11.5 72.1,5.7 70.9,-0.1Z"/>
<path fill="#2bffd4" d="M74.8,-0.1 519.1,-0.1 519.1,252.8 -0.2,252.8 -0.2,93.7 17.1,80.8 43.1,59.5 60.4,43.5 69,33.8 73.6,26.1 75.3,20.2 72.3,-0.1Z"/>
<path fill="#4dffb2" d="M74.8,-0.1 519.1,-0.1 519.1,252.8 -0.2,252.8 -0.2,103.3 17.1,88.8 43.1,65 57.5,50.6 69,37.2 74.1,29 76.8,20.2 76.7,17.3 75.1,11.5 73.9,-0.1Z"/>
<path fill="#6eff90" d="M77.7,-0.1 519.1,-0.1 519.1,252.8 -0.2,252.8 -0.2,114.5 20,95.2 46,68.4 63.3,48.7 71.9,36.8 76,29 78.4,20.2 76.8,11.5 75.6,-0.1Z"/>
<path fill="#91ff6e" d="M77.7,-0.1 519.1,-0.1 519.1,252.8 -0.2,252.8 -0.2,127.8 14.2,112.5 43.1,79.3 60.4,57.7 71.9,41.1 76.8,31.9 79.7,23.2 80.1,20.2 78.5,11.5 77.4,-0.1Z"/>
<path fill="#b3ff4c" d="M80.6,-0.1 519.1,-0.1 519.1,252.8 -0.2,252.8 -0.2,144.4 2.7,141.5 14.2,126.7 46,84.9 63.3,60.2 73.5,43.5 78.9,31.9 82.1,20.2 80.3,11.5 79.3,-0.1Z"/>
<path fill="#d5ff2a" d="M83.5,-0.1 519.1,-0.1 519.1,252.8 -0.2,252.8 -0.2,165.6 11.3,149.3 48.8,91.9 63.3,68.3 74.8,47.2 80.1,34.8 84.5,20.2 82.8,14.4 82.3,5.7 81.3,-0.1Z"/>
<path fill="#f7ff08" d="M86.3,-0.1 519.1,-0.1 519.1,252.8 -0.2,252.8 -0.2,194.6 2.7,190.5 48.8,106.5 66.2,73.2 76,52.2 80.6,40.7 87.5,20.2 85.4,14.4 85.4,5.7 83.6,-0.1Z"/>
<path fill="#ffe500" d="M92.1,-0.1 519.1,-0.1 519.1,252.8 -0.2,252.8 -0.2,238.1 2.7,232.7 63.3,94 77.7,58 86.6,29 92,20.2 92.4,17.3 91.9,11.5 93.3,8.6 91.4,2.8 91.8,-0.1Z"/>
<path fill="#ffc300" d="M164.2,2.1 170.5,-0.1 519.1,-0.1 519.1,252.8 19.2,252.8 33.6,206.3 74.8,81.9 82,58 89.5,29 92.1,25.4 98.2,20.2 101.5,14.4 103.7,12.5 109.4,9.8 123.9,7 144,6.1 162,2.8Z"/>
<path fill="#ffa200" d="M178.7,1.3 180.4,-0.1 519.1,-0.1 519.1,252.8 43.7,252.8 53,206.3 77.7,98.3 85.7,60.9 89.7,37.7 92.1,30 95,26.5 99.3,23.2 104.3,17.3 106.5,15.6 112.3,13.2 123.9,10.9 144,9.3 168.3,5.7 176.9,2.8Z"/>
<path fill="#ff8000" d="M187.3,1.1 188.7,-0.1 519.1,-0.1 519.1,252.8 68.4,252.8 74.6,188.8 89.7,66.7 92.2,40.6 94.2,31.9 96,29 106.5,19.2 112.3,16.5 126.7,13.5 170,8.4 178.7,5.9 185.2,2.8Z"/>
<path fill="#ff5e00" d="M193.1,2.1 195,-0.1 519.1,-0.1 519.1,252.8 93.7,252.8 92.8,215 93,171.4 95.4,40.6 96.2,34.8 97.3,31.9 99.4,29 106.5,22.5 109.4,20.7 115.2,18.5 126.7,16.1 172.9,10.4 187.1,5.7 192.4,2.8Z"/>
<path fill="#ff3c00" d="M198.9,1.7 200.4,-0.1 519.1,-0.1 519.1,252.8 120.2,252.8 114.5,212.1 109.8,168.5 101.7,81.3 98.8,40.6 99.2,34.8 100.4,31.9 103.7,28.2 109.4,23.8 115.2,21.2 126.7,18.5 175.8,12.2 190.2,7.5 198,2.8Z"/>
<path fill="#ff1a00" d="M204.6,1.8 206.1,-0.1 519.1,-0.1 519.1,252.8 148.6,252.8 139.9,220.8 132.5,190.2 111,90 102.9,43.5 102.5,34.8 103.7,31.9 106.7,29 112.3,25.4 118.1,23.1 129.6,20.3 164.2,16.5 181.6,13.4 194.6,8.6 200.1,5.7 203.8,2.8Z"/>
<path fill="#ff0400" d="M213.3,-0.1 519.1,-0.1 519.1,252.8 179.9,252.8 167.1,221.9 155.6,191.4 118.1,83.4 106.6,40.6 106.2,34.8 108,31.9 112.3,28.9 119,26.1 128.8,23.2 164.2,19.3 181.6,16.5 190.2,14 204.6,7.7 210.4,3.1 212.6,-0.1Z"/>
<path fill="#fb0000" d="M213.3,1.8 214.6,-0.1 519.1,-0.1 519.1,252.8 188.4,252.8 175.8,225.1 161.4,190.4 121,85 116.8,72.6 107.8,40.6 107.5,34.8 109.4,31.9 114.1,29 129.6,23.9 167.1,19.7 187.3,15.9 204.6,9.1 209.8,5.7 212.6,2.8Z"/>
<path fill="#f20000" d="M216.2,0.9 216.9,-0.1 519.1,-0.1 519.1,252.8 197.2,252.8 184.4,227.1 170,195.6 155.6,162.1 137,116.2 123.9,86 118.1,70.6 108.5,37.7 108.8,34.8 111.3,31.9 116.6,29 125.2,26.1 143.4,23.2 164.2,21.1 184.4,17.7 193.1,15.1 204.6,10.5 210.4,7.1 214.9,2.8Z"/>
<path fill="#ea0000" d="M219.1,0.6 219.6,-0.1 519.1,-0.1 519.1,252.8 206.5,252.8 190.2,222.6 175.8,193.3 158.5,156.3 139.5,113.3 125.6,84.2 119.8,69.7 109.9,37.7 110.5,34.8 113.4,31.9 119.8,29 129.3,26.1 167.1,21.8 181.6,19.4 193.1,16.4 204.6,12.1 210.4,9.2 217.5,2.8Z"/>
<path fill="#e10000" d="M221.9,0.7 222.5,-0.1 519.1,-0.1 519.1,252.8 216.1,252.8 198.9,223.3 184.4,196.3 164.2,156.7 143.5,113.3 126.7,81 121,67.2 116.6,52.2 111.9,40.6 111.5,37.7 112.3,34.8 116.2,31.9 129.6,27.5 170,22.4 181.6,20.6 193.1,17.8 210.4,11.2 214.7,8.6 220.4,2.8Z"/>
<path fill="#d90000" d="M224.8,1 225.5,-0.1 519.1,-0.1 519.1,252.8 226.3,252.8 210.4,227.9 196,203.2 170,156.5 146.2,110.3 129.6,81.5 122.9,66.7 118.5,52.2 113.7,40.6 113.3,37.7 114.8,34.8 118.1,32.8 130.1,29 144,26.6 170,23.9 184.4,21.5 196,18.7 204.6,15.8 214.4,11.5 218.7,8.6 223.7,2.8Z"/>
<path fill="#d00000" d="M227.7,2.2 229.2,-0.1 519.1,-0.1 519.1,252.8 237.1,252.8 221.9,231 207.5,208.3 175.8,155.7 150.7,110.3 132.5,81.5 125.1,66.7 119.6,49.3 115.7,40.6 115.6,37.7 118.4,34.8 123.9,32.6 138.3,29.1 172.9,25.1 190.2,21.9 201.8,19 220.2,11.5 223.7,8.6 227.4,2.8Z"/>
<path fill="#c80000" d="M331.6,2.6 343.1,1.6 351.8,1.9 400.8,8.7 421,9.9 435.4,9.2 452.7,6.8 467.2,3.5 477.2,-0.1 519.1,-0.1 519.1,252.8 248.7,252.8 236.4,236.7 221.9,216.3 184.4,158.8 155.5,110.3 132.5,76.5 126.2,63.8 123,52.2 118.5,40.6 119.2,37.7 123.9,34.8 141.2,30.5 172.9,27 201.8,21.4 224.8,13.2 227.2,11.5 233.5,4 236.4,3.1 245,3.1 273.9,5 291.2,5.4 308.5,4.7 330,2.8Z"/>
<path fill="#bf0000" d="M519.1,0.3 519.1,252.8 261.3,252.8 245,233.4 233.5,218.1 184.4,148 158.8,107.4 135.4,76.3 128.6,63.8 122.8,43.5 122.5,40.6 124.7,37.7 132.7,34.8 144.7,31.9 175.8,28.6 201.8,24.1 224.8,17.7 230.6,15.3 239.3,10.4 245,9.3 253.7,9.7 279.6,12.6 291.2,13.2 311.4,12.4 346,9.3 356.7,11.5 376.7,17.3 403.7,28.1 449.9,30.8 470.1,30.5 478.7,28.7 487.4,24.7 496,18.7 516.4,2.8Z"/>
<path fill="#b70000" d="M239.3,20 245,19.6 250.8,20 265.2,23.9 273.9,24.9 291.2,24.8 331.6,22.9 343.1,23.6 351.8,25.4 363.3,29.3 392.2,41.7 429.1,55.1 440.6,60.9 464.3,75.3 478.7,82.8 506.4,95.8 513.3,98.2 519.1,99.2 519.1,252.8 275.2,252.8 258.8,235.3 245,218.6 216.8,180.1 190.2,145.6 162.6,104.5 138.3,75.5 131.2,63.8 127.3,46.4 126.9,43.5 127.9,40.6 132.6,37.7 142.5,34.8 152.7,33.3 175.8,31.2 198.9,27.8 238,20.2Z"/>
<path fill="#ae0000" d="M198.9,31.6 219.1,29.5 230.6,29.5 239.3,31.4 253.7,39.9 259.5,41.9 265.2,43 276.8,44.3 288.3,44.8 314.3,42.6 325.8,42.5 337.3,43.7 348.9,46.3 369.1,53.6 397.7,66.7 413.7,75.5 455.6,100.2 481.6,113.8 498.9,120.5 510.4,123.2 519.1,124.5 519.1,252.8 291,252.8 273.9,236.9 259.2,220.8 225.4,177.2 196,142.4 169.4,104.5 161.7,95.8 146.9,81 141.2,74.1 134.3,63.8 133.3,60.9 131.9,46.4 132.5,43.5 135.5,40.6 143.5,37.7 149.8,36.5 178.7,34.1 196.4,31.9Z"/>
<path fill="#a60000" d="M190.2,37.7 210.4,36.7 222.1,37.7 231.5,40.6 262.3,57.5 271,61.6 279.6,64.7 291.2,66.6 314.3,67 325.8,67.9 337.3,70 351.8,74.4 363.3,79.3 378.6,87.1 472.9,140.4 493.1,149.7 519.1,160.2 519.1,227.8 507.6,232.3 498.9,238 493.1,244 488.2,252.8 310.2,252.8 291.2,238.2 281.6,229.5 273.2,220.8 235.8,174.3 207.8,145.2 196,130.7 175.6,101.6 170,95.8 152.7,80.7 145.2,72.6 138.9,63.8 137.6,60.9 137.3,58 137.6,49.3 138.4,46.4 141.2,43.5 146.9,41.2 152.7,40.1 189.8,37.7Z"/>
<path fill="#9d0000" d="M149.8,49.2 155.6,47.9 161.7,49.3 162.6,52.2 162.9,58 164.2,59.9 167.1,62.2 172.9,63.4 178.7,62.3 181.4,60.9 184.5,58 187.3,52 190.5,49.3 196,48 201.8,47.6 207.5,48 213.8,49.3 220.4,52.2 224.8,55.2 230.3,60.9 233.1,66.7 233.3,69.7 232.3,72.6 224.8,79.7 222.1,84.2 222.4,87.1 225.1,90 227.7,91.1 233.5,91.7 241.4,90 253.7,85.7 265.2,84.8 288.3,87.1 302.7,90 311.4,92.4 320.2,95.8 330.8,101.6 346,114.4 372,122.7 392.2,131 415.2,143 436.7,156.9 451.8,168.5 463.6,180.1 467.8,185.9 470.8,191.7 472.4,200.4 471.6,206.3 469.7,212.1 460.4,229.5 451.6,241.1 440.4,252.8 339.8,252.8 322.9,245.4 310.7,238.2 297,227.4 285.4,216.3 279.1,209.2 249.5,171.4 238.4,159.8 218.5,142.3 206.6,127.8 193.6,107.4 186.7,98.7 180.3,92.9 161.2,78.4 149.9,66.7 146.3,60.9 145.8,58 146.9,52.2 149.6,49.3Z"/>
<path fill="#950000" d="M242.1,116 250.8,114.6 262.3,114.6 271,115.9 279.6,118.7 285.9,122 293.1,127.8 297.8,133.6 303.2,142.3 305.7,145.2 309.8,148.1 317.2,150.7 340.2,154 354.7,157.8 369.1,163.9 380.9,171.4 390.1,180.1 396.3,188.8 401.9,200.4 404.4,209.2 404.6,217.9 403.7,222 401.8,226.6 397.9,231.5 392.2,234.9 383.5,236 348.9,235.5 340.2,234.5 333.3,232.4 327.5,229.5 311.5,217.9 302,209.2 297,203.5 274.9,168.5 268.3,159.8 262.3,153.6 242.8,136.5 238,130.7 235.4,124.9 235.3,122 236.7,119.1 241.6,116.2Z"/>
<use href="#sb"/>
<g stroke="#e2e2e2" stroke-width="1.5"><circle cx="186.2" cy="7.5" r="4.5" fill="#ffc700"/><circle cx="186.2" cy="16.9" r="4.5" fill="#f30000"/><circle cx="186.2" cy="32.6" r="4.5" fill="#c50000"/><circle cx="186.2" cy="48.4" r="4.5" fill="#b30000"/><circle cx="186.2" cy="64.1" r="4.5" fill="#b00000"/><circle cx="211.3" cy="7.5" r="4.5" fill="#f30000"/><circle cx="211.3" cy="16.9" r="4.5" fill="#e10000"/><circle cx="211.3" cy="32.6" r="4.5" fill="#c00000"/><circle cx="211.3" cy="48.4" r="4.5" fill="#b30000"/><circle cx="211.3" cy="64.1" r="4.5" fill="#af0000"/><circle cx="211.3" cy="79.8" r="4.5" fill="#af0000"/><circle cx="211.3" cy="95.5" r="4.5" fill="#af0000"/><circle cx="211.3" cy="111.3" r="4.5" fill="#ae0000"/><circle cx="253" cy="16.9" r="4.5" fill="#ce0000"/><circle cx="253" cy="32.6" r="4.5" fill="#c80000"/><circle cx="253" cy="48.4" r="4.5" fill="#bd0000"/><circle cx="253" cy="64.1" r="4.5" fill="#b70000"/><circle cx="253" cy="79.8" r="4.5" fill="#b40000"/><circle cx="253" cy="95.5" r="4.5" fill="#b00000"/><circle cx="253" cy="111.3" r="4.5" fill="#ab0000"/><circle cx="253" cy="142.7" r="4.5" fill="#aa0000"/><circle cx="291.8" cy="7.5" r="4.5" fill="#da0000"/><circle cx="291.8" cy="16.9" r="4.5" fill="#d10000"/><circle cx="291.8" cy="32.6" r="4.5" fill="#c80000"/><circle cx="291.8" cy="48.4" r="4.5" fill="#c20000"/><circle cx="291.8" cy="64.1" r="4.5" fill="#bc0000"/><circle cx="291.8" cy="79.8" r="4.5" fill="#b50000"/><circle cx="291.8" cy="95.5" r="4.5" fill="#b00000"/><circle cx="291.8" cy="111.3" r="4.5" fill="#ac0000"/><circle cx="291.8" cy="127" r="4.5" fill="#aa0000"/><circle cx="291.8" cy="142.7" r="4.5" fill="#a90000"/><circle cx="291.8" cy="158.4" r="4.5" fill="#a80000"/><circle cx="291.8" cy="174.2" r="4.5" fill="#a80000"/><circle cx="332.1" cy="7.5" r="4.5" fill="#d70000"/><circle cx="332.1" cy="16.9" r="4.5" fill="#d00000"/><circle cx="332.1" cy="32.6" r="4.5" fill="#c70000"/><circle cx="332.1" cy="48.4" r="4.5" fill="#c20000"/><circle cx="332.1" cy="64.1" r="4.5" fill="#bd0000"/><circle cx="332.1" cy="79.8" r="4.5" fill="#b80000"/><circle cx="332.1" cy="95.5" r="4.5" fill="#b40000"/><circle cx="332.1" cy="111.3" r="4.5" fill="#b10000"/><circle cx="332.1" cy="127" r="4.5" fill="#ae0000"/><circle cx="332.1" cy="142.7" r="4.5" fill="#ac0000"/><circle cx="332.1" cy="158.4" r="4.5" fill="#a90000"/><circle cx="332.1" cy="174.2" r="4.5" fill="#a70000"/><circle cx="332.1" cy="189.9" r="4.5" fill="#a60000"/><circle cx="332.1" cy="205.6" r="4.5" fill="#a60000"/><circle cx="332.1" cy="221.3" r="4.5" fill="#a80000"/><circle cx="373.2" cy="7.5" r="4.5" fill="#db0000"/><circle cx="373.2" cy="16.9" r="4.5" fill="#d40000"/><circle cx="373.2" cy="32.6" r="4.5" fill="#cc0000"/><circle cx="373.2" cy="48.4" r="4.5" fill="#c60000"/><circle cx="373.2" cy="64.1" r="4.5" fill="#c10000"/><circle cx="373.2" cy="79.8" r="4.5" fill="#bc0000"/><circle cx="373.2" cy="95.5" r="4.5" fill="#b80000"/><circle cx="373.2" cy="111.3" r="4.5" fill="#b50000"/><circle cx="373.2" cy="127" r="4.5" fill="#b20000"/><circle cx="373.2" cy="142.7" r="4.5" fill="#ae0000"/><circle cx="373.2" cy="158.4" r="4.5" fill="#ab0000"/><circle cx="373.2" cy="174.2" r="4.5" fill="#a90000"/><circle cx="373.2" cy="189.9" r="4.5" fill="#a80000"/><circle cx="373.2" cy="205.6" r="4.5" fill="#a80000"/><circle cx="373.2" cy="221.3" r="4.5" fill="#a80000"/><circle cx="414.1" cy="7.5" r="4.5" fill="#de0000"/><circle cx="414.1" cy="16.9" r="4.5" fill="#d90000"/><circle cx="414.1" cy="32.6" r="4.5" fill="#d30000"/><circle cx="414.1" cy="48.4" r="4.5" fill="#cc0000"/><circle cx="414.1" cy="64.1" r="4.5" fill="#c70000"/><circle cx="414.1" cy="79.8" r="4.5" fill="#c20000"/><circle cx="414.1" cy="95.5" r="4.5" fill="#be0000"/><circle cx="414.1" cy="111.3" r="4.5" fill="#ba0000"/><circle cx="414.1" cy="127" r="4.5" fill="#b60000"/><circle cx="414.1" cy="142.7" r="4.5" fill="#b20000"/><circle cx="414.1" cy="158.4" r="4.5" fill="#af0000"/><circle cx="414.1" cy="174.2" r="4.5" fill="#ad0000"/><circle cx="414.1" cy="189.9" r="4.5" fill="#ac0000"/><circle cx="414.1" cy="205.6" r="4.5" fill="#ab0000"/><circle cx="414.1" cy="221.3" r="4.5" fill="#ab0000"/><circle cx="414.1" cy="237.1" r="4.5" fill="#ac0000"/></g>
</g>
<path d="M0,0.8H518.7" stroke="#1a1a1a" stroke-width="1.6"/>
<path d="M1,0V253.4" stroke="#222" stroke-width="2"/>
<path d="M518.1,0V253.4" stroke="#222" stroke-width="1.2"/>
<path d="M0,251.95H518.7" stroke="#000" stroke-width="2.9"/>
</g>
<text transform="translate(1356.1,243.7) scale(1,1.06)" font-size="36.6" fill="#fff">Sept 5-9, 2015</text>
<!-- panel H -->
<g transform="translate(1866.0,27.1) scale(0.99653,0.99645)">
<g clip-path="url(#cp)">
<rect width="518.7" height="253.4" fill="#000090"/>
<path fill="#0000b2" d="M57.8,-0.1 519.8,-0.1 519.8,252.8 0,252.8 0,24.7 47.6,20.2 54.9,18.7 57.9,17.3 59,11.5 56.9,-0.1Z"/>
<path fill="#0000d4" d="M63.5,-0.1 519.8,-0.1 519.8,252.8 0,252.8 0,30.9 49.1,23.5 61.2,20.2 62.5,17.3 62.4,11.5 61.2,5.7 61.5,-0.1Z"/>
<path fill="#0000f6" d="M63.5,1.8 63.7,-0.1 519.8,-0.1 519.8,252.8 0,252.8 0,36.5 37.5,29 60.6,22.8 64.6,20.2 64.9,17.3 63.3,2.8Z"/>
<path fill="#001aff" d="M66.4,-0.1 519.8,-0.1 519.8,252.8 0,252.8 0,41.8 40.4,31.4 54.9,26.9 63.5,23.3 66.7,20.2 64.9,-0.1Z"/>
<path fill="#003cff" d="M66.4,-0.1 519.8,-0.1 519.8,252.8 0,252.8 0,46.9 17.3,42 40.4,34.5 54.9,29 63.5,24.9 66.4,22.7 68,20.2 66.1,-0.1Z"/>
<path fill="#005eff" d="M69.3,-0.1 519.8,-0.1 519.8,252.8 0,252.8 0,52.1 20.2,45.3 43.3,36.3 57.8,29.8 66.4,24.4 69.3,20.2 67.2,-0.1Z"/>
<path fill="#0080ff" d="M69.3,-0.1 519.8,-0.1 519.8,252.8 0,252.8 0,57.5 17.3,50.8 43.3,39.3 57.8,31.9 66.4,26 69,23.2 70.4,20.2 70.6,17.3 68.2,-0.1Z"/>
<path fill="#00a2ff" d="M69.3,-0.1 519.8,-0.1 519.8,252.8 0,252.8 0,63.1 20.2,54.1 43.3,42.5 57.8,34.3 66.4,28 69.3,24.8 71.6,20.2 71.8,17.3 70.6,11.5 70.6,5.7 69.2,-0.1Z"/>
<path fill="#00c3ff" d="M72.2,-0.1 519.8,-0.1 519.8,252.8 0,252.8 0,69 17.3,60.4 40.4,47.6 57.8,36.8 66.4,30.1 70,26.1 72.8,20.2 73,17.3 71.7,11.5 72,5.7 70.5,-0.1Z"/>
<path fill="#00e5ff" d="M72.2,-0.1 519.8,-0.1 519.8,252.8 0,252.8 0,75.5 17.3,65.8 40.4,51.5 54.9,41.7 66.4,32.4 71.6,26.1 74.1,20.2 74.4,17.3 73,11.5 73.7,5.7 71.7,-0.1Z"/>
<path fill="#09fff6" d="M75.1,-0.1 519.8,-0.1 519.8,252.8 0,252.8 0,82.5 17.3,71.7 43.3,53.7 57.8,42.7 69.3,31.9 73.3,26.1 75.5,20.2 75.8,17.3 74.5,11.5 75.6,5.7 73.9,-0.1Z"/>
<path fill="#2bffd4" d="M80.9,-0.1 519.8,-0.1 519.8,252.8 0,252.8 0,90.4 20.2,76.1 43.3,58.3 57.8,46.2 69.3,34.8 73.6,29 77.1,20.2 77.3,17.3 76.4,11.5 78.2,5.7 78.7,-0.1Z"/>
<path fill="#4dffb2" d="M86.6,0.5 87.1,-0.1 519.8,-0.1 519.8,252.8 0,252.8 0,99.4 14.4,88.1 37.5,68.6 54.9,53 66.4,41.3 72.2,34.4 75.6,29 78.8,20.2 78.8,11.5 80.9,7.1 84.8,2.8Z"/>
<path fill="#6eff90" d="M92.4,1.6 95.5,-0.1 519.8,-0.1 519.8,252.8 0,252.8 0,109.7 11.6,99.8 37.5,75.3 54.9,57.9 66.4,45.2 74.4,34.8 77.7,29 80.6,20.2 81.5,11.5 83.7,8.3 91,2.8Z"/>
<path fill="#91ff6e" d="M101.1,1.9 103.8,-0.1 519.8,-0.1 519.8,252.8 0,252.8 0,122 8.7,113.7 40.4,80 57.8,60.3 69.3,45.9 75.1,37.6 79.9,29 82,23.2 83.2,14.4 84.4,11.5 92.4,5.2 95.3,3.6 98.8,2.8Z"/>
<path fill="#b3ff4c" d="M106.8,2.3 109.6,-0.1 519.8,-0.1 519.8,252.8 0,252.8 0,137 5.8,130.9 40.4,89.1 54.9,70.8 69.3,51 78,37.2 82.1,29 84.3,23.2 85.7,14.4 86.6,12.8 89.5,10.1 95.9,5.7 106.2,2.8Z"/>
<path fill="#d5ff2a" d="M115.5,0.2 519.8,-0.1 519.8,252.8 0,252.8 0,156.1 2.9,152.9 34.7,108.7 66.4,62 75.1,47.5 84.4,29 86.8,23.2 88.3,14.4 89.5,13 98.2,6.8 106.8,5.6 112.9,2.8Z"/>
<path fill="#f7ff08" d="M121.3,1.6 122.4,-0.1 519.8,-0.1 519.8,252.8 0,252.8 0,181.5 2.9,177.7 37.5,120.4 66.4,70.8 78,48.6 89.7,23.2 90.8,20.2 91.4,14.4 96.2,11.5 98.2,8.9 101.1,8.4 109.7,8.4 112.6,7.7 116.8,5.7 120.4,2.8Z"/>
<path fill="#ffe500" d="M130,1.8 132.8,0.7 141.5,0.4 150.2,1.8 155.9,1.9 162.9,-0.1 519.8,-0.1 519.8,252.8 0,252.8 0,218.3 2.9,213.5 63.5,89.1 76.4,60.9 89.3,29 96.8,17.3 101.1,13.5 109.7,12.5 115.5,11.1 124.2,7.4 126.6,5.7 129.1,2.8Z"/>
<path fill="#ffc300" d="M179,2 180.9,-0.1 519.8,-0.1 519.8,252.8 10.1,252.8 30.7,194.6 72.2,85.5 80.9,61.2 89.1,34.8 92.4,27.9 95.3,24.3 101.1,19.2 106.8,16.2 115.5,14.5 132.8,9.8 144.4,9.9 170.4,6.7 174.3,5.7 178.4,2.8Z"/>
<path fill="#ffa200" d="M193.5,0.3 193.9,-0.1 519.8,-0.1 519.8,252.8 35.2,252.8 50.9,188.8 80.9,79.2 90.8,37.7 94.3,29 98.2,24.8 106.8,19 132.8,13.9 150.2,13.1 173.3,10.7 180.9,8.6 190.9,2.8Z"/>
<path fill="#ff8000" d="M207.9,0.1 519.8,-0.1 519.8,252.8 60.5,252.8 65.6,212.1 72.3,168.5 89.5,66 93.6,37.7 95.3,31.9 96.9,29 104,23.2 109.7,20.6 130,17.4 161.7,15.7 181.9,13.3 188.5,11.5 195.5,8.6 201.7,5.7 205.8,2.8Z"/>
<path fill="#ff5e00" d="M219.5,-0.1 519.8,-0.1 519.8,252.8 86.4,252.8 86.8,212.1 88.5,168.5 96.2,40.6 97.9,31.9 99.9,29 104,25.8 106.8,24.1 112.6,22.4 130,20.3 164.6,19.3 181.9,18 190.6,16.6 205,11.8 210.8,9 214.7,5.7 218.7,-0.1Z"/>
<path fill="#ff3c00" d="M228.1,-0.1 519.8,-0.1 519.8,252.8 113.6,252.8 108.4,206.3 105,159.8 99.5,40.6 99.8,34.8 100.8,31.9 103.4,29 106.8,26.8 112.6,24.8 118.4,23.8 130,23 158.8,23.4 181.9,22.8 190.6,22 199.3,20.3 207.9,17.4 216.6,12.8 222.4,7.8 227.6,-0.1Z"/>
<path fill="#ff1a00" d="M236.8,-0.1 519.8,-0.1 519.8,252.8 142.7,252.8 132.1,209.2 122.7,162.7 108.7,81.3 103.1,40.6 102.9,34.8 104.2,31.9 108.2,29 112.6,27.4 121.3,25.9 181.9,28.1 193.5,27.8 202.1,26.3 213.7,22.4 219.5,19.3 225.2,15.2 231.6,8.6 236.5,-0.1Z"/>
<path fill="#ff0400" d="M245.5,0.8 245.8,-0.1 519.8,-0.1 519.8,252.8 175,252.8 156.8,206.3 141.5,161.3 116.4,78.4 110.8,52.2 106.8,37.8 106.8,34.8 109.7,31.6 115.5,29.7 121.3,28.7 181.9,34.2 196.4,35.2 202.1,34.8 219.5,28.9 228.1,23.6 238.7,14.4 242.4,8.6 244.8,2.8Z"/>
<path fill="#fb0000" d="M248.4,0.5 248.6,-0.1 519.8,-0.1 519.8,252.8 183.9,252.8 161.7,201.2 144.4,154.7 118.4,77.6 112.5,52.2 108.8,40.6 108.3,34.8 111.6,31.9 121.3,29.7 193.5,37.1 199.3,37.4 205,36.6 222.4,30.2 229,26.1 242.2,14.4 244,11.5 247.6,2.8Z"/>
<path fill="#f20000" d="M251.2,2.3 252.5,-0.1 519.8,-0.1 519.8,252.8 193.1,252.8 170.4,205 150.2,156.4 120,75.5 114.3,52.2 110.2,40.6 109.6,37.7 110,34.8 114.8,31.9 121.3,30.7 124.2,30.8 193.5,39.2 199.3,39.5 205,38.9 222.4,33 231,27.8 242.6,18 245.5,14.6 251,2.8Z"/>
<path fill="#ea0000" d="M257,-0.1 519.8,-0.1 519.8,252.8 202.7,252.8 179,207.4 155.9,157.2 138.3,113.3 122.3,75.5 119.5,66.7 116.2,52.2 112.6,43.3 111.4,37.7 112.3,34.8 115.5,33.2 120.6,31.9 124,31.9 150.2,36 193.5,41.3 202.1,41.6 208,40.6 225.2,34.6 231,31.2 236.8,26.8 247,17.3 249.1,14.4 257,-0.1Z"/>
<path fill="#e10000" d="M259.9,2.3 261.6,-0.1 519.8,-0.1 519.8,252.8 212.9,252.8 187.7,208.7 161.7,157.3 142.4,113.3 124.2,74.1 121.3,65.6 118.3,52.2 113.6,40.6 113.4,37.7 115.5,34.8 121.3,33.4 124.2,33.5 153.1,38.4 190.6,43.3 202.1,43.8 210.8,42.5 225.2,37.8 231,34.7 239.1,29 245.7,23.2 251,17.3 259.6,2.8Z"/>
<path fill="#d90000" d="M265.7,0.9 266.4,-0.1 519.8,-0.1 519.8,252.8 223.6,252.8 196.4,208.9 167.5,156.7 145.4,110.3 127.1,74.9 123,63.8 119.9,49.3 115.6,40.6 116.1,37.7 118.4,36 124.2,35.3 147.3,39.8 193.5,46 205,46.1 219.5,43.2 225.2,41.4 231,38.7 245.5,28.2 250.7,23.2 255.5,17.3 264.4,2.8Z"/>
<path fill="#d00000" d="M271.5,-0.1 316.9,-0.1 369.6,9.1 384.1,10.4 395.6,9.8 410.1,7.5 430.3,2.9 439,-0.1 519.8,-0.1 519.8,252.8 235.1,252.8 219.5,230.4 205,208.2 181.9,170.5 170.4,150.2 148.5,107.4 128.7,72.6 125.3,63.8 123,49.3 118.8,40.6 121.3,38.3 124.2,38.1 132.8,40 170.4,45.9 199.3,49.1 207.9,48.6 225.2,45.4 233.9,41.8 251.2,28.4 256.2,23.2 263,14.4 269.9,2.8Z"/>
<path fill="#c80000" d="M473.6,2.2 477.7,-0.1 519.8,-0.1 519.8,252.8 247.6,252.8 231,231.2 219.5,215 181.9,158.4 173.3,143.8 153.5,107.4 132.8,74.9 128.8,66.7 127.2,60.9 127.4,49.3 128.1,46.4 130,45 132.8,44.5 147.3,45.3 176.2,49.6 199.3,52.1 207.9,51.9 222.4,50 233.9,47.3 240.5,43.5 255.4,31.9 268.3,17.3 277.1,5.7 280.1,4.5 288.8,4.1 303.2,5.4 320.5,8.2 332.1,10.9 342.9,14.4 352.3,18.4 372.5,30.4 378.3,31.3 392.7,29.6 413,24.7 447.6,12.9 472.5,2.8Z"/>
<path fill="#bf0000" d="M505.4,2.1 508,-0.1 519.8,-0.1 519.8,252.8 261.2,252.8 245.5,234.3 233.9,219.6 187.7,155.6 176.2,137.3 157.2,104.5 135.7,74 131.7,66.7 130,60.9 131,55.1 132.8,51.3 135.5,49.3 138.6,48.5 150.2,48.8 187.7,54.4 202.1,55.8 225.2,54.4 236.8,52.2 245.5,48.7 257,41 264.3,34.8 277.2,21.5 283,16.7 288.8,14.3 294.6,13.8 306.1,15.2 314.6,17.3 322.6,20.2 334,26.1 358.1,41.7 372.5,47.8 384.1,51 395.6,53.3 404.3,54.1 413,53.6 427.4,49.9 444.7,42.1 473.6,24.4 504.4,2.8Z"/>
<path fill="#b70000" d="M519.8,36.7 519.8,252.8 276.5,252.8 259.9,235.4 248.4,222.1 190.6,148.1 181.9,135 163.5,104.5 141.5,76.6 135.7,67.7 133.8,63.8 133.4,60.9 135.7,56.1 138.6,53.8 141.5,52.8 147.3,52.3 155.9,53.1 190.6,58.9 202.1,60.2 219.5,60.6 236.8,59.5 254.1,56.6 270.9,52.2 277.2,49.1 289.4,40.6 294.6,38.7 297.4,38.4 300.3,38.7 306.1,40.8 320.8,52.2 329.2,56.7 384.1,79.2 395.6,83.2 410.1,85.5 450.5,86.8 479.4,90.6 488,91 493.8,89.6 497.9,87.1 500.4,84.2 502.9,78.4 505.9,63.8 508.5,55.1 514,44 518.8,37.7ZM286.5,63.8 284.1,66.7 283.9,69.7 286.4,72.6 288.8,73.1 292.3,72.6 296.3,69.7 297.3,66.7 295.7,63.8 294.6,63.1 291.7,62.4 288.8,62.7Z"/>
<path fill="#ae0000" d="M144.4,57.8 150.2,57.2 158.8,57.9 202.1,66.2 248.4,70.2 257,72.6 276.2,81.3 285.9,84.1 297.4,85.5 326.3,86.1 340.8,87.8 355.2,90.9 401.4,102.7 462,113.9 479.4,115.8 496.7,116.4 508.3,115.4 519.8,112.5 519.8,252.8 294.3,252.8 277.2,237.4 262.8,222.5 227.4,180.1 199.3,147.8 189.1,133.6 169.2,101.6 150.2,80.4 143.9,72.6 139,63.8 139.3,60.9 143.6,58Z"/>
<path fill="#a60000" d="M153.1,66.7 158.8,65.5 167.5,66.4 180.6,69.7 205,77.9 228.1,80.5 239.7,82.6 285.9,97.6 372.5,116 430.3,132.5 456.3,139 470.7,141.7 488,143.6 505.4,144.1 519.8,143.4 519.8,252.8 316.8,252.8 297.4,239.1 280.3,223.7 269.4,212.1 236.7,174.3 210.3,148.1 196.7,130.7 178.3,98.7 173.6,92.9 155.8,75.5 152.6,69.7 153,66.7Z"/>
<path fill="#9d0000" d="M213.7,101.4 219.5,100.1 228.1,99.8 236.8,100.9 248.4,104 257.7,107.4 270.4,113.3 280.9,119.1 294.6,128.6 300.3,131.4 306.1,132.6 340.8,136.1 355.2,138.8 369.6,142.5 386.3,148.1 400.4,153.9 413,160.1 426.6,168.5 438.4,177.2 444.4,183 447.8,188.8 449.6,197.5 449.1,206.3 446.6,215 443.3,220.8 435,229.5 434.5,232.4 436.3,238.2 436.2,244 435,247 430.4,252.8 369.9,252.8 346.5,248 335,244.9 325.6,241.1 315.7,235.3 303.2,225.7 291.5,215 283.4,206.3 254.1,170.7 243.5,159.8 224.9,145.2 219.5,139.6 211.9,127.8 206.7,110.3 206.9,107.4 208.4,104.5 213,101.6Z"/>
<path fill="#950000" d="M323.4,179.9 329.2,178.9 335,178.9 346.5,180.9 352.1,183 357.5,185.9 364.3,191.7 367.8,197.5 368.8,203.4 368.3,206.3 367,209.2 363.9,212.8 360.7,215 355.2,217 346.5,217.9 337.9,216.5 327.8,212.1 321,206.3 315.3,197.5 313.7,191.7 313.8,188.8 314.7,185.9 317,183 322.6,180.1Z"/>
<use href="#sb"/>
<g stroke="#e2e2e2" stroke-width="1.5"><circle cx="247.7" cy="7.5" r="4.5" fill="#ff6800"/><circle cx="247.7" cy="16.9" r="4.5" fill="#ff6800"/><circle cx="247.7" cy="32.6" r="4.5" fill="#e40000"/><circle cx="247.7" cy="48.4" r="4.5" fill="#d40000"/><circle cx="247.7" cy="64.1" r="4.5" fill="#c70000"/><circle cx="247.7" cy="79.8" r="4.5" fill="#be0000"/><circle cx="247.7" cy="95.5" r="4.5" fill="#b60000"/><circle cx="247.7" cy="111.3" r="4.5" fill="#b00000"/><circle cx="247.7" cy="127" r="4.5" fill="#ae0000"/><circle cx="247.7" cy="142.7" r="4.5" fill="#af0000"/><circle cx="333.5" cy="7.5" r="4.5" fill="#ff3800"/><circle cx="333.5" cy="16.9" r="4.5" fill="#ff2400"/><circle cx="333.5" cy="32.6" r="4.5" fill="#ff1d00"/><circle cx="333.5" cy="48.4" r="4.5" fill="#ff0800"/><circle cx="333.5" cy="64.1" r="4.5" fill="#cb0000"/><circle cx="333.5" cy="79.8" r="4.5" fill="#c60000"/><circle cx="333.5" cy="95.5" r="4.5" fill="#c00000"/><circle cx="333.5" cy="111.3" r="4.5" fill="#ba0000"/><circle cx="333.5" cy="127" r="4.5" fill="#b50000"/><circle cx="333.5" cy="142.7" r="4.5" fill="#b10000"/><circle cx="333.5" cy="158.4" r="4.5" fill="#ad0000"/><circle cx="333.5" cy="174.2" r="4.5" fill="#ab0000"/><circle cx="333.5" cy="189.9" r="4.5" fill="#a90000"/><circle cx="333.5" cy="205.6" r="4.5" fill="#a90000"/><circle cx="333.5" cy="221.3" r="4.5" fill="#ab0000"/><circle cx="406.6" cy="7.5" r="4.5" fill="#e60000"/><circle cx="406.6" cy="16.9" r="4.5" fill="#e10000"/><circle cx="406.6" cy="32.6" r="4.5" fill="#db0000"/><circle cx="406.6" cy="48.4" r="4.5" fill="#d60000"/><circle cx="406.6" cy="64.1" r="4.5" fill="#d30000"/><circle cx="406.6" cy="79.8" r="4.5" fill="#cf0000"/><circle cx="406.6" cy="95.5" r="4.5" fill="#c70000"/><circle cx="406.6" cy="111.3" r="4.5" fill="#c00000"/><circle cx="406.6" cy="127" r="4.5" fill="#bb0000"/><circle cx="406.6" cy="142.7" r="4.5" fill="#b60000"/><circle cx="406.6" cy="158.4" r="4.5" fill="#b20000"/><circle cx="406.6" cy="174.2" r="4.5" fill="#b00000"/><circle cx="406.6" cy="189.9" r="4.5" fill="#ae0000"/><circle cx="406.6" cy="205.6" r="4.5" fill="#ae0000"/><circle cx="406.6" cy="221.3" r="4.5" fill="#ae0000"/><circle cx="406.6" cy="237.1" r="4.5" fill="#af0000"/></g>
</g>
<path d="M0,0.8H518.7" stroke="#1a1a1a" stroke-width="1.6"/>
<path d="M1,0V253.4" stroke="#222" stroke-width="2"/>
<path d="M518.1,0V253.4" stroke="#222" stroke-width="1.2"/>
<path d="M0,251.95H518.7" stroke="#000" stroke-width="2.9"/>
</g>
<text transform="translate(1888.5,243.7) scale(1,1.06)" font-size="36.6" fill="#fff">Sept 11-15, 2016</text>
<!-- panel I -->
<g transform="translate(1328.2,300.0) scale(0.99749,0.99369)">
<g clip-path="url(#cp)">
<rect width="518.7" height="253.4" fill="#000090"/>
<path fill="#0000b2" d="M66.2,1 519.1,1 519.1,254.6 -0.2,254.6 -0.2,27 48.8,22.9 60.4,21.4 65.4,18.5 66.5,15.6 67,9.8 65.8,1Z"/>
<path fill="#0000d4" d="M71.9,1 519.1,1 519.1,254.6 -0.2,254.6 -0.2,34.1 48.8,27.3 66.2,23.6 69.7,21.4 70.5,18.5 71.7,1Z"/>
<path fill="#0000f6" d="M74.8,1 519.1,1 519.1,254.6 -0.2,254.6 -0.2,40.3 48.8,30.9 63.3,27.3 69,25.2 71.9,23 72.9,21.4 74.1,1Z"/>
<path fill="#001aff" d="M77.7,1 519.1,1 519.1,254.6 -0.2,254.6 -0.2,46.2 20,41.7 51.7,33.4 66.2,28.6 71.9,25.7 73.5,24.3 75.1,21.4 75.9,1Z"/>
<path fill="#003cff" d="M77.7,1 519.1,1 519.1,254.6 -0.2,254.6 -0.2,51.9 22.9,45.6 48.8,37.3 63.3,32.1 71.9,27.8 75.7,24.3 77,21.4 77.7,12.7 77.5,1Z"/>
<path fill="#005eff" d="M80.6,1 519.1,1 519.1,254.6 -0.2,254.6 -0.2,57.6 20,51.1 46,41.6 63.3,34.4 71.9,29.8 75.3,27.2 77.6,24.3 78.8,21.4 79.3,12.7 79,1Z"/>
<path fill="#0080ff" d="M80.6,1 519.1,1 519.1,254.6 -0.2,254.6 -0.2,63.5 22.9,54.8 48.8,43.8 66.2,35.4 74.8,29.8 77.7,27 80.5,21.4 81,12.7 80.4,1Z"/>
<path fill="#00a2ff" d="M83.5,1 519.1,1 519.1,254.6 -0.2,254.6 -0.2,69.5 20,60.9 46,48.6 63.3,39.5 74.8,32 79.6,27.2 82.1,21.4 82.5,12.7 81.8,1Z"/>
<path fill="#00c3ff" d="M83.5,1 519.1,1 519.1,254.6 -0.2,254.6 -0.2,76 25.8,63.2 51.7,49.2 66.2,40.5 77.7,31.8 81.6,27.2 83.8,21.4 84,12.7 83.2,1Z"/>
<path fill="#00e5ff" d="M86.3,1 519.1,1 519.1,254.6 -0.2,254.6 -0.2,82.9 20,71.9 48.8,54.7 66.2,43.4 77.7,34.3 83.5,27.2 85.4,21.4 85.6,12.7 84.6,1Z"/>
<path fill="#09fff6" d="M86.3,1 519.1,1 519.1,254.6 -0.2,254.6 -0.2,90.4 20,78.1 51.7,57 69,44.3 80.6,34 85.5,27.2 87.1,21.4 87,9.8 86.1,1Z"/>
<path fill="#2bffd4" d="M89.2,1 519.1,1 519.1,254.6 -0.2,254.6 -0.2,98.7 17.1,87 48.8,63.7 66.2,50 80.6,36.8 85.8,30.2 88.4,24.3 88.8,18.5 87.6,1Z"/>
<path fill="#4dffb2" d="M89.2,1 519.1,1 519.1,254.6 -0.2,254.6 -0.2,108.2 22.9,90.4 54.6,64.1 71.9,48.6 83.5,36.4 87.8,30.2 90.2,24.3 90.1,9.8 89.2,1Z"/>
<path fill="#6eff90" d="M92.1,1 519.1,1 519.1,254.6 -0.2,254.6 -0.2,119.1 17.1,104.2 51.7,72.4 71.9,52.5 83.5,39.6 89.2,31.3 92.1,24.3 92.3,21.4 90.9,1Z"/>
<path fill="#91ff6e" d="M95,1 519.1,1 519.1,254.6 -0.2,254.6 -0.2,131.9 20,112.1 57.5,73.1 74.8,53.8 86.3,39.2 91.9,30.2 94.1,24.3 92.6,1Z"/>
<path fill="#b3ff4c" d="M95,1 519.1,1 519.1,254.6 -0.2,254.6 -0.2,147.6 2.7,145 20,124.8 63.3,73.5 77.7,55.2 89.2,38.7 94,30.2 96.2,24.3 94.3,1Z"/>
<path fill="#d5ff2a" d="M97.9,1 519.1,1 519.1,254.6 -0.2,254.6 -0.2,167.5 5.6,160.5 66.2,77.6 80.6,56.7 92.1,38 98.6,24.3 98.7,21.4 97.1,15.6 97.5,9.8 96.2,1Z"/>
<path fill="#f7ff08" d="M100.8,1 519.1,1 519.1,254.6 -0.2,254.6 -0.2,194.2 2.7,190.4 74.8,73.2 95,37 101.2,24.3 101.4,21.4 99.4,15.6 100.3,9.8 100.1,6.8 98.4,1Z"/>
<path fill="#ffe500" d="M103.7,1 519.1,1 519.1,254.6 -0.2,254.6 -0.2,233.1 2.7,228.2 38.2,155.5 83.5,66.8 100.6,30.2 104.2,24.3 104.6,21.4 103.6,15.6 104.1,6.8 103.2,1Z"/>
<path fill="#ffc300" d="M175.8,3.2 180.6,1 519.1,1 519.1,254.6 15.7,254.6 28.9,216.7 47.6,167.1 89.2,64.1 97.6,41.8 103.1,30.2 106.9,24.3 107.8,18.5 110.9,9.8 112.3,7.9 114.3,6.8 118.1,6.1 129.6,7.5 141.2,5.4 170,4.6 174.3,3.9Z"/>
<path fill="#ffa200" d="M201.8,3.9 207.9,1 519.1,1 519.1,254.6 40.4,254.6 57,187.5 77,117.6 100.2,41.8 105.6,30.2 109,24.3 110.9,18.5 112.3,16 115.2,13 118.1,11.4 121,10.8 129.6,10.8 149.8,9.2 175.8,10.2 193.2,6.8 201.7,3.9Z"/>
<path fill="#ff8000" d="M253.7,2.3 254.6,1 519.1,1 519.1,254.6 65.4,254.6 69.7,219.6 75.3,181.7 89.1,105.9 102.8,41.8 112.3,20.7 115.2,17.1 118.1,15.1 123.9,13.5 146.9,12.4 172.9,13.7 201.8,12.4 221,9.8 230.6,6.6 245,6.7 247.9,6.1 252.3,3.9Z"/>
<path fill="#ff5e00" d="M282.5,2.9 283.7,1 519.1,1 519.1,254.6 91,254.6 91.3,216.7 92.5,178.8 94.9,140.9 98.4,100.1 105.3,41.8 112.3,24.7 114.4,21.4 118.1,18.2 121,16.7 126.7,15.6 146.9,14.9 172.9,16.3 201.8,16.4 256.6,13.7 262,12.7 276.8,7.6 281.8,3.9Z"/>
<path fill="#ff3c00" d="M288.3,2.8 289.2,1 519.1,1 519.1,254.6 117.8,254.6 113,213.8 110,178.8 108.1,143.8 106.8,100.1 108,62.2 108,41.8 109.7,36 114.6,24.3 118.1,21 121,19.3 123.9,18.2 129.6,17.4 146.9,17.2 201.8,19.4 242.1,18.3 256.6,17.1 264.5,15.6 276.8,11.5 282.5,8.6 287.7,3.9Z"/>
<path fill="#ff1a00" d="M294.1,2.4 294.7,1 519.1,1 519.1,254.6 146.6,254.6 135.4,209.8 128.1,175.9 122.3,143.8 115.8,100.1 113.9,82.6 113.2,62.2 110.7,41.8 112,36 115.4,27.2 117.5,24.3 121,21.9 123.9,20.6 129.6,19.4 144,19.4 201.8,22.1 239.3,21.6 253.7,20.6 268.1,18 279.6,14 287.7,9.8 291.1,6.8 293.4,3.9Z"/>
<path fill="#ff0400" d="M302.7,1 519.1,1 519.1,254.6 178.8,254.6 161.4,211.6 146.9,172.1 138.3,144.8 123.9,93.6 120.9,79.7 118.7,59.3 114.9,47.6 113.9,41.8 114,38.9 114.8,36 118.5,27.2 122.1,24.3 129.6,21.6 204.6,25.5 242.1,25.3 265.2,22.7 276.8,19.5 291.2,12.9 295.8,9.8 298.6,6.8 301,1Z"/>
<path fill="#fb0000" d="M302.7,2.6 303.4,1 519.1,1 519.1,254.6 187.6,254.6 167.1,208.9 152.7,173.3 144,149.3 126.7,95.1 122.8,79.7 120.3,59.3 115.2,44.7 114.8,38.9 118.3,30.2 119.7,27.2 121,26.1 123.9,24.3 129.6,22.5 170,24.3 198.9,26.4 239.3,26.6 250.8,26 268.1,23.5 279.6,19.8 291.2,14.7 297,11 300.9,6.8 302.4,3.9Z"/>
<path fill="#f20000" d="M305.6,3.8 307.7,1 519.1,1 519.1,254.6 196.7,254.6 167.1,193.4 155.6,166.9 146.9,144.7 126.2,85.5 124.2,76.8 122,59.3 116.2,44.7 115.8,38.9 116.9,36 120.9,27.2 126,24.3 129.6,23.3 144,23.7 207.5,27.8 245,27.8 268.1,25 276.8,22.7 294.1,15.1 301.6,9.8 305.6,3.9Z"/>
<path fill="#ea0000" d="M311.4,3.2 313.8,1 519.1,1 519.1,254.6 206.4,254.6 187.3,219.5 172.9,191.4 161.4,167.4 152.7,147.5 127.5,82.6 126.2,76.8 123.9,59.3 121.7,53.5 117.3,44.7 117.1,38.9 118,36 121,29.6 122.9,27.2 129.6,24.2 141.2,24.5 196,29 207.5,29.4 247.9,29.6 268.1,26.9 279.6,23.8 297,16.3 302.7,12.4 310.6,3.9Z"/>
<path fill="#e10000" d="M317.2,3.9 320.4,1 519.1,1 519.1,254.6 216.6,254.6 181.6,194.3 167.1,167.2 158.5,149.3 129.7,82.6 127.7,73.9 126,59.3 123.7,53.5 118.5,44.7 118.4,38.9 122.5,30.2 123.9,28.5 126.7,26.6 132.5,25.4 207.5,31.6 247.9,32.1 271,29.2 282.5,26 299.8,18.4 305.6,14.6 317.1,3.9Z"/>
<path fill="#d90000" d="M325.8,2.4 327,1 519.1,1 519.1,254.6 227.5,254.6 207.5,224 190.2,196 175.8,171.6 164.2,150.2 132.5,83.8 129.7,73.9 128.2,59.3 126,53.5 120,44.7 119.8,41.8 120.3,38.9 124.9,30.2 129.5,27.2 132.5,26.9 141.6,27.2 196,34 207.5,34.8 245,36 268.1,33.9 276.8,32.3 285.4,29.7 302.7,22.4 311.4,16.5 324.3,3.9Z"/>
<path fill="#d00000" d="M331.6,3.8 333.6,1 519.1,1 519.1,254.6 239.1,254.6 201.8,200.8 181.6,169.9 170,150.4 148.8,108.8 134.5,82.6 131.8,73.9 131.3,62.2 130,56.4 128.7,53.5 122.1,44.7 121.9,41.8 126.4,33.1 129.1,30.2 135.4,29.1 144.9,30.2 193.1,40.3 204.6,41.7 245,43.8 279.6,40.3 291.2,36.8 302.7,31.7 311.4,27 320,19 325.8,12.2 331.5,3.9Z"/>
<path fill="#c80000" d="M343.1,2.2 345.7,1 519.1,1 519.1,254.6 251.8,254.6 227.7,223.6 196,179.9 175.8,149.9 153.1,108.8 137.1,82.6 135.4,79 134,73.9 134.1,62.2 133.3,56.4 130.7,50.6 126.1,44.7 126.8,41.8 133.4,38.9 135.4,36.2 138.4,38.9 144,41.9 152.7,42.6 201.8,50 245,52 267.1,50.6 285.4,48.6 291.2,47.2 297.8,44.7 311.4,38 319.4,33.1 322.6,30.2 327.2,24.3 333.2,15.6 337.6,6.8 340.4,3.9Z"/>
<path fill="#bf0000" d="M357.5,3.7 366.2,2 376.6,1 519.1,1 519.1,254.6 265.7,254.6 247.9,233.9 230.6,212.6 193.1,164.9 178.7,144.3 158,108.8 141.2,84.5 137,76.8 136.2,71 137.3,62.2 137.6,50.6 138.3,49.3 142.7,47.6 152.7,47.8 204.6,55 239.3,57.7 268.1,57 291.2,54.3 299.8,52.1 308.5,49 317.3,44.7 325.8,39.2 329.4,36 334.2,30.2 345.2,9.8 348.9,6.8 356.8,3.9Z"/>
<path fill="#b70000" d="M444.1,3.3 451.3,1 519.1,1 519.1,254.6 281.5,254.6 253.7,225.1 193.1,154.5 181.6,138.4 161.4,105.9 144,83.6 139.7,76.8 138.8,73.9 138.9,71 141.2,62.9 144,56.4 146.9,54.1 152.7,52.9 167.1,53.7 210.4,60.6 242.1,63.5 259.5,63.8 276.8,63.1 291.2,61.7 305.6,59 317.2,55.5 325.8,51.7 332.8,47.6 339.9,41.8 344.5,36 347.5,30.2 351.6,15.6 353.3,12.7 357.5,9.7 366.2,8.4 395,9 412.4,8.4 429.7,6.3 441.8,3.9Z"/>
<path fill="#ae0000" d="M481.6,3.5 486.1,1 519.1,1 519.1,254.6 300.2,254.6 285.4,241.6 273.9,230.5 231.2,184.6 200.1,152.6 187.3,136.3 165.6,103 146.9,82.1 143,76.8 141.8,73.9 142.3,71 144,67.1 147.6,62.2 149.8,60.3 152.7,58.9 158.5,57.9 174.9,59.3 219.1,67.4 247.9,70.3 268.1,70.8 291.2,70 308.5,68.5 322.9,66.1 334.5,63.1 343.1,59.9 350.6,56.4 359.9,50.6 369.4,41.8 373.1,36 375.7,30.2 379.2,27.2 383.5,26.5 403.7,26.6 421,23.4 452.7,14.7 480.9,3.9Z"/>
<path fill="#a60000" d="M510.4,3.5 513.3,1 519.1,1 519.1,254.6 325.4,254.6 308.5,243.7 294.1,232.2 282.5,221.3 240.3,178.8 207.5,150 192.6,132.2 173.7,103 165.6,94.3 152.7,82.3 148.1,76.8 146.7,73.9 147.7,71 149.8,68.4 154.7,65.1 161.4,63.7 167.1,63.7 177.4,65.1 219.1,74.5 236.4,77.1 259.5,79.1 291.2,80 328.7,83.3 341.1,85.5 349.5,88.4 354.6,91.4 357.5,93.9 366.2,103.3 372,106 378.8,105.9 386.1,103 390,100.1 404.1,85.5 435.4,63.1 458.5,41.8 481.6,25.7 497.9,12.7 510,3.9Z"/>
<path fill="#9d0000" d="M161.4,73.3 167.1,72.1 175.8,73 216.2,84.9 271,92.3 282.2,94.3 291.2,96.6 300.6,100.1 311.5,105.9 331.6,122 337.3,125.8 346,130.2 357.5,134.5 374.9,139.3 392.2,142.9 406.6,145 418.1,144.7 426.8,142.2 438.3,136.3 460.2,123.4 472.9,117 485.3,111.8 519.1,99.5 519.1,254.6 402.3,254.6 399.4,251.7 395,249.7 374.9,243.6 343.1,241.5 336.1,240 328.6,237.1 319.4,231.3 304.6,219.6 275.3,190.5 256,173 240.2,161.3 216.2,146 201.5,129.2 195.5,117.6 193.8,111.8 193,105.9 191.8,103 164.4,82.6 161.4,79.7 159.7,76.8 160.4,73.9Z"/>
<path fill="#950000" d="M233.5,114.1 239.3,113.1 245,113.7 248.2,114.7 252.5,117.6 254.3,120.5 254.4,123.4 253.1,126.3 250.4,129.2 247.9,130.7 242.9,132.2 239.3,132.1 233.5,130 230.6,127.9 227.4,123.4 227.2,120.5 228.5,117.6 232.2,114.7ZM519.1,147.9 519.1,254.6 472,254.6 464.6,240 462.8,234.2 462.1,228.3 462.5,222.5 464.1,216.7 467,210.9 470.8,205 501.8,165.3 516.6,149.7Z"/>
<use href="#sb"/>
<g stroke="#e2e2e2" stroke-width="1.5"><circle cx="5" cy="7.5" r="4.5" fill="#000080"/><circle cx="5" cy="16.9" r="4.5" fill="#000080"/><circle cx="27.7" cy="7.5" r="4.5" fill="#000080"/><circle cx="54.5" cy="7.5" r="4.5" fill="#000080"/><circle cx="54.5" cy="16.9" r="4.5" fill="#000080"/><circle cx="85.5" cy="7.5" r="4.5" fill="#0000b6"/><circle cx="85.5" cy="16.9" r="4.5" fill="#00e2ff"/><circle cx="117.8" cy="7.5" r="4.5" fill="#003fff"/><circle cx="117.8" cy="16.9" r="4.5" fill="#00d4ff"/><circle cx="140.8" cy="7.5" r="4.5" fill="#fffd00"/><circle cx="140.8" cy="16.9" r="4.5" fill="#f3ff0c"/><circle cx="140.8" cy="32.6" r="4.5" fill="#ff9100"/><circle cx="140.8" cy="48.4" r="4.5" fill="#f30000"/><circle cx="158.9" cy="7.5" r="4.5" fill="#d8ff27"/><circle cx="158.9" cy="16.9" r="4.5" fill="#ffc000"/><circle cx="158.9" cy="32.6" r="4.5" fill="#f30000"/><circle cx="158.9" cy="48.4" r="4.5" fill="#f30000"/><circle cx="158.9" cy="64.1" r="4.5" fill="#f30000"/><circle cx="184.2" cy="7.5" r="4.5" fill="#dfff20"/><circle cx="184.2" cy="16.9" r="4.5" fill="#fa0000"/><circle cx="184.2" cy="32.6" r="4.5" fill="#ec0000"/><circle cx="184.2" cy="48.4" r="4.5" fill="#ec0000"/><circle cx="184.2" cy="64.1" r="4.5" fill="#ec0000"/><circle cx="184.2" cy="79.8" r="4.5" fill="#ec0000"/><circle cx="184.2" cy="95.5" r="4.5" fill="#ec0000"/><circle cx="206.4" cy="7.5" r="4.5" fill="#ffac00"/><circle cx="206.4" cy="16.9" r="4.5" fill="#ff9e00"/><circle cx="206.4" cy="32.6" r="4.5" fill="#ec0000"/><circle cx="206.4" cy="48.4" r="4.5" fill="#ec0000"/><circle cx="206.4" cy="64.1" r="4.5" fill="#ec0000"/><circle cx="206.4" cy="79.8" r="4.5" fill="#ec0000"/><circle cx="206.4" cy="95.5" r="4.5" fill="#ec0000"/><circle cx="206.4" cy="111.3" r="4.5" fill="#e50000"/><circle cx="236.9" cy="7.5" r="4.5" fill="#f3ff0c"/><circle cx="236.9" cy="16.9" r="4.5" fill="#ffac00"/><circle cx="236.9" cy="32.6" r="4.5" fill="#ec0000"/><circle cx="236.9" cy="48.4" r="4.5" fill="#ec0000"/><circle cx="236.9" cy="64.1" r="4.5" fill="#ec0000"/><circle cx="236.9" cy="79.8" r="4.5" fill="#ec0000"/><circle cx="236.9" cy="95.5" r="4.5" fill="#e50000"/><circle cx="236.9" cy="111.3" r="4.5" fill="#df0000"/><circle cx="236.9" cy="127" r="4.5" fill="#d80000"/><circle cx="265.9" cy="7.5" r="4.5" fill="#ff9700"/><circle cx="265.9" cy="16.9" r="4.5" fill="#ff9100"/><circle cx="265.9" cy="32.6" r="4.5" fill="#e50000"/><circle cx="265.9" cy="48.4" r="4.5" fill="#e50000"/><circle cx="265.9" cy="64.1" r="4.5" fill="#e50000"/><circle cx="265.9" cy="79.8" r="4.5" fill="#e50000"/><circle cx="265.9" cy="95.5" r="4.5" fill="#df0000"/><circle cx="265.9" cy="111.3" r="4.5" fill="#d80000"/><circle cx="265.9" cy="127" r="4.5" fill="#d10000"/><circle cx="265.9" cy="142.7" r="4.5" fill="#ca0000"/></g>
</g>
<path d="M0,0.8H518.7" stroke="#1a1a1a" stroke-width="1.6"/>
<path d="M1,0V253.4" stroke="#222" stroke-width="2"/>
<path d="M518.1,0V253.4" stroke="#222" stroke-width="1.2"/>
<path d="M0,251.95H518.7" stroke="#000" stroke-width="2.9"/>
</g>
<text transform="translate(1355.0,529.8) scale(1,1.06)" font-size="36.6" fill="#fff">Jun 6-17, 2017</text>
<!-- panel J -->
<g transform="translate(1866.0,300.0) scale(0.99653,0.99369)">
<g clip-path="url(#cp)">
<rect width="518.7" height="253.4" fill="#000090"/>
<path fill="#0000b2" d="M52,1 519.8,1 519.8,254.6 49.8,254.6 49.8,1Z"/>
<path fill="#0000d4" d="M54.9,1 519.8,1 519.8,254.6 54.1,254.6 54.1,1Z"/>
<path fill="#0000f6" d="M57.8,1 519.8,1 519.8,254.6 55.7,254.6 55.7,1Z"/>
<path fill="#001aff" d="M57.8,1 519.8,1 519.8,254.6 56.9,254.6 56.9,1Z"/>
<path fill="#003cff" d="M60.6,1 519.8,1 519.8,254.6 57.9,254.6 57.9,1Z"/>
<path fill="#005eff" d="M60.6,1 519.8,1 519.8,254.6 58.6,254.6 58.6,1Z"/>
<path fill="#0080ff" d="M60.6,1 519.8,1 519.8,254.6 59.3,254.6 59.3,1Z"/>
<path fill="#00a2ff" d="M60.6,1 519.8,1 519.8,254.6 60,254.6 60,1Z"/>
<path fill="#00c3ff" d="M63.5,1 519.8,1 519.8,254.6 60.7,254.6 60.7,1Z"/>
<path fill="#00e5ff" d="M63.5,1 519.8,1 519.8,254.6 61.4,254.6 61.4,1Z"/>
<path fill="#09fff6" d="M63.5,1 519.8,1 519.8,254.6 62.2,254.6 62.2,1Z"/>
<path fill="#2bffd4" d="M63.5,1 519.8,1 519.8,254.6 62.9,254.6 62.9,1Z"/>
<path fill="#4dffb2" d="M66.4,1 519.8,1 519.8,254.6 63.6,254.6 63.6,1Z"/>
<path fill="#6eff90" d="M66.4,1 519.8,1 519.8,254.6 64.5,254.6 64.5,1Z"/>
<path fill="#91ff6e" d="M66.4,1 519.8,1 519.8,254.6 65.4,254.6 65.4,1Z"/>
<path fill="#b3ff4c" d="M66.4,1 519.8,1 519.8,254.6 66.2,254.6 66.2,1Z"/>
<path fill="#d5ff2a" d="M69.3,1 519.8,1 519.8,254.6 67.3,254.6 67.3,1Z"/>
<path fill="#f7ff08" d="M69.3,1 519.8,1 519.8,254.6 68.5,254.6 68.5,1Z"/>
<path fill="#ffe500" d="M72.2,1 519.8,1 519.8,254.6 69.8,254.6 69.8,1Z"/>
<path fill="#ffc300" d="M72.2,1 519.8,1 519.8,254.6 71.7,254.6 71.7,1Z"/>
<path fill="#ffa200" d="M75.1,1 519.8,1 519.8,254.6 74.1,254.6 74.1,1Z"/>
<path fill="#ff8000" d="M78,1 519.8,1 519.8,254.6 76.9,254.6 76.9,1Z"/>
<path fill="#ff5e00" d="M83.7,1 519.8,1 519.8,254.6 81.7,254.6 81.7,1Z"/>
<path fill="#ff3c00" d="M89.5,1 519.8,1 519.8,254.6 89.4,254.6 89.4,1Z"/>
<path fill="#ff1a00" d="M98.2,1 519.8,1 519.8,254.6 97.2,254.6 97.2,1Z"/>
<path fill="#ff0400" d="M106.8,1 519.8,1 519.8,254.6 105.4,254.6 105.4,1Z"/>
<path fill="#fb0000" d="M109.7,1 519.8,1 519.8,254.6 109.4,254.6 109.4,1Z"/>
<path fill="#f20000" d="M121.3,1 519.8,1 519.8,254.6 121,254.6 121,1Z"/>
<path fill="#ea0000" d="M135.7,1 519.8,1 519.8,254.6 132.9,254.6 132.9,1Z"/>
<path fill="#e10000" d="M144.4,1 519.8,1 519.8,254.6 144,254.6 144,1Z"/>
<path fill="#d90000" d="M155.9,1 519.8,1 519.8,254.6 283,254.6 154.8,254.6 154.8,1Z"/>
<path fill="#d00000" d="M271.5,1 519.8,1 519.8,254.6 269.1,254.6 269.1,1Z"/>
<path fill="#c80000" d="M274.3,1 519.8,1 519.8,254.6 273.7,254.6 273.7,1Z"/>
<path fill="#bf0000" d="M288.8,1 519.8,1 519.8,254.6 281.6,254.6 281.8,245.8 283,240.5 284,240 285.8,237.1 285.9,234.5 288.5,234.2 288.8,231.3 288.8,1Z"/>
<path fill="#b70000" d="M516.9,207.6 519.8,206.8 519.8,254.6 454,254.6 460.2,242.9 473.6,228.3 490.9,217.7 516,207.9Z"/>
<use href="#sb"/>
<g stroke="#e2e2e2" stroke-width="1.5"><circle cx="204.5" cy="7.5" r="4.5" fill="#e90000"/><circle cx="204.5" cy="16.9" r="4.5" fill="#e90000"/><circle cx="204.5" cy="32.6" r="4.5" fill="#e90000"/><circle cx="204.5" cy="48.4" r="4.5" fill="#e90000"/><circle cx="204.5" cy="64.1" r="4.5" fill="#e90000"/><circle cx="204.5" cy="79.8" r="4.5" fill="#e90000"/><circle cx="204.5" cy="95.5" r="4.5" fill="#e90000"/><circle cx="204.5" cy="111.3" r="4.5" fill="#e90000"/><circle cx="255.7" cy="7.5" r="4.5" fill="#e90000"/><circle cx="255.7" cy="16.9" r="4.5" fill="#e90000"/><circle cx="255.7" cy="32.6" r="4.5" fill="#e90000"/><circle cx="255.7" cy="48.4" r="4.5" fill="#e90000"/><circle cx="255.7" cy="64.1" r="4.5" fill="#e90000"/><circle cx="255.7" cy="79.8" r="4.5" fill="#e90000"/><circle cx="255.7" cy="95.5" r="4.5" fill="#e90000"/><circle cx="255.7" cy="111.3" r="4.5" fill="#e90000"/><circle cx="255.7" cy="127" r="4.5" fill="#e90000"/><circle cx="255.7" cy="142.7" r="4.5" fill="#e90000"/><circle cx="255.7" cy="158.4" r="4.5" fill="#e90000"/><circle cx="255.7" cy="174.2" r="4.5" fill="#e90000"/><circle cx="333.5" cy="7.5" r="4.5" fill="#d40000"/><circle cx="333.5" cy="16.9" r="4.5" fill="#d40000"/><circle cx="333.5" cy="32.6" r="4.5" fill="#d40000"/><circle cx="333.5" cy="48.4" r="4.5" fill="#d40000"/><circle cx="333.5" cy="64.1" r="4.5" fill="#d40000"/><circle cx="333.5" cy="79.8" r="4.5" fill="#d40000"/><circle cx="333.5" cy="95.5" r="4.5" fill="#d40000"/><circle cx="333.5" cy="111.3" r="4.5" fill="#d40000"/><circle cx="333.5" cy="127" r="4.5" fill="#d40000"/><circle cx="333.5" cy="142.7" r="4.5" fill="#d40000"/><circle cx="333.5" cy="158.4" r="4.5" fill="#d40000"/><circle cx="333.5" cy="174.2" r="4.5" fill="#d40000"/><circle cx="333.5" cy="189.9" r="4.5" fill="#d40000"/><circle cx="333.5" cy="205.6" r="4.5" fill="#d40000"/><circle cx="333.5" cy="221.3" r="4.5" fill="#d40000"/><circle cx="333.5" cy="237.1" r="4.5" fill="#d40000"/><circle cx="410.7" cy="7.5" r="4.5" fill="#d40000"/><circle cx="410.7" cy="16.9" r="4.5" fill="#d40000"/><circle cx="410.7" cy="32.6" r="4.5" fill="#d40000"/><circle cx="410.7" cy="48.4" r="4.5" fill="#d40000"/><circle cx="410.7" cy="64.1" r="4.5" fill="#d40000"/><circle cx="410.7" cy="79.8" r="4.5" fill="#d40000"/><circle cx="410.7" cy="95.5" r="4.5" fill="#d40000"/><circle cx="410.7" cy="111.3" r="4.5" fill="#d40000"/><circle cx="410.7" cy="127" r="4.5" fill="#d40000"/><circle cx="410.7" cy="142.7" r="4.5" fill="#d40000"/><circle cx="410.7" cy="158.4" r="4.5" fill="#d40000"/><circle cx="410.7" cy="174.2" r="4.5" fill="#d40000"/><circle cx="410.7" cy="189.9" r="4.5" fill="#d40000"/><circle cx="410.7" cy="205.6" r="4.5" fill="#d40000"/><circle cx="410.7" cy="221.3" r="4.5" fill="#d30000"/><circle cx="410.7" cy="237.1" r="4.5" fill="#d10000"/><circle cx="410.7" cy="252.8" r="4.5" fill="#ce0000"/></g>
</g>
<path d="M0,0.8H518.7" stroke="#1a1a1a" stroke-width="1.6"/>
<path d="M1,0V253.4" stroke="#222" stroke-width="2"/>
<path d="M518.1,0V253.4" stroke="#222" stroke-width="1.2"/>
<path d="M0,251.95H518.7" stroke="#000" stroke-width="2.9"/>
</g>
<text transform="translate(1892.1,529.8) scale(1,1.06)" font-size="36.6" fill="#fff">Oct 20-22, 2017</text>
<!-- panel K -->
<g transform="translate(1328.2,572.3) scale(0.99749,0.99605)">
<g clip-path="url(#cp)">
<rect width="518.7" height="253.4" fill="#000090"/>
<path fill="#0000b2" d="M57.5,2.7 519.1,2.7 519.1,255.7 -0.2,255.7 -0.2,29 40.2,25.5 54.6,22.8 58.4,20.2 59,17.2 59,11.4 57,2.7Z"/>
<path fill="#0000d4" d="M63.3,2.7 519.1,2.7 519.1,255.7 -0.2,255.7 -0.2,35.9 17.1,33.6 43.1,29.1 54.6,26.1 60.4,23.7 61.4,23.1 62.4,20.2 62.4,14.3 61.4,8.5 61.5,2.7Z"/>
<path fill="#0000f6" d="M66.2,2.7 519.1,2.7 519.1,255.7 -0.2,255.7 -0.2,42 17.1,38.7 37.3,34 51.7,29.7 60.9,26 64.4,23.1 64.7,20.2 63.6,8.5 63.7,2.7Z"/>
<path fill="#001aff" d="M66.2,2.7 519.1,2.7 519.1,255.7 -0.2,255.7 -0.2,47.7 20,42.7 40.2,36.6 54.6,31.1 63.3,26.6 66.3,23.1 65.1,2.7Z"/>
<path fill="#003cff" d="M69,2.7 519.1,2.7 519.1,255.7 -0.2,255.7 -0.2,53.3 20,47.2 40.2,40 54.6,33.7 63.3,28.5 66.2,26 67.7,23.1 66.4,2.7Z"/>
<path fill="#005eff" d="M69,2.7 519.1,2.7 519.1,255.7 -0.2,255.7 -0.2,59 17.1,52.9 37.3,44.8 54.6,36.3 63.3,30.7 66.2,28.1 69.1,23.1 69.3,20.2 67.6,2.7Z"/>
<path fill="#0080ff" d="M69,2.7 519.1,2.7 519.1,255.7 -0.2,255.7 -0.2,64.8 20,56.6 40.2,47.1 54.6,39.2 63.3,33.1 67.4,28.9 70.4,23.1 70.6,20.2 68.7,2.7Z"/>
<path fill="#00a2ff" d="M71.9,2.7 519.1,2.7 519.1,255.7 -0.2,255.7 -0.2,70.8 20,61.6 40.2,51 54.6,42.3 66.2,33 69.3,28.9 71.7,23.1 71.9,20.2 69.9,2.7Z"/>
<path fill="#00c3ff" d="M71.9,2.7 519.1,2.7 519.1,255.7 -0.2,255.7 -0.2,77.3 22.9,65.3 43.1,53.4 57.5,43.5 66.2,36 71.1,28.9 73.1,23.1 73.3,20.2 71.1,2.7Z"/>
<path fill="#00e5ff" d="M74.8,2.7 519.1,2.7 519.1,255.7 -0.2,255.7 -0.2,84.3 17.1,74.4 40.2,59.7 57.5,47.1 66.2,39.3 71.7,31.8 74.4,23.1 74.7,20.2 72.4,2.7Z"/>
<path fill="#09fff6" d="M74.8,2.7 519.1,2.7 519.1,255.7 -0.2,255.7 -0.2,91.9 20,78.9 43.1,62.6 57.5,51.1 69,39.6 73.9,31.8 76,23.1 76.2,20.2 74.9,14.3 74.9,8.5 73.9,2.7Z"/>
<path fill="#2bffd4" d="M77.7,2.7 519.1,2.7 519.1,255.7 -0.2,255.7 -0.2,100.4 17.1,88.1 43.1,67.9 60.4,52.8 69.3,43.4 74.8,35.1 76.8,28.9 77.8,20.2 76.7,14.3 76.6,8.5 75.6,2.7Z"/>
<path fill="#4dffb2" d="M77.7,2.7 519.1,2.7 519.1,255.7 -0.2,255.7 -0.2,110 20,93.8 46,71.4 60.4,57.6 71.9,44.5 76.3,37.6 79,28.9 79.7,20.2 78.6,14.3 77.7,2.7Z"/>
<path fill="#6eff90" d="M80.6,2.7 519.1,2.7 519.1,255.7 -0.2,255.7 -0.2,121.1 20,102.9 48.8,75.1 66.2,56.6 74.8,45.4 79.1,37.6 81.3,28.9 81.8,20.2 80.7,14.3 80.1,2.7Z"/>
<path fill="#91ff6e" d="M83.5,2.7 519.1,2.7 519.1,255.7 -0.2,255.7 -0.2,134.3 17.1,116.7 51.7,79.3 66.2,62.4 77.7,46.4 82.1,37.6 83.9,28.9 84,20.2 82.8,11.4 82.6,2.7Z"/>
<path fill="#b3ff4c" d="M86.3,2.7 519.1,2.7 519.1,255.7 -0.2,255.7 -0.2,150.4 5.6,144.2 57.5,80.5 69,65.2 79.6,49.2 84,40.5 86.3,31.8 86.8,23.1 85.4,11.4 85.3,2.7Z"/>
<path fill="#d5ff2a" d="M89.2,2.7 519.1,2.7 519.1,255.7 -0.2,255.7 -0.2,171.1 2.7,167.8 60.4,85.8 74.8,64.1 83.4,49.2 87.3,40.5 89.3,31.8 89.7,23.1 88.6,14.3 88,2.7Z"/>
<path fill="#f7ff08" d="M92.1,2.7 519.1,2.7 519.1,255.7 -0.2,255.7 -0.2,199.3 2.7,195.3 28.3,151 71.9,77.8 87.1,49.2 91.6,37.6 93.2,26 91.1,2.7Z"/>
<path fill="#ffe500" d="M97.9,2.7 519.1,2.7 519.1,255.7 -0.2,255.7 -0.2,242.1 2.7,236.8 33.4,168.4 80.6,72.2 93.3,43.4 96,34.7 97.3,26 95.7,2.7Z"/>
<path fill="#ffc300" d="M106.5,2.7 519.1,2.7 519.1,255.7 25.8,255.7 19.6,255.7 26.6,232.4 40.1,191.7 53.7,153.9 99.4,37.6 103.2,23.1 103.8,8.5 106.1,2.7Z"/>
<path fill="#ffa200" d="M121,3.1 519.1,2.7 519.1,255.7 44.1,255.7 50.3,223.7 58.9,185.9 67.8,151 77.7,116.1 98.7,49.2 101,43.4 109.8,26 114.5,11.4 118.7,5.6Z"/>
<path fill="#ff8000" d="M138.3,4.3 139.6,2.7 519.1,2.7 519.1,255.7 68.8,255.7 73.5,203.3 80.3,153.9 89.5,104.5 101.8,52.1 103.7,46.3 106.9,40.5 115.2,29.8 137.2,5.6Z"/>
<path fill="#ff5e00" d="M158.5,2.9 519.1,2.7 519.1,255.7 94.2,255.7 92.7,200.4 93.1,174.3 94.3,148.1 98.7,98.7 106.8,49.2 109.4,43 118.1,33.9 126.7,27.7 144.1,17.2 155.9,5.6Z"/>
<path fill="#ff3c00" d="M184.4,4.3 187.3,2.7 519.1,2.7 519.1,255.7 120.9,255.7 115.6,223.7 112.1,197.5 109.4,171.4 107.7,145.2 106.9,119 107,95.8 109.3,63.8 111,49.2 113.1,43.4 115.5,40.5 121,36.2 132.5,30.4 159.7,20.2 164.8,17.2 175.8,8.7 181.9,5.6Z"/>
<path fill="#ff1a00" d="M224.8,3.9 226.1,2.7 519.1,2.7 519.1,255.7 149.7,255.7 140,223.7 132.5,196.5 126,168.4 121.2,142.3 117.1,113.2 115.3,92.8 115.1,60.9 115.8,46.3 116.9,43.4 121,39.8 132.5,35.3 144,33.2 172.9,30.7 181.1,28.9 187.3,26.7 195.9,23.1 207.5,16.9 213.3,13.2 223,5.6Z"/>
<path fill="#ff0400" d="M288.3,5.4 290.4,2.7 519.1,2.7 519.1,255.7 182,255.7 167.1,223.8 154.5,194.6 144,167 137.1,145.2 128.5,113.2 124.1,92.8 121.7,63.8 121,45.6 122.1,43.4 123.9,42.5 130.2,40.5 135.4,39.6 144,40.2 164.2,43.5 198.9,45.1 222.7,43.4 242.1,41 257.5,34.7 267.2,28.9 288.1,5.6Z"/>
<path fill="#fb0000" d="M302.7,2.9 519.1,2.7 519.1,255.7 190.8,255.7 172.9,220.5 158.5,189.8 149.8,169.1 141.2,145 130.7,110.3 126.4,92.8 123.5,63.8 122.9,46.3 125.2,43.4 135.4,41.2 141.2,41.7 162.3,46.3 198.9,49 233.5,47 245,45.8 266.7,37.6 273.9,34.2 284.2,26 293.8,17.2 298.6,8.5 300.8,5.6Z"/>
<path fill="#f20000" d="M311.4,2.7 519.1,2.7 519.1,255.7 200.1,255.7 178.7,217.1 164.2,188.9 152.7,163.6 144,141.1 132.5,106.2 128.3,89.9 125.2,60.9 125.9,46.3 129.6,44.2 132.4,43.4 138.3,43.4 164.2,49.3 198.9,52.1 233.5,50.3 247.9,48.5 255,46.3 273.9,39 285.6,31.8 299.1,20.2 310.7,2.7Z"/>
<path fill="#ea0000" d="M317.2,4.3 318.1,2.7 519.1,2.7 519.1,255.7 209.8,255.7 190.2,223.4 172.9,193.1 160.2,168.4 149.8,144.8 135.4,105.7 130.7,89.9 127.2,60.9 128.9,49.2 132.3,46.3 138.3,46.1 167.1,52.6 181.6,54.1 198.9,55 230.6,53.5 242.1,52.4 250.8,50.8 273.9,42.8 282.5,38.8 289.3,34.7 297,28.9 303.5,23.1 308.4,17.2 316.4,5.6Z"/>
<path fill="#e10000" d="M325.8,2.7 519.1,2.7 519.1,255.7 220.1,255.7 196,219 178.7,191 165.9,168.4 155.6,147.3 138.3,104.8 134,92.8 132.5,86.4 131.5,72.5 129.4,60.9 130.6,55 132.5,51.6 135.4,49.8 138.3,49.4 144,50.2 158.5,53.9 170,56 196,57.7 213.3,57.5 230.6,56.3 245,54.7 256.6,52.4 281.4,43.4 288.3,40.1 297.1,34.7 307.9,26 313.4,20.2 325.5,2.7Z"/>
<path fill="#d90000" d="M331.6,5.2 333.1,2.7 519.1,2.7 519.1,255.7 231.1,255.7 207.5,222.7 184.4,188.6 170,165.2 161.4,148.9 136.8,92.8 134.7,84.1 134.1,69.6 132,60.9 132.5,58 135.4,54.6 138.3,53.5 141.2,53.3 167.1,58.9 190.2,60.4 219.1,60.1 245,57.6 256.6,55.7 283.9,46.3 294.1,41.8 299.8,38.5 309,31.8 318.8,23.1 323.5,17.2 331.3,5.6Z"/>
<path fill="#d00000" d="M340.2,4.8 341.4,2.7 519.1,2.7 519.1,255.7 242.9,255.7 219.1,225 193.1,189.9 178.7,169 167.9,151 141.2,96.3 138.6,89.9 137.3,84.1 137.7,69.6 135.4,60.9 138.3,58.1 141.2,57.7 158.5,61.2 172.9,63.1 210.4,63.5 233.5,61.9 259.5,58.6 295.3,46.3 305.6,40.9 321.9,28.9 328.4,23.1 339.8,5.6Z"/>
<path fill="#c80000" d="M504.7,5.6 509.2,2.7 519.1,2.7 519.1,255.7 255.7,255.7 213.3,204.6 193.1,179 181.6,163.2 167.1,139.4 144,95.3 141.6,89.9 140.1,84.1 140.3,78.3 142.8,69.6 144,67.2 146.9,65.5 152.7,64.9 175.8,66.5 213.3,66.8 253.7,63.5 265.2,61.4 299.8,50.7 309.7,46.3 332.4,31.8 339.6,26 348.9,15.7 354.7,12.4 363.3,11.8 386.4,14.6 403.7,17.4 429.7,23.3 438.3,24 455.6,22.1 472.9,18.5 487.4,13.6 504.6,5.6Z"/>
<path fill="#bf0000" d="M366.2,34.5 374.9,34.3 386.4,35.9 418.1,44.8 432.6,48.1 484.5,54.5 496,55.3 504.7,54.8 510.4,53.7 519.1,50.8 519.1,255.7 269.7,255.7 245,228.8 204.6,182.5 190.2,165.1 181.9,153.9 172.9,139.6 157,110.3 144,88.3 143,84.1 143.9,78.3 146.9,73.1 149.8,70.9 152.7,69.8 158.5,69.2 219.1,70.5 262.3,67.3 273.9,64.9 308.5,56.2 319.8,52.1 351.8,38.1 364.7,34.7Z"/>
<path fill="#b70000" d="M348.9,63.6 366.2,63 380.6,64.3 397.9,67.6 432.6,76.6 452.7,79.2 493.1,82.1 507.6,81.9 519.1,80.9 519.1,255.7 285.3,255.7 262.3,232.9 198.9,165.7 190.2,155.4 181.6,143.4 162.4,110.3 146.9,87.1 146.1,84.1 146.6,81.2 149.8,76.7 155.6,73.9 161.4,73.1 216.2,75 259.5,73.8 346.6,63.8Z"/>
<path fill="#ae0000" d="M158.5,78.1 170,77.6 216.2,80.3 282.5,81.8 299.8,83 317.2,86.2 337.3,93.8 346,95.8 374.9,96.6 389.3,97.7 481.6,112.4 504.7,115 519.1,115.5 519.1,255.7 303.4,255.7 280.3,235.3 242,197.5 204.6,162 196,152.6 184,136.5 164.9,104.5 151.3,87 150,84.1 151.5,81.2 157.5,78.3Z"/>
<path fill="#a60000" d="M167.1,84.1 180,84.1 216.3,87 245,90 271,94.1 285.4,97.8 322.9,110 406.6,132.4 448.2,142.3 501.8,156.2 519.1,159.6 519.1,255.7 326.7,255.7 311.4,245.9 301.5,238.2 258.1,197.5 234.6,177.2 210.4,157.5 203.6,151 190.2,134.2 174.9,107.4 162.5,89.9 161.4,86.9 164.2,84.7 166.5,84.1Z"/>
<path fill="#9d0000" d="M190.2,97.4 196,96.1 207.5,96.5 221.7,98.7 233.5,101.6 250.8,106.9 259.5,110.3 268.1,114.7 279.6,121.8 285.4,124.3 308.7,130.6 325.8,136.9 337.3,143.1 347.3,151 353.5,159.7 360.2,174.3 363.3,177.7 369.1,181.2 374.9,182.7 380.6,183.2 406.6,181.8 421,182.5 435.4,185.7 447,190.8 456,197.5 463.3,206.2 469.2,217.9 471.2,226.6 470.2,235.3 467.5,241.1 461.4,248.4 452.7,254.8 451.3,255.7 376.7,255.7 366.2,251.8 337.3,244.7 325.8,239.4 319.8,235.3 308.5,226 299.6,217.9 288.3,205.8 271,190.3 246.4,171.4 216.2,151.7 211.9,148.1 197.7,130.6 192.4,119 188,107.4 187.1,101.6 188.3,98.7Z"/>
<path fill="#950000" d="M320,191.4 325.8,191.6 334.5,194.2 360.4,207.2 372,211.5 383.5,213.1 406.6,212.8 412.4,213.4 418.1,214.9 423,217.9 424.8,220.8 424.8,223.7 423,226.6 421,228.2 415.2,230.5 409.5,231.3 400.8,230.7 372,222.7 343.1,220.3 331.6,218 320,214.7 314.3,211.6 312.4,209.2 311.7,206.2 312.3,200.4 314.3,195 317.2,192.3 318.9,191.7Z"/>
<use href="#sb"/>
<g stroke="#e2e2e2" stroke-width="1.5"><circle cx="3.3" cy="7.5" r="4.5" fill="#000080"/><circle cx="3.3" cy="16.9" r="4.5" fill="#000080"/><circle cx="27.1" cy="7.5" r="4.5" fill="#000080"/><circle cx="53.6" cy="7.5" r="4.5" fill="#000080"/><circle cx="83.8" cy="7.5" r="4.5" fill="#000080"/><circle cx="121.2" cy="7.5" r="4.5" fill="#002aff"/><circle cx="121.2" cy="16.9" r="4.5" fill="#f3ff0c"/><circle cx="121.2" cy="32.6" r="4.5" fill="#ffb300"/><circle cx="143.1" cy="7.5" r="4.5" fill="#00c7ff"/><circle cx="143.1" cy="16.9" r="4.5" fill="#80ff80"/><circle cx="143.1" cy="32.6" r="4.5" fill="#ff6e00"/><circle cx="162.1" cy="7.5" r="4.5" fill="#a2ff5e"/><circle cx="162.1" cy="16.9" r="4.5" fill="#ffb300"/><circle cx="162.1" cy="32.6" r="4.5" fill="#ff7c00"/><circle cx="162.1" cy="48.4" r="4.5" fill="#ff0800"/><circle cx="162.1" cy="64.1" r="4.5" fill="#f30000"/><circle cx="162.1" cy="79.8" r="4.5" fill="#e50000"/><circle cx="184.2" cy="7.5" r="4.5" fill="#ffc000"/><circle cx="184.2" cy="16.9" r="4.5" fill="#ff8300"/><circle cx="184.2" cy="32.6" r="4.5" fill="#ff2a00"/><circle cx="184.2" cy="48.4" r="4.5" fill="#ec0000"/><circle cx="184.2" cy="64.1" r="4.5" fill="#ec0000"/><circle cx="184.2" cy="79.8" r="4.5" fill="#ec0000"/><circle cx="184.2" cy="95.5" r="4.5" fill="#ec0000"/><circle cx="206.9" cy="7.5" r="4.5" fill="#ff9100"/><circle cx="206.9" cy="16.9" r="4.5" fill="#ff8300"/><circle cx="206.9" cy="32.6" r="4.5" fill="#ff5a00"/><circle cx="206.9" cy="48.4" r="4.5" fill="#e50000"/><circle cx="206.9" cy="64.1" r="4.5" fill="#e50000"/><circle cx="206.9" cy="79.8" r="4.5" fill="#e50000"/><circle cx="206.9" cy="95.5" r="4.5" fill="#e50000"/><circle cx="206.9" cy="111.3" r="4.5" fill="#df0000"/><circle cx="230.8" cy="7.5" r="4.5" fill="#ff6e00"/><circle cx="230.8" cy="16.9" r="4.5" fill="#ff5a00"/><circle cx="230.8" cy="32.6" r="4.5" fill="#ff0800"/><circle cx="230.8" cy="48.4" r="4.5" fill="#df0000"/><circle cx="230.8" cy="64.1" r="4.5" fill="#df0000"/><circle cx="230.8" cy="79.8" r="4.5" fill="#df0000"/><circle cx="230.8" cy="95.5" r="4.5" fill="#df0000"/><circle cx="230.8" cy="111.3" r="4.5" fill="#d80000"/><circle cx="253.6" cy="7.5" r="4.5" fill="#ff6800"/><circle cx="253.6" cy="16.9" r="4.5" fill="#ff0800"/><circle cx="253.6" cy="32.6" r="4.5" fill="#df0000"/><circle cx="253.6" cy="48.4" r="4.5" fill="#df0000"/><circle cx="253.6" cy="64.1" r="4.5" fill="#df0000"/><circle cx="253.6" cy="79.8" r="4.5" fill="#df0000"/><circle cx="253.6" cy="95.5" r="4.5" fill="#d80000"/><circle cx="253.6" cy="111.3" r="4.5" fill="#d80000"/><circle cx="253.6" cy="127" r="4.5" fill="#d10000"/><circle cx="276.3" cy="16.9" r="4.5" fill="#f30000"/><circle cx="276.3" cy="32.6" r="4.5" fill="#d80000"/><circle cx="276.3" cy="48.4" r="4.5" fill="#d80000"/><circle cx="276.3" cy="64.1" r="4.5" fill="#d80000"/><circle cx="276.3" cy="79.8" r="4.5" fill="#d80000"/><circle cx="276.3" cy="95.5" r="4.5" fill="#d10000"/><circle cx="276.3" cy="111.3" r="4.5" fill="#d10000"/><circle cx="276.3" cy="127" r="4.5" fill="#ca0000"/><circle cx="276.3" cy="142.7" r="4.5" fill="#ca0000"/></g>
</g>
<path d="M0,0.8H518.7" stroke="#1a1a1a" stroke-width="1.6"/>
<path d="M1,0V253.4" stroke="#222" stroke-width="2"/>
<path d="M518.1,0V253.4" stroke="#222" stroke-width="1.2"/>
<path d="M0,251.95H518.7" stroke="#000" stroke-width="2.9"/>
</g>
<text transform="translate(1354.8,806.1) scale(1,1.06)" font-size="36.6" fill="#fff">Jun 13-22, 2018</text>
<!-- panel L -->
<g transform="translate(1866.0,572.3) scale(0.99653,0.99605)">
<g clip-path="url(#cp)">
<rect width="518.7" height="253.4" fill="#000090"/>
<path fill="#0000b2" d="M60.6,2.7 519.8,2.7 519.8,255.7 0,255.7 0,28.3 43.3,24.8 54.9,22.8 59,20.2 59.6,17.2 59.9,14.3 57.8,2.7Z"/>
<path fill="#0000d4" d="M63.5,2.7 519.8,2.7 519.8,255.7 0,255.7 0,34.9 40.4,28.9 54.1,26 60.6,23.6 61.6,23.1 62.8,20.2 62.5,14.3 61.4,8.5 61.6,2.7Z"/>
<path fill="#0000f6" d="M63.5,4.2 63.7,2.7 519.8,2.7 519.8,255.7 0,255.7 0,40.7 40.4,32.2 52,29 60.6,25.9 64.6,23.1 64.8,20.2 63.3,5.6Z"/>
<path fill="#001aff" d="M66.4,2.7 519.8,2.7 519.8,255.7 0,255.7 0,46.2 17.3,42 40.4,35.3 54.9,30.2 63.5,26.1 66.5,23.1 64.9,8.5 64.8,2.7Z"/>
<path fill="#003cff" d="M66.4,2.7 519.8,2.7 519.8,255.7 0,255.7 0,51.5 20.2,45.5 40.4,38.4 54.9,32.4 63.5,27.7 66.4,25.1 67.6,23.1 65.9,2.7Z"/>
<path fill="#005eff" d="M69.3,2.7 519.8,2.7 519.8,255.7 0,255.7 0,56.9 17.3,50.9 40.4,41.6 52,36.2 63.5,29.4 66.4,27 68.8,23.1 69,20.2 66.9,2.7Z"/>
<path fill="#0080ff" d="M69.3,2.7 519.8,2.7 519.8,255.7 0,255.7 0,62.5 20.2,54.3 40.4,44.9 54.9,37.2 63.5,31.3 68.6,26 70,23.1 70.1,20.2 67.9,2.7Z"/>
<path fill="#00a2ff" d="M69.3,2.7 519.8,2.7 519.8,255.7 0,255.7 0,68.3 20.2,59 43.3,46.8 57.8,37.9 66.4,30.8 69.3,27 71,23.1 71.3,20.2 70,14.3 68.8,2.7Z"/>
<path fill="#00c3ff" d="M72.2,2.7 519.8,2.7 519.8,255.7 199.3,255.7 0,255.7 0,74.6 23.1,62.4 43.3,50.5 57.8,40.6 66.4,33.1 69.6,28.9 72.1,23.1 72.4,20.2 71.1,14.3 70.9,8.5 69.9,2.7Z"/>
<path fill="#00e5ff" d="M72.2,2.7 519.8,2.7 519.8,255.7 5.8,255.7 0,255.7 0,81.3 17.3,71.3 40.4,56.4 54.9,46 66.4,35.8 71.2,28.9 73.4,23.1 73.7,20.2 72.1,14.3 72.1,8.5 71,2.7Z"/>
<path fill="#09fff6" d="M72.2,2.7 519.8,2.7 519.8,255.7 0,255.7 0,88.7 17.3,77.5 43.3,58.9 57.8,47.2 67.5,37.6 71.6,31.8 74.7,23.1 74.9,20.2 73.5,14.3 73.5,8.5 72.1,2.7Z"/>
<path fill="#2bffd4" d="M75.1,2.7 519.8,2.7 519.8,255.7 0,255.7 0,97 20.2,82.3 43.3,63.8 57.8,51.1 69.3,38.8 73.6,31.8 76.2,23.1 76.4,20.2 74.9,14.3 74.8,8.5 73.8,2.7Z"/>
<path fill="#4dffb2" d="M78,2.7 519.8,2.7 519.8,255.7 0,255.7 0,106.5 23.1,87.5 46.2,66.8 60.6,52.5 70.8,40.5 75.7,31.8 77.8,23.1 77.9,20.2 76.6,14.3 75.6,2.7Z"/>
<path fill="#6eff90" d="M78,2.7 519.8,2.7 519.8,255.7 0,255.7 0,117.5 20.2,98.9 46.2,73.1 60.6,57.4 72.2,42.7 76.7,34.7 79.7,23.1 77.7,2.7Z"/>
<path fill="#91ff6e" d="M80.9,2.7 519.8,2.7 519.8,255.7 0,255.7 0,130.5 17.3,112.6 46.2,80.6 60.6,63.2 72.2,47.5 79.1,34.7 81.4,26 81.7,20.2 80.5,14.3 79.9,2.7Z"/>
<path fill="#b3ff4c" d="M83.7,2.7 519.8,2.7 519.8,255.7 0,255.7 0,146.5 2.9,143.8 17.3,126 49.1,85.8 63.5,66.2 75.1,48.2 80.9,36.6 83.8,26 84.1,23.1 82.8,14.3 82.2,2.7Z"/>
<path fill="#d5ff2a" d="M86.6,2.7 519.8,2.7 519.8,255.7 0,255.7 0,167 5.8,159.6 49.1,96.7 66.4,69.8 76.4,52.1 83.1,37.6 86.5,26 86.7,23.1 85.3,14.3 84.7,2.7Z"/>
<path fill="#f7ff08" d="M89.5,2.7 519.8,2.7 519.8,255.7 0,255.7 0,194.8 2.9,190.8 54.9,100.7 69.3,74.4 78,56.9 83.7,43.1 89.7,26 90,23.1 88.7,17.2 88.4,8.5 87.5,2.7Z"/>
<path fill="#ffe500" d="M95.3,2.7 519.8,2.7 519.8,255.7 0,255.7 0,236.2 2.9,231 24.6,183 63.5,99.8 80.9,59.9 89.5,34.7 94.4,23.1 93.7,17.2 94.8,11.4 94.4,2.7Z"/>
<path fill="#ffc300" d="M164.6,4.5 169.7,2.7 519.8,2.7 519.8,255.7 17.4,255.7 38.4,191.7 80.9,73.5 90.5,40.5 93.7,31.8 100.1,23.1 103.5,17.2 106.8,14.5 109.7,13.1 124.2,9.9 144.4,9.5 161.9,5.6Z"/>
<path fill="#ffa200" d="M179,5 182.2,2.7 519.8,2.7 519.8,255.7 42.1,255.7 56.8,188.8 85.9,75.4 92.7,43.4 95.4,34.7 98.2,30.2 106.8,21.2 112.6,17.9 127.1,14.1 144.4,13 154.8,11.4 168.5,8.5 178,5.6Z"/>
<path fill="#ff8000" d="M190.6,5.1 193.4,2.7 519.8,2.7 519.8,255.7 67.1,255.7 71.1,215 76.7,171.4 92.7,69.6 95.9,43.4 98.4,34.7 101.1,31 106.8,25.7 109.7,23.5 115.5,21 130,17.2 153.1,15.1 173.6,11.4 181.9,9.4 189.9,5.6Z"/>
<path fill="#ff5e00" d="M202.1,3.3 202.6,2.7 519.8,2.7 519.8,255.7 92.8,255.7 92.1,212.1 92.9,165.5 95.7,107.4 98.4,66.7 99.1,46.3 100.4,37.6 101.7,34.7 106.8,29.3 109.7,27.2 115.5,24.5 130,20.7 158.8,17.8 181.9,13.9 190.6,11.1 200.2,5.6Z"/>
<path fill="#ff3c00" d="M210.8,2.7 519.8,2.7 519.8,255.7 119.8,255.7 113,206.2 108.3,156.8 104.5,92.8 104.1,66.7 102.8,46.3 103.6,37.6 105.2,34.7 109.7,30.7 115.5,27.9 121.3,26.2 132.8,23.8 173.3,19.6 190.6,15.9 202.1,10.6 208.4,5.6 210.6,2.7Z"/>
<path fill="#ff1a00" d="M219.5,2.7 519.8,2.7 519.8,255.7 148.8,255.7 135.7,207.5 124.2,155.4 112.6,89.9 109.9,63.8 106.8,45.1 106.6,40.5 107.1,37.6 109.3,34.7 112.6,32.5 124.2,28.8 135.7,27.3 173.3,24.2 184.8,22.1 193.5,19.8 202.1,16.6 207.9,13.3 214.2,8.5 219.1,2.7Z"/>
<path fill="#ff0400" d="M228.1,2.9 519.8,2.7 519.8,255.7 181.2,255.7 158.8,202.5 141.5,154.6 121.3,88.6 116.9,63.8 112.6,49.3 111.1,40.5 111.8,37.6 112.6,36.8 116.5,34.7 124.2,32.6 176.2,29.3 184.8,27.8 199.3,24.2 205,22.3 210.8,19.2 221.8,11.4 226.8,5.6Z"/>
<path fill="#fb0000" d="M231,2.7 519.8,2.7 519.8,255.7 190.6,255.7 190,255.7 170.4,213.7 158.8,186.8 147.3,157.5 124.1,89.9 121.3,78.7 118.9,63.8 114.1,49.2 112.5,40.5 113.7,37.6 120,34.7 124.2,33.7 176.2,31 184.8,29.7 202.1,25.3 210.8,21.7 222.4,13.8 227.5,8.5 231,2.7Z"/>
<path fill="#f20000" d="M233.9,3.6 234.6,2.7 519.8,2.7 519.8,255.7 199.2,255.7 173.3,204.3 158.8,172.9 150.2,152.1 125.7,87 123.4,78.3 121,63.8 115.7,49.2 114.5,40.5 116.5,37.6 125.9,34.7 176.2,33.1 187.7,31.2 202.1,27.7 210.8,24.5 222.4,16.9 228.1,11.9 232.7,5.6Z"/>
<path fill="#ea0000" d="M236.8,5.1 238.6,2.7 519.8,2.7 519.8,255.7 208.9,255.7 193.5,228.4 179,201.3 164.6,172.6 155.9,153.8 128.2,87 125.6,78.3 123.3,63.8 117.5,49.2 116.6,43.4 117,40.5 118.4,39 121.3,37.4 127.1,36.2 176.2,35.5 187.7,34 205,29.8 213.7,26.2 225.2,18.5 229.9,14.3 236.5,5.6Z"/>
<path fill="#e10000" d="M242.6,3 519.8,2.7 519.8,255.7 219.2,255.7 202.1,228.1 184.8,198 170.4,171.7 158.8,148.6 130,84.8 128,78.3 125.2,60.9 119.4,49.2 119,43.4 121.3,39.9 127.1,38 135.7,37.6 176.2,38.7 190.6,37 205,33.5 216.6,28.7 225.2,23 233.9,15 240.7,5.6Z"/>
<path fill="#d90000" d="M245.5,5.2 247,2.7 304.6,2.7 320.5,5.9 349.4,10.3 366.8,11.7 384.1,11.9 407.2,11 427.4,9.2 447.6,6.1 459.8,2.7 519.8,2.7 519.8,255.7 230,255.7 213.7,231.4 199.3,208.6 179,175.3 165.5,151 148.8,116.1 132.8,85.3 129.8,75.4 128.2,60.9 125.5,55 121.5,49.2 121.2,46.3 122.3,43.4 124.2,41.7 126.9,40.5 130,40.1 141.5,40.4 164.6,42.7 176.2,42.9 190.6,41.7 205,38.5 216.6,34 222.4,30.8 228.1,26.6 237.8,17.2 245.2,5.6Z"/>
<path fill="#d00000" d="M251.2,3.8 251.9,2.7 269.5,2.7 314.8,13.5 343.6,22.4 352.3,24.4 369.6,25.4 410.1,25.7 441.8,24.8 462,22.1 473.6,18.8 482.3,15.3 499.6,6.4 505.1,2.7 519.8,2.7 519.8,255.7 241.7,255.7 225.2,233.3 210.8,212.3 184.8,173 170.4,149.2 151.8,113.2 135.2,84.1 132.3,75.4 132.2,63.8 131.5,58 130,55 124.8,49.2 125.1,46.3 127.1,44.6 130,43.6 135.7,43.8 153.1,47.4 164.6,48.6 176.2,48.8 193.5,47.4 207.9,44.7 225.2,36.5 233.9,29.7 243.3,20.2 250.4,5.6Z"/>
<path fill="#c80000" d="M259.9,10.9 265.7,10.3 272.3,11.4 300.2,20.2 314.7,26 335,35.9 343.6,38.7 355.2,40.4 404.3,44.3 418.7,46.5 433.2,49.7 441.8,52.6 450.5,56.4 473.6,69.2 485.2,72.9 493.8,73.9 502.5,73.6 511.1,71.9 519.8,68.7 519.8,255.7 254.3,255.7 228.1,222.4 181.9,157.6 172.6,142.3 155.1,110.3 138.6,84.7 135.6,78.3 134.9,72.5 137.2,60.9 138.6,57.5 141.5,55.3 144.4,54.6 155.9,53.9 179,54 205,52.1 213.7,50 228.1,43.6 237.8,37.6 249.8,26 254.2,20.2 257,14.3 259.2,11.4Z"/>
<path fill="#bf0000" d="M271.5,31.3 277.2,30.9 285.9,32.8 296.7,37.6 314.8,47.5 329.2,52.5 343.6,55.5 387,62.1 401.4,65.5 413,69 427.4,74.6 459.2,89.1 496.3,104.5 519.8,116.3 519.8,255.7 268.3,255.7 242.6,226.1 187.7,155.4 177.2,139.4 158.6,107.4 141.5,83.6 138.6,78.5 137.9,75.4 138.6,70.4 141.5,64.7 144.4,61.8 147.3,60.3 158.8,58.5 202.1,57.6 210.8,56.8 219.5,55.1 231,51.7 242.6,47.1 249.6,43.4 262.8,35 269.6,31.8Z"/>
<path fill="#b70000" d="M239.7,60.7 251.2,60.6 259.9,62.4 265.7,65.4 276.1,75.4 280.1,78 288.8,80.6 297.4,80.4 323.4,76.3 337.9,75.9 361,78 384.1,83 396.9,87 410.1,92.2 490.9,129 505.4,133.9 519.8,136.7 519.8,255.7 284,255.7 268.6,240.4 257,227.8 224.6,188.8 196.4,156.3 184.1,139.4 164.7,107.4 144.4,81.9 142.1,78.3 141.1,75.4 141.9,72.5 144.4,69 147.1,66.7 150.2,65.1 155.9,63.6 167.5,62.9 207.9,63.1 237.5,60.9Z"/>
<path fill="#ae0000" d="M155.9,69.4 164.6,68.3 176.2,68.4 228.1,72.1 242.8,75.4 268.6,86.7 283,90.8 297.4,92.6 337.9,94.7 352.3,96.8 363.9,99.2 381.2,104.4 396.5,110.3 456.3,138.4 473.6,145.9 493.8,153.2 519.8,161.1 519.8,255.7 302.7,255.7 285.9,241.6 273.4,229.5 234.7,185.9 207.9,158.6 199.3,148.9 188,133.6 170.2,104.5 165.5,98.7 152,84.1 147.6,78.3 146.8,75.4 149,72.5 155.1,69.6Z"/>
<path fill="#a60000" d="M164.6,77.7 170.4,76.6 179,76.5 193.5,77.9 205,80 219.3,84.1 225.5,87 236.8,94 242.6,96.2 277.2,103.2 326.3,111.3 352.3,118.1 372.5,125.7 395.6,136.5 417.1,148.1 461.4,174.3 470.3,180.1 473.5,183 476.9,188.8 477.9,194.6 476.6,203.3 468.3,226.6 465,247 462.8,255.7 328.2,255.7 317.7,249.6 304.9,241.1 291.1,229.5 277.2,215.7 258.3,194.6 241.5,177.2 210.8,150.3 197.1,133.6 178.8,101.6 163.8,84.1 162.4,81.2 163.4,78.3Z"/>
<path fill="#9d0000" d="M219.5,116 248.4,117.1 265.7,118.8 283.5,121.9 306.4,127.7 317.7,131.6 328.9,136.5 346.5,146.8 363.9,155.1 375.8,162.6 382.8,168.4 388.2,174.3 392,180.1 394.2,185.9 394.8,191.7 393.9,197.5 387.8,212.1 386.3,217.9 386.2,220.8 388.3,229.5 398,247 395.6,249.1 372.5,245 349.4,243.4 337.9,241.5 329,238.2 315.9,229.5 305,220.8 292.9,209.2 277.2,191.3 256.9,171.4 245.5,161.8 222.4,145.2 214,133.6 211.1,127.7 210.5,124.8 210.5,121.9 211.6,119 213.7,117.1 217.4,116.1Z"/>
<use href="#sb"/>
<g stroke="#e2e2e2" stroke-width="1.5"><circle cx="198.7" cy="7.5" r="4.5" fill="#ff9100"/><circle cx="198.7" cy="16.9" r="4.5" fill="#ff4200"/><circle cx="198.7" cy="32.6" r="4.5" fill="#fc0000"/><circle cx="198.7" cy="48.4" r="4.5" fill="#e30000"/><circle cx="198.7" cy="64.1" r="4.5" fill="#cb0000"/><circle cx="198.7" cy="79.8" r="4.5" fill="#ba0000"/><circle cx="198.7" cy="95.5" r="4.5" fill="#b50000"/><circle cx="198.7" cy="111.3" r="4.5" fill="#b50000"/><circle cx="252.8" cy="7.5" r="4.5" fill="#e20000"/><circle cx="252.8" cy="16.9" r="4.5" fill="#df0000"/><circle cx="252.8" cy="32.6" r="4.5" fill="#d80000"/><circle cx="252.8" cy="48.4" r="4.5" fill="#d10000"/><circle cx="252.8" cy="64.1" r="4.5" fill="#cb0000"/><circle cx="252.8" cy="79.8" r="4.5" fill="#c30000"/><circle cx="252.8" cy="111.3" r="4.5" fill="#b50000"/><circle cx="252.8" cy="127" r="4.5" fill="#af0000"/><circle cx="252.8" cy="142.7" r="4.5" fill="#ad0000"/><circle cx="252.8" cy="158.4" r="4.5" fill="#b00000"/><circle cx="331.8" cy="7.5" r="4.5" fill="#ee0000"/><circle cx="331.8" cy="16.9" r="4.5" fill="#e70000"/><circle cx="331.8" cy="32.6" r="4.5" fill="#de0000"/><circle cx="331.8" cy="48.4" r="4.5" fill="#d60000"/><circle cx="331.8" cy="64.1" r="4.5" fill="#d10000"/><circle cx="331.8" cy="79.8" r="4.5" fill="#ca0000"/><circle cx="331.8" cy="95.5" r="4.5" fill="#c30000"/><circle cx="331.8" cy="111.3" r="4.5" fill="#bc0000"/><circle cx="331.8" cy="127" r="4.5" fill="#b60000"/><circle cx="331.8" cy="142.7" r="4.5" fill="#b10000"/><circle cx="331.8" cy="158.4" r="4.5" fill="#ae0000"/><circle cx="331.8" cy="174.2" r="4.5" fill="#ad0000"/><circle cx="331.8" cy="189.9" r="4.5" fill="#ac0000"/><circle cx="331.8" cy="205.6" r="4.5" fill="#ad0000"/><circle cx="331.8" cy="221.3" r="4.5" fill="#af0000"/><circle cx="331.8" cy="237.1" r="4.5" fill="#b20000"/><circle cx="414.1" cy="7.5" r="4.5" fill="#f00000"/><circle cx="414.1" cy="16.9" r="4.5" fill="#ea0000"/><circle cx="414.1" cy="32.6" r="4.5" fill="#e20000"/><circle cx="414.1" cy="48.4" r="4.5" fill="#dc0000"/><circle cx="414.1" cy="64.1" r="4.5" fill="#d60000"/><circle cx="414.1" cy="79.8" r="4.5" fill="#d10000"/><circle cx="414.1" cy="95.5" r="4.5" fill="#cb0000"/><circle cx="414.1" cy="111.3" r="4.5" fill="#c60000"/><circle cx="414.1" cy="127" r="4.5" fill="#c10000"/><circle cx="414.1" cy="142.7" r="4.5" fill="#bc0000"/><circle cx="414.1" cy="158.4" r="4.5" fill="#b80000"/><circle cx="414.1" cy="174.2" r="4.5" fill="#b60000"/><circle cx="414.1" cy="189.9" r="4.5" fill="#b50000"/><circle cx="414.1" cy="205.6" r="4.5" fill="#b50000"/><circle cx="414.1" cy="221.3" r="4.5" fill="#b60000"/><circle cx="414.1" cy="237.1" r="4.5" fill="#b50000"/></g>
</g>
<path d="M0,0.8H518.7" stroke="#1a1a1a" stroke-width="1.6"/>
<path d="M1,0V253.4" stroke="#222" stroke-width="2"/>
<path d="M518.1,0V253.4" stroke="#222" stroke-width="1.2"/>
<path d="M0,251.95H518.7" stroke="#000" stroke-width="2.9"/>
</g>
<text transform="translate(1898.9,806.1) scale(1,1.06)" font-size="36.6" fill="#fff">Aug 18-20, 2018</text>
<rect x="1128.2" y="814.75" width="32.6" height="12.35" fill="#000087"/>
<rect x="1128.2" y="802.71" width="32.6" height="12.35" fill="#000097"/>
<rect x="1128.2" y="790.66" width="32.6" height="12.35" fill="#0000a7"/>
<rect x="1128.2" y="778.62" width="32.6" height="12.35" fill="#0000b7"/>
<rect x="1128.2" y="766.57" width="32.6" height="12.35" fill="#0000c7"/>
<rect x="1128.2" y="754.53" width="32.6" height="12.35" fill="#0000d7"/>
<rect x="1128.2" y="742.48" width="32.6" height="12.35" fill="#0000e7"/>
<rect x="1128.2" y="730.44" width="32.6" height="12.35" fill="#0000f7"/>
<rect x="1128.2" y="718.39" width="32.6" height="12.35" fill="#0008ff"/>
<rect x="1128.2" y="706.35" width="32.6" height="12.35" fill="#0018ff"/>
<rect x="1128.2" y="694.30" width="32.6" height="12.35" fill="#0028ff"/>
<rect x="1128.2" y="682.26" width="32.6" height="12.35" fill="#0038ff"/>
<rect x="1128.2" y="670.21" width="32.6" height="12.35" fill="#0048ff"/>
<rect x="1128.2" y="658.17" width="32.6" height="12.35" fill="#0058ff"/>
<rect x="1128.2" y="646.12" width="32.6" height="12.35" fill="#0068ff"/>
<rect x="1128.2" y="634.07" width="32.6" height="12.35" fill="#0078ff"/>
<rect x="1128.2" y="622.03" width="32.6" height="12.35" fill="#0087ff"/>
<rect x="1128.2" y="609.98" width="32.6" height="12.35" fill="#0097ff"/>
<rect x="1128.2" y="597.94" width="32.6" height="12.35" fill="#00a7ff"/>
<rect x="1128.2" y="585.89" width="32.6" height="12.35" fill="#00b7ff"/>
<rect x="1128.2" y="573.85" width="32.6" height="12.35" fill="#00c7ff"/>
<rect x="1128.2" y="561.80" width="32.6" height="12.35" fill="#00d7ff"/>
<rect x="1128.2" y="549.76" width="32.6" height="12.35" fill="#00e7ff"/>
<rect x="1128.2" y="537.71" width="32.6" height="12.35" fill="#00f7ff"/>
<rect x="1128.2" y="525.67" width="32.6" height="12.35" fill="#08fff7"/>
<rect x="1128.2" y="513.62" width="32.6" height="12.35" fill="#18ffe7"/>
<rect x="1128.2" y="501.58" width="32.6" height="12.35" fill="#28ffd7"/>
<rect x="1128.2" y="489.53" width="32.6" height="12.35" fill="#38ffc7"/>
<rect x="1128.2" y="477.49" width="32.6" height="12.35" fill="#48ffb7"/>
<rect x="1128.2" y="465.44" width="32.6" height="12.35" fill="#58ffa7"/>
<rect x="1128.2" y="453.40" width="32.6" height="12.35" fill="#68ff97"/>
<rect x="1128.2" y="441.35" width="32.6" height="12.35" fill="#78ff87"/>
<rect x="1128.2" y="429.30" width="32.6" height="12.35" fill="#87ff78"/>
<rect x="1128.2" y="417.26" width="32.6" height="12.35" fill="#97ff68"/>
<rect x="1128.2" y="405.21" width="32.6" height="12.35" fill="#a7ff58"/>
<rect x="1128.2" y="393.17" width="32.6" height="12.35" fill="#b7ff48"/>
<rect x="1128.2" y="381.12" width="32.6" height="12.35" fill="#c7ff38"/>
<rect x="1128.2" y="369.08" width="32.6" height="12.35" fill="#d7ff28"/>
<rect x="1128.2" y="357.03" width="32.6" height="12.35" fill="#e7ff18"/>
<rect x="1128.2" y="344.99" width="32.6" height="12.35" fill="#f7ff08"/>
<rect x="1128.2" y="332.94" width="32.6" height="12.35" fill="#fff700"/>
<rect x="1128.2" y="320.90" width="32.6" height="12.35" fill="#ffe700"/>
<rect x="1128.2" y="308.85" width="32.6" height="12.35" fill="#ffd700"/>
<rect x="1128.2" y="296.81" width="32.6" height="12.35" fill="#ffc700"/>
<rect x="1128.2" y="284.76" width="32.6" height="12.35" fill="#ffb700"/>
<rect x="1128.2" y="272.72" width="32.6" height="12.35" fill="#ffa700"/>
<rect x="1128.2" y="260.67" width="32.6" height="12.35" fill="#ff9700"/>
<rect x="1128.2" y="248.62" width="32.6" height="12.35" fill="#ff8700"/>
<rect x="1128.2" y="236.58" width="32.6" height="12.35" fill="#ff7800"/>
<rect x="1128.2" y="224.53" width="32.6" height="12.35" fill="#ff6800"/>
<rect x="1128.2" y="212.49" width="32.6" height="12.35" fill="#ff5800"/>
<rect x="1128.2" y="200.44" width="32.6" height="12.35" fill="#ff4800"/>
<rect x="1128.2" y="188.40" width="32.6" height="12.35" fill="#ff3800"/>
<rect x="1128.2" y="176.35" width="32.6" height="12.35" fill="#ff2800"/>
<rect x="1128.2" y="164.31" width="32.6" height="12.35" fill="#ff1800"/>
<rect x="1128.2" y="152.26" width="32.6" height="12.35" fill="#ff0800"/>
<rect x="1128.2" y="140.22" width="32.6" height="12.35" fill="#f70000"/>
<rect x="1128.2" y="128.17" width="32.6" height="12.35" fill="#e70000"/>
<rect x="1128.2" y="116.13" width="32.6" height="12.35" fill="#d70000"/>
<rect x="1128.2" y="104.08" width="32.6" height="12.35" fill="#c70000"/>
<rect x="1128.2" y="92.04" width="32.6" height="12.35" fill="#b70000"/>
<rect x="1128.2" y="79.99" width="32.6" height="12.35" fill="#a70000"/>
<rect x="1128.2" y="67.95" width="32.6" height="12.35" fill="#970000"/>
<rect x="1128.2" y="55.90" width="32.6" height="12.35" fill="#870000"/>
<rect x="1129.1" y="56.8" width="30.8" height="769.1" fill="none" stroke="#101716" stroke-width="2.1"/>
<rect x="2411" y="813.18" width="32.4" height="12.32" fill="#000087"/>
<rect x="2411" y="801.16" width="32.4" height="12.32" fill="#000097"/>
<rect x="2411" y="789.14" width="32.4" height="12.32" fill="#0000a7"/>
<rect x="2411" y="777.12" width="32.4" height="12.32" fill="#0000b7"/>
<rect x="2411" y="765.11" width="32.4" height="12.32" fill="#0000c7"/>
<rect x="2411" y="753.09" width="32.4" height="12.32" fill="#0000d7"/>
<rect x="2411" y="741.07" width="32.4" height="12.32" fill="#0000e7"/>
<rect x="2411" y="729.05" width="32.4" height="12.32" fill="#0000f7"/>
<rect x="2411" y="717.03" width="32.4" height="12.32" fill="#0008ff"/>
<rect x="2411" y="705.01" width="32.4" height="12.32" fill="#0018ff"/>
<rect x="2411" y="692.99" width="32.4" height="12.32" fill="#0028ff"/>
<rect x="2411" y="680.98" width="32.4" height="12.32" fill="#0038ff"/>
<rect x="2411" y="668.96" width="32.4" height="12.32" fill="#0048ff"/>
<rect x="2411" y="656.94" width="32.4" height="12.32" fill="#0058ff"/>
<rect x="2411" y="644.92" width="32.4" height="12.32" fill="#0068ff"/>
<rect x="2411" y="632.90" width="32.4" height="12.32" fill="#0078ff"/>
<rect x="2411" y="620.88" width="32.4" height="12.32" fill="#0087ff"/>
<rect x="2411" y="608.86" width="32.4" height="12.32" fill="#0097ff"/>
<rect x="2411" y="596.84" width="32.4" height="12.32" fill="#00a7ff"/>
<rect x="2411" y="584.83" width="32.4" height="12.32" fill="#00b7ff"/>
<rect x="2411" y="572.81" width="32.4" height="12.32" fill="#00c7ff"/>
<rect x="2411" y="560.79" width="32.4" height="12.32" fill="#00d7ff"/>
<rect x="2411" y="548.77" width="32.4" height="12.32" fill="#00e7ff"/>
<rect x="2411" y="536.75" width="32.4" height="12.32" fill="#00f7ff"/>
<rect x="2411" y="524.73" width="32.4" height="12.32" fill="#08fff7"/>
<rect x="2411" y="512.71" width="32.4" height="12.32" fill="#18ffe7"/>
<rect x="2411" y="500.69" width="32.4" height="12.32" fill="#28ffd7"/>
<rect x="2411" y="488.68" width="32.4" height="12.32" fill="#38ffc7"/>
<rect x="2411" y="476.66" width="32.4" height="12.32" fill="#48ffb7"/>
<rect x="2411" y="464.64" width="32.4" height="12.32" fill="#58ffa7"/>
<rect x="2411" y="452.62" width="32.4" height="12.32" fill="#68ff97"/>
<rect x="2411" y="440.60" width="32.4" height="12.32" fill="#78ff87"/>
<rect x="2411" y="428.58" width="32.4" height="12.32" fill="#87ff78"/>
<rect x="2411" y="416.56" width="32.4" height="12.32" fill="#97ff68"/>
<rect x="2411" y="404.54" width="32.4" height="12.32" fill="#a7ff58"/>
<rect x="2411" y="392.53" width="32.4" height="12.32" fill="#b7ff48"/>
<rect x="2411" y="380.51" width="32.4" height="12.32" fill="#c7ff38"/>
<rect x="2411" y="368.49" width="32.4" height="12.32" fill="#d7ff28"/>
<rect x="2411" y="356.47" width="32.4" height="12.32" fill="#e7ff18"/>
<rect x="2411" y="344.45" width="32.4" height="12.32" fill="#f7ff08"/>
<rect x="2411" y="332.43" width="32.4" height="12.32" fill="#fff700"/>
<rect x="2411" y="320.41" width="32.4" height="12.32" fill="#ffe700"/>
<rect x="2411" y="308.39" width="32.4" height="12.32" fill="#ffd700"/>
<rect x="2411" y="296.38" width="32.4" height="12.32" fill="#ffc700"/>
<rect x="2411" y="284.36" width="32.4" height="12.32" fill="#ffb700"/>
<rect x="2411" y="272.34" width="32.4" height="12.32" fill="#ffa700"/>
<rect x="2411" y="260.32" width="32.4" height="12.32" fill="#ff9700"/>
<rect x="2411" y="248.30" width="32.4" height="12.32" fill="#ff8700"/>
<rect x="2411" y="236.28" width="32.4" height="12.32" fill="#ff7800"/>
<rect x="2411" y="224.26" width="32.4" height="12.32" fill="#ff6800"/>
<rect x="2411" y="212.24" width="32.4" height="12.32" fill="#ff5800"/>
<rect x="2411" y="200.23" width="32.4" height="12.32" fill="#ff4800"/>
<rect x="2411" y="188.21" width="32.4" height="12.32" fill="#ff3800"/>
<rect x="2411" y="176.19" width="32.4" height="12.32" fill="#ff2800"/>
<rect x="2411" y="164.17" width="32.4" height="12.32" fill="#ff1800"/>
<rect x="2411" y="152.15" width="32.4" height="12.32" fill="#ff0800"/>
<rect x="2411" y="140.13" width="32.4" height="12.32" fill="#f70000"/>
<rect x="2411" y="128.11" width="32.4" height="12.32" fill="#e70000"/>
<rect x="2411" y="116.09" width="32.4" height="12.32" fill="#d70000"/>
<rect x="2411" y="104.08" width="32.4" height="12.32" fill="#c70000"/>
<rect x="2411" y="92.06" width="32.4" height="12.32" fill="#b70000"/>
<rect x="2411" y="80.04" width="32.4" height="12.32" fill="#a70000"/>
<rect x="2411" y="68.02" width="32.4" height="12.32" fill="#970000"/>
<rect x="2411" y="56.00" width="32.4" height="12.32" fill="#870000"/>
<rect x="2411.9" y="56.9" width="30.6" height="767.4" fill="none" stroke="#101716" stroke-width="2.1"/>
<path d="M1152,750.0H1159.5" stroke="#16201f" stroke-width="2"/>
<text x="1169.8" y="759.9" font-size="29">21</text>
<path d="M1152,673.0H1159.5" stroke="#16201f" stroke-width="2"/>
<text x="1169.8" y="682.9" font-size="29">22</text>
<path d="M1152,596.0H1159.5" stroke="#16201f" stroke-width="2"/>
<text x="1169.8" y="605.9" font-size="29">23</text>
<path d="M1152,519.0H1159.5" stroke="#16201f" stroke-width="2"/>
<text x="1169.8" y="528.9" font-size="29">24</text>
<path d="M1152,442.0H1159.5" stroke="#16201f" stroke-width="2"/>
<text x="1169.8" y="451.9" font-size="29">25</text>
<path d="M1152,365.0H1159.5" stroke="#16201f" stroke-width="2"/>
<text x="1169.8" y="374.9" font-size="29">26</text>
<path d="M1152,288.0H1159.5" stroke="#16201f" stroke-width="2"/>
<text x="1169.8" y="297.9" font-size="29">27</text>
<path d="M1152,211.0H1159.5" stroke="#16201f" stroke-width="2"/>
<text x="1169.8" y="220.9" font-size="29">28</text>
<path d="M1152,134.0H1159.5" stroke="#16201f" stroke-width="2"/>
<text x="1169.8" y="143.9" font-size="29">29</text>
<text x="1169.8" y="836" font-size="29">20</text>
<text x="1169.8" y="66.8" font-size="29">30</text>
<path d="M2435,568.5H2442.5" stroke="#16201f" stroke-width="2"/>
<text x="2452.4" y="578.4" font-size="29">25</text>
<path d="M2435,312.7H2442.5" stroke="#16201f" stroke-width="2"/>
<text x="2452.4" y="322.6" font-size="29">30</text>
<text x="2452.4" y="834.2" font-size="29">20</text>
<text x="2452.4" y="67.2" font-size="29">35</text>
<text x="2453.5" y="92.1" font-size="23">PSU</text>
<text x="1181.5" y="85.4" font-size="17">o</text><text x="1190.5" y="97.5" font-size="24">C</text>
<text x="1100.3" y="35.9" font-size="26.7">Temperature</text>
<text x="2402" y="36" font-size="26">Salintiy</text>
<text transform="translate(1258,507.5) rotate(-90)" font-size="36.5">Depth(m)</text>
<text x="-0.4" y="101.8" font-size="33.2">20</text>
<text x="-0.4" y="164.5" font-size="33.2">40</text>
<text x="-0.4" y="227.2" font-size="33.2">60</text>
<text x="-0.4" y="289.8" font-size="33.2">80</text>
<text x="-0.4" y="375.5" font-size="33.2">20</text>
<text x="-0.4" y="438.2" font-size="33.2">40</text>
<text x="-0.4" y="500.9" font-size="33.2">60</text>
<text x="-0.4" y="563.5" font-size="33.2">80</text>
<text x="-0.4" y="649.3" font-size="33.2">20</text>
<text x="-0.4" y="711.8" font-size="33.2">40</text>
<text x="-0.4" y="774.3" font-size="33.2">60</text>
<text x="-0.4" y="836.9" font-size="33.2">80</text>
<text x="1285.8" y="102.4" font-size="33.2">20</text>
<text x="1285.8" y="164.9" font-size="33.2">40</text>
<text x="1285.8" y="227.3" font-size="33.2">60</text>
<text x="1285.8" y="289.8" font-size="33.2">80</text>
<text x="1285.8" y="375.1" font-size="33.2">20</text>
<text x="1285.8" y="437.4" font-size="33.2">40</text>
<text x="1285.8" y="499.7" font-size="33.2">60</text>
<text x="1285.8" y="562.0" font-size="33.2">80</text>
<text x="1285.8" y="647.6" font-size="33.2">20</text>
<text x="1285.8" y="710.0" font-size="33.2">40</text>
<text x="1285.8" y="772.4" font-size="33.2">60</text>
<text x="1285.8" y="834.9" font-size="33.2">80</text>
<text x="144.3" y="873.6" font-size="33.2">22<tspan font-size="20.5" dy="-17.2">o</tspan><tspan dy="17.2">N</tspan></text>
<text x="398.7" y="873.6" font-size="33.2">21<tspan font-size="20.5" dy="-17.2">o</tspan><tspan dy="17.2">N</tspan></text>
<text x="683.4" y="873.6" font-size="33.2">22<tspan font-size="20.5" dy="-17.2">o</tspan><tspan dy="17.2">N</tspan></text>
<text x="937.7" y="873.6" font-size="33.2">21<tspan font-size="20.5" dy="-17.2">o</tspan><tspan dy="17.2">N</tspan></text>
<text x="1430.4" y="872.0" font-size="33.2">22<tspan font-size="20.5" dy="-17.2">o</tspan><tspan dy="17.2">N</tspan></text>
<text x="1684.2" y="872.0" font-size="33.2">21<tspan font-size="20.5" dy="-17.2">o</tspan><tspan dy="17.2">N</tspan></text>
<text x="1968.2" y="872.0" font-size="33.2">22<tspan font-size="20.5" dy="-17.2">o</tspan><tspan dy="17.2">N</tspan></text>
<text x="2221.7" y="872.0" font-size="33.2">21<tspan font-size="20.5" dy="-17.2">o</tspan><tspan dy="17.2">N</tspan></text>
<text x="43.3" y="16.7" font-size="21.5">(A)</text>
<text x="583.1" y="19.6" font-size="21.5">(B)</text>
<text x="41.8" y="297.8" font-size="21.5">(C)</text>
<text x="581.7" y="297.2" font-size="21.5">(D)</text>
<text x="40.4" y="570.7" font-size="21.5">(E)</text>
<text x="580.2" y="570.7" font-size="21.5">(F)</text>
<text x="1326.8" y="15.3" font-size="21.5">(G)</text>
<text x="1865.6" y="14.7" font-size="21.5">(H)</text>
<text x="1326.3" y="296.9" font-size="21.5">(I)</text>
<text x="1860.8" y="297.2" font-size="21.5">(J)</text>
<text x="1320.2" y="569.8" font-size="21.5">(K)</text>
<text x="1861" y="570.5" font-size="21.5">(L)</text>
</svg></body></html>
